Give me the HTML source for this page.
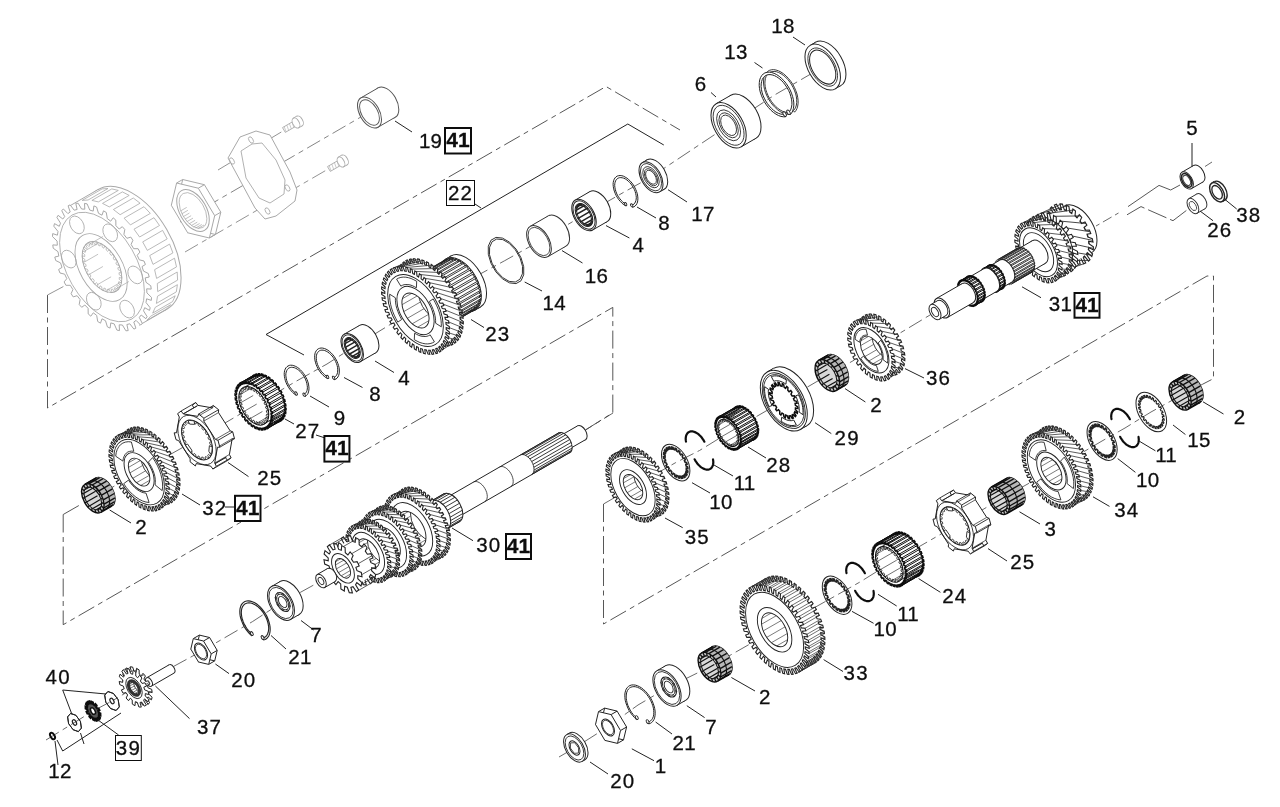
<!DOCTYPE html>
<html><head><meta charset="utf-8"><style>
html,body{margin:0;padding:0;background:#fff;width:1280px;height:807px;overflow:hidden}
svg{display:block}
text{font-family:"Liberation Sans",sans-serif;font-size:20.5px;fill:#111;letter-spacing:1.2px;stroke:#111;stroke-width:0.3px}
text.b{font-weight:bold;font-size:21px;letter-spacing:0;stroke:#111;stroke-width:0.3px}
</style></head><body>
<svg width="1280" height="807" viewBox="0 0 1280 807">
<defs><filter id="soft" x="0" y="0" width="1" height="1"><feGaussianBlur stdDeviation="0.45"/></filter></defs>
<rect width="1280" height="807" fill="#fff"/>
<g filter="url(#soft)">
<path d="M47.5 295 L47.5 408 L606 86.5 L680 130" fill="none" stroke="#444" stroke-width="0.9" stroke-dasharray="18 4.5 5 4.5"/>
<path d="M63.2 514.5 L63.2 624.7 L612.8 307.4 L612.8 412.8 L579 434" fill="none" stroke="#444" stroke-width="0.9" stroke-dasharray="18 4.5 5 4.5"/>
<path d="M603.5 504 L603.5 624 L1207 276 L1213.5 276 L1213.5 378.6 L1203 384" fill="none" stroke="#444" stroke-width="0.9" stroke-dasharray="18 4.5 5 4.5"/>
<path d="M47.5 295 L102 266" fill="none" stroke="#8a8a8a" stroke-width="0.9" stroke-dasharray="18 4.5 5 4.5"/>
<path d="M180 222 L366 114" fill="none" stroke="#666" stroke-width="0.8" stroke-dasharray="15 4.6 5.2 4.6"/>
<path d="M218 170 L283 131" fill="none" stroke="#777" stroke-width="0.8" stroke-dasharray="15 4.6 5.2 4.6"/>
<path d="M185 252 L330 168" fill="none" stroke="#777" stroke-width="0.8" stroke-dasharray="15 4.6 5.2 4.6"/>
<path d="M579 434 L613 413" fill="none" stroke="#444" stroke-width="0.8" stroke-dasharray="15 4.6 5.2 4.6"/>
<path d="M63.2 514.5 L81 504.3" fill="none" stroke="#444" stroke-width="0.9" stroke-dasharray="18 4.5 5 4.5"/>
<path d="M92.8 498.4 L139 472 L196 440 L254 406 L296.6 381 L327 364 L352 348 L414.6 309.5 L504.5 260.8 L539 241.5 L584 215 L623 192.7 L651 177 L728.6 125.3 L775.4 94.5 L822.7 67.1 L838 58" fill="none" stroke="#444" stroke-width="0.8" stroke-dasharray="15 4.6 5.2 4.6"/>
<path d="M46 740 L52.5 736 L74.5 722.5 L93 711 L112 701 L134 688 L201 651.5 L252.5 621.6 L281 603 L321 581" fill="none" stroke="#444" stroke-width="0.8" stroke-dasharray="15 4.6 5.2 4.6"/>
<path d="M603.5 504 L633 487 L675.7 462.6 L699.5 450.5 L728 433 L783.8 400.7 L827.3 375.5 L871.4 350.3 L935 312" fill="none" stroke="#444" stroke-width="0.8" stroke-dasharray="15 4.6 5.2 4.6"/>
<path d="M559 757 L574.5 748 L607.5 727 L638 705 L667 688 L709.5 667 L774.6 630 L837 595 L860 582 L889 564 L955 526 L999 500 L1051 471 L1102 441 L1125 428 L1151 412 L1180 396 L1203 384" fill="none" stroke="#444" stroke-width="0.8" stroke-dasharray="15 4.6 5.2 4.6"/>
<path d="M1096 226 L1122 211" fill="none" stroke="#444" stroke-width="0.8" stroke-dasharray="4 4 10 4"/>
<path d="M1205 166.5 L1212 162" fill="none" stroke="#444" stroke-width="0.8"/>
<ellipse cx="132.3" cy="249.5" rx="39.8" ry="69" transform="rotate(-30 132.3 249.5)" fill="#fff" stroke="#a8a8a8" stroke-width="1.0"/>
<path d="M70.1 205.7 L97.8 189.7 L166.8 309.3 L139.1 325.3Z" fill="#fff" stroke="none" stroke-width="0"/>
<line x1="70.1" y1="205.7" x2="97.8" y2="189.7" stroke="#a8a8a8" stroke-width="1.0"/>
<line x1="139.1" y1="325.3" x2="166.8" y2="309.3" stroke="#a8a8a8" stroke-width="1.0"/>
<path d="M142.7 241.9 L162.6 230.4 L167.2 238.9 L147.3 250.4Z" fill="none" stroke="#a8a8a8" stroke-width="0.8"/>
<path d="M149.7 255.6 L169.6 244.1 L172.9 252.9 L153 264.4Z" fill="none" stroke="#a8a8a8" stroke-width="0.8"/>
<path d="M154.6 269.7 L174.5 258.2 L176.5 266.9 L156.6 278.4Z" fill="none" stroke="#a8a8a8" stroke-width="0.8"/>
<path d="M157.3 283.5 L177.2 272 L177.6 280.1 L157.7 291.6Z" fill="none" stroke="#a8a8a8" stroke-width="0.8"/>
<path d="M157.5 296.2 L177.4 284.7 L176.3 291.9 L156.4 303.4Z" fill="none" stroke="#a8a8a8" stroke-width="0.8"/>
<path d="M155.3 307.3 L175.2 295.8 L172.6 301.6 L152.7 313.1Z" fill="none" stroke="#a8a8a8" stroke-width="0.8"/>
<path d="M150.7 316.2 L170.7 304.7 L166.8 308.9 L146.8 320.4Z" fill="none" stroke="#a8a8a8" stroke-width="0.8"/>
<path d="M82.1 200.4 L102.1 188.9 L108 188.5 L88.1 200Z" fill="none" stroke="#a8a8a8" stroke-width="0.8"/>
<path d="M91.9 200.4 L111.8 188.9 L118.3 190.4 L98.4 201.9Z" fill="none" stroke="#a8a8a8" stroke-width="0.8"/>
<path d="M102.5 203.4 L122.4 191.9 L129.2 195.4 L109.3 206.9Z" fill="none" stroke="#a8a8a8" stroke-width="0.8"/>
<path d="M113.4 209.5 L133.3 198 L140.1 203.2 L120.1 214.7Z" fill="none" stroke="#a8a8a8" stroke-width="0.8"/>
<path d="M124.1 218.2 L144 206.7 L150.3 213.4 L130.4 224.9Z" fill="none" stroke="#a8a8a8" stroke-width="0.8"/>
<path d="M134 229.2 L154 217.7 L159.5 225.5 L139.6 237Z" fill="none" stroke="#a8a8a8" stroke-width="0.8"/>
<path d="M133.7 248.7 L138.1 248.7 L139.9 252.1 L137.2 255.3 L139.3 259.8 L144 261 L145.4 264.5 L142 266.6 L143.5 271.1 L148.3 273.5 L149.2 277 L145.2 277.9 L146 282.3 L150.8 285.8 L151.2 289.1 L146.7 288.8 L146.9 292.9 L151.5 297.4 L151.3 300.4 L146.6 298.8 L146 302.5 L150.2 307.8 L149.5 310.4 L144.7 307.7 L143.5 310.8 L147.1 316.6 L145.9 318.7 L141.2 315 L139.3 317.4 L142.3 323.5 L140.6 325 L136.1 320.4 L133.8 322 L135.9 328.2 L133.9 329.1 L129.8 323.8 L126.9 324.5 L128.2 330.6 L125.9 330.8 L122.4 325 L119.2 324.8 L119.5 330.6 L116.9 330.1 L114.2 323.9 L110.8 322.9 L110.1 328.1 L107.4 326.9 L105.5 320.7 L102 318.8 L100.5 323.2 L97.7 321.5 L96.7 315.4 L93.3 312.8 L90.8 316.2 L88.2 313.9 L88.1 308.3 L84.8 305 L81.7 307.3 L79.2 304.5 L80.1 299.6 L77.1 295.7 L73.2 296.9 L71.1 293.7 L72.9 289.6 L70.3 285.3 L65.9 285.3 L64.1 281.9 L66.8 278.7 L64.7 274.2 L60 273 L58.6 269.5 L62 267.4 L60.5 262.9 L55.7 260.5 L54.8 257 L58.8 256.1 L58 251.7 L53.2 248.2 L52.8 244.9 L57.3 245.2 L57.1 241.1 L52.5 236.6 L52.7 233.6 L57.4 235.2 L58 231.5 L53.8 226.2 L54.5 223.6 L59.3 226.3 L60.5 223.2 L56.9 217.4 L58.1 215.3 L62.8 219 L64.7 216.6 L61.7 210.5 L63.4 209 L67.9 213.6 L70.2 212 L68.1 205.8 L70.1 204.9 L74.2 210.2 L77.1 209.5 L75.8 203.4 L78.1 203.2 L81.6 209 L84.8 209.2 L84.5 203.4 L87.1 203.9 L89.8 210.1 L93.2 211.1 L93.9 205.9 L96.6 207.1 L98.5 213.3 L102 215.2 L103.5 210.8 L106.3 212.5 L107.3 218.6 L110.7 221.2 L113.2 217.8 L115.8 220.1 L115.9 225.7 L119.2 229 L122.3 226.7 L124.8 229.5 L123.9 234.4 L126.9 238.3 L130.8 237.1 L132.9 240.3 L131.1 244.4Z" fill="#fff" stroke="#a8a8a8" stroke-width="1.0"/>
<ellipse cx="102" cy="267" rx="34.6" ry="60" transform="rotate(-30 102 267)" fill="none" stroke="#a8a8a8" stroke-width="0.8"/>
<ellipse cx="101.1" cy="267.5" rx="21.3" ry="37" transform="rotate(-30 101.1 267.5)" fill="#fff" stroke="#a8a8a8" stroke-width="0.9"/>
<ellipse cx="102" cy="267" rx="16.2" ry="28" transform="rotate(-30 102 267)" fill="#fff" stroke="#a8a8a8" stroke-width="0.9"/>
<path d="M114.2 259.9 L116.4 259.6 L117.4 261.5 L115.8 262.8 L116.7 264.8 L119 265.2 L119.8 267.2 L117.8 267.8 L118.3 269.8 L120.8 270.9 L121.3 272.9 L119 272.7 L119.2 274.7 L121.7 276.4 L121.8 278.3 L119.3 277.4 L119.2 279.2 L121.6 281.5 L121.3 283.1 L118.8 281.6 L118.3 283 L120.5 285.8 L119.9 287.1 L117.5 285 L116.7 286.1 L118.5 289.2 L117.6 290.1 L115.3 287.5 L114.2 288.2 L115.6 291.5 L114.4 292 L112.5 289 L111.2 289.3 L112.1 292.5 L110.7 292.6 L109.2 289.4 L107.7 289.2 L108 292.3 L106.5 291.9 L105.5 288.6 L103.9 288 L103.7 290.7 L102.1 289.9 L101.7 286.8 L100.1 285.8 L99.3 288.1 L97.7 286.8 L97.8 284 L96.3 282.6 L95 284.3 L93.5 282.8 L94.2 280.3 L92.8 278.6 L91 279.7 L89.8 277.9 L90.9 276 L89.8 274.1 L87.6 274.4 L86.6 272.5 L88.2 271.2 L87.3 269.2 L85 268.8 L84.2 266.8 L86.2 266.2 L85.7 264.2 L83.2 263.1 L82.7 261.1 L85 261.3 L84.8 259.3 L82.3 257.6 L82.2 255.7 L84.7 256.6 L84.8 254.8 L82.4 252.5 L82.7 250.9 L85.2 252.4 L85.7 251 L83.5 248.2 L84.1 246.9 L86.5 249 L87.3 247.9 L85.5 244.8 L86.4 243.9 L88.7 246.5 L89.8 245.8 L88.4 242.5 L89.6 242 L91.5 245 L92.8 244.7 L91.9 241.5 L93.3 241.4 L94.8 244.6 L96.3 244.8 L96 241.7 L97.5 242.1 L98.5 245.4 L100.1 246 L100.3 243.3 L101.9 244.1 L102.3 247.2 L103.9 248.2 L104.7 245.9 L106.3 247.2 L106.2 250 L107.7 251.4 L109 249.7 L110.5 251.2 L109.8 253.7 L111.2 255.4 L113 254.3 L114.2 256.1 L113.1 258Z" fill="none" stroke="#a8a8a8" stroke-width="0.7"/>
<ellipse cx="135.2" cy="274.9" rx="6.5" ry="9.5" transform="rotate(-30 135.2 274.9)" fill="none" stroke="#a8a8a8" stroke-width="0.8"/>
<ellipse cx="127.1" cy="309.1" rx="6.5" ry="9.5" transform="rotate(-30 127.1 309.1)" fill="none" stroke="#a8a8a8" stroke-width="0.8"/>
<ellipse cx="93.8" cy="301.2" rx="6.5" ry="9.5" transform="rotate(-30 93.8 301.2)" fill="none" stroke="#a8a8a8" stroke-width="0.8"/>
<ellipse cx="68.8" cy="259.1" rx="6.5" ry="9.5" transform="rotate(-30 68.8 259.1)" fill="none" stroke="#a8a8a8" stroke-width="0.8"/>
<ellipse cx="76.9" cy="224.9" rx="6.5" ry="9.5" transform="rotate(-30 76.9 224.9)" fill="none" stroke="#a8a8a8" stroke-width="0.8"/>
<ellipse cx="110.2" cy="232.8" rx="6.5" ry="9.5" transform="rotate(-30 110.2 232.8)" fill="none" stroke="#a8a8a8" stroke-width="0.8"/>
<line x1="115" y1="289.5" x2="128.9" y2="281.5" stroke="#a8a8a8" stroke-width="0.7"/>
<line x1="106.8" y1="290.3" x2="120.6" y2="282.3" stroke="#a8a8a8" stroke-width="0.7"/>
<line x1="97.2" y1="284.8" x2="111.1" y2="276.8" stroke="#a8a8a8" stroke-width="0.7"/>
<line x1="89" y1="274.5" x2="102.9" y2="266.5" stroke="#a8a8a8" stroke-width="0.7"/>
<line x1="84.2" y1="262.2" x2="98.1" y2="254.2" stroke="#a8a8a8" stroke-width="0.7"/>
<line x1="84.2" y1="251.3" x2="98.1" y2="243.3" stroke="#a8a8a8" stroke-width="0.7"/>
<line x1="89" y1="244.5" x2="102.9" y2="236.5" stroke="#a8a8a8" stroke-width="0.7"/>
<path d="M220.8 212.2 L215.4 234.5 L193.7 229.3 L177.4 201.8 L182.7 179.5 L204.4 184.7Z" fill="#fff" stroke="#a8a8a8" stroke-width="1.0"/>
<line x1="214.7" y1="215.7" x2="220.8" y2="212.2" stroke="#a8a8a8" stroke-width="1.0"/>
<line x1="209.4" y1="238" x2="215.4" y2="234.5" stroke="#a8a8a8" stroke-width="1.0"/>
<line x1="187.7" y1="232.8" x2="193.7" y2="229.3" stroke="#a8a8a8" stroke-width="1.0"/>
<line x1="171.3" y1="205.3" x2="177.4" y2="201.8" stroke="#a8a8a8" stroke-width="1.0"/>
<line x1="176.6" y1="183" x2="182.7" y2="179.5" stroke="#a8a8a8" stroke-width="1.0"/>
<line x1="198.3" y1="188.2" x2="204.4" y2="184.7" stroke="#a8a8a8" stroke-width="1.0"/>
<path d="M214.7 215.7 L209.4 238 L187.7 232.8 L171.3 205.3 L176.6 183 L198.3 188.2Z" fill="#fff" stroke="#a8a8a8" stroke-width="1.0"/>
<ellipse cx="193" cy="210.5" rx="13.3" ry="23" transform="rotate(-30 193 210.5)" fill="none" stroke="#a8a8a8" stroke-width="1.0"/>
<ellipse cx="193" cy="210.5" rx="11.3" ry="19.6" transform="rotate(-30 193 210.5)" fill="none" stroke="#a8a8a8" stroke-width="0.7"/>
<line x1="197.9" y1="228.5" x2="204" y2="225" stroke="#a8a8a8" stroke-width="0.7"/>
<line x1="195.7" y1="228" x2="201.8" y2="224.5" stroke="#a8a8a8" stroke-width="0.7"/>
<line x1="193.5" y1="227" x2="199.6" y2="223.5" stroke="#a8a8a8" stroke-width="0.7"/>
<line x1="191.3" y1="225.6" x2="197.3" y2="222.1" stroke="#a8a8a8" stroke-width="0.7"/>
<line x1="189.1" y1="223.8" x2="195.1" y2="220.3" stroke="#a8a8a8" stroke-width="0.7"/>
<line x1="187" y1="221.6" x2="193" y2="218.1" stroke="#a8a8a8" stroke-width="0.7"/>
<line x1="185" y1="219.2" x2="191.1" y2="215.7" stroke="#a8a8a8" stroke-width="0.7"/>
<line x1="183.3" y1="216.6" x2="189.4" y2="213.1" stroke="#a8a8a8" stroke-width="0.7"/>
<line x1="181.8" y1="213.8" x2="187.9" y2="210.3" stroke="#a8a8a8" stroke-width="0.7"/>
<line x1="180.6" y1="210.9" x2="186.7" y2="207.4" stroke="#a8a8a8" stroke-width="0.7"/>
<path d="M228 158 L240 137 L256 131 L270 135 L290 172 L297 190 L295 201 L276 216 L265 219 L255 208Z" fill="#fff" stroke="#a8a8a8" stroke-width="1.0"/>
<path d="M241 151 L252 144 L262 143 L276 160 L285 180 L284 194 L270 203 L259 198 L246 178Z" fill="none" stroke="#a8a8a8" stroke-width="0.9"/>
<ellipse cx="251" cy="140" rx="2" ry="3.5" transform="rotate(-30 251 140)" fill="none" stroke="#a8a8a8" stroke-width="0.8"/>
<ellipse cx="267.5" cy="211" rx="2" ry="3.5" transform="rotate(-30 267.5 211)" fill="none" stroke="#a8a8a8" stroke-width="0.8"/>
<ellipse cx="232" cy="161" rx="2" ry="3.5" transform="rotate(-30 232 161)" fill="none" stroke="#a8a8a8" stroke-width="0.8"/>
<ellipse cx="287.5" cy="188" rx="2" ry="3.5" transform="rotate(-30 287.5 188)" fill="none" stroke="#a8a8a8" stroke-width="0.8"/>
<path d="M282.5 127.6 L294.6 120.6 L297.4 125.4 L285.3 132.4Z" fill="#fff" stroke="#a8a8a8" stroke-width="0.9"/>
<line x1="284.2" y1="126.6" x2="286.1" y2="131.9" stroke="#a8a8a8" stroke-width="0.6"/>
<line x1="286.8" y1="125.1" x2="288.7" y2="130.4" stroke="#a8a8a8" stroke-width="0.6"/>
<line x1="289.4" y1="123.6" x2="291.3" y2="128.9" stroke="#a8a8a8" stroke-width="0.6"/>
<line x1="292" y1="122.1" x2="293.9" y2="127.4" stroke="#a8a8a8" stroke-width="0.6"/>
<ellipse cx="299.5" cy="121" rx="3.2" ry="5.5" transform="rotate(-30 299.5 121)" fill="#fff" stroke="#a8a8a8" stroke-width="0.9"/>
<path d="M293.2 118.2 L296.7 116.2 L302.2 125.8 L298.8 127.8Z" fill="#fff" stroke="none" stroke-width="0"/>
<line x1="293.2" y1="118.2" x2="296.7" y2="116.2" stroke="#a8a8a8" stroke-width="0.9"/>
<line x1="298.8" y1="127.8" x2="302.2" y2="125.8" stroke="#a8a8a8" stroke-width="0.9"/>
<ellipse cx="296" cy="123" rx="3.2" ry="5.5" transform="rotate(-30 296 123)" fill="#fff" stroke="#a8a8a8" stroke-width="0.9"/>
<path d="M327.5 166.6 L339.6 159.6 L342.4 164.4 L330.3 171.4Z" fill="#fff" stroke="#a8a8a8" stroke-width="0.9"/>
<line x1="329.2" y1="165.6" x2="331.1" y2="170.9" stroke="#a8a8a8" stroke-width="0.6"/>
<line x1="331.8" y1="164.1" x2="333.7" y2="169.4" stroke="#a8a8a8" stroke-width="0.6"/>
<line x1="334.4" y1="162.6" x2="336.3" y2="167.9" stroke="#a8a8a8" stroke-width="0.6"/>
<line x1="337" y1="161.1" x2="338.9" y2="166.4" stroke="#a8a8a8" stroke-width="0.6"/>
<ellipse cx="344.5" cy="160" rx="3.2" ry="5.5" transform="rotate(-30 344.5 160)" fill="#fff" stroke="#a8a8a8" stroke-width="0.9"/>
<path d="M338.2 157.2 L341.7 155.2 L347.2 164.8 L343.8 166.8Z" fill="#fff" stroke="none" stroke-width="0"/>
<line x1="338.2" y1="157.2" x2="341.7" y2="155.2" stroke="#a8a8a8" stroke-width="0.9"/>
<line x1="343.8" y1="166.8" x2="347.2" y2="164.8" stroke="#a8a8a8" stroke-width="0.9"/>
<ellipse cx="341" cy="162" rx="3.2" ry="5.5" transform="rotate(-30 341 162)" fill="#fff" stroke="#a8a8a8" stroke-width="0.9"/>
<ellipse cx="386.8" cy="102.5" rx="9.8" ry="17" transform="rotate(-30 386.8 102.5)" fill="#fff" stroke="#555" stroke-width="1.0"/>
<path d="M361 97.8 L378.3 87.8 L395.3 117.2 L378 127.2Z" fill="#fff" stroke="none" stroke-width="0"/>
<line x1="361" y1="97.8" x2="378.3" y2="87.8" stroke="#555" stroke-width="1.0"/>
<line x1="378" y1="127.2" x2="395.3" y2="117.2" stroke="#555" stroke-width="1.0"/>
<ellipse cx="369.5" cy="112.5" rx="9.8" ry="17" transform="rotate(-30 369.5 112.5)" fill="#fff" stroke="#555" stroke-width="1.0"/>
<ellipse cx="369.5" cy="112.5" rx="8.1" ry="14" transform="rotate(-30 369.5 112.5)" fill="none" stroke="#555" stroke-width="0.9"/>
<path d="M521 257.7 L523.7 266.7 L523.7 274.8 L521 280.8 L516 283.6 L509.5 282.9 L502.4 278.8 L495.9 271.9 L491 263.3 L488.3 254.3 L488.3 246.2 L491 240.2 L496 237.4 L502.5 238.1 L509.6 242.2 L516.1 249.1Z" fill="none" stroke="#333" stroke-width="1.0"/>
<path d="M520 257.9 L522.5 266.3 L522.4 273.8 L519.9 279.3 L515.3 282 L509.2 281.4 L502.7 277.6 L496.6 271.1 L492 263.1 L489.5 254.7 L489.6 247.2 L492.1 241.7 L496.7 239 L502.8 239.6 L509.3 243.4 L515.4 249.9Z" fill="none" stroke="#333" stroke-width="1.0"/>
<ellipse cx="557.2" cy="231" rx="10.1" ry="17.5" transform="rotate(-30 557.2 231)" fill="#fff" stroke="#333" stroke-width="1.0"/>
<path d="M530.2 226.3 L548.4 215.8 L565.9 246.2 L547.8 256.7Z" fill="#fff" stroke="none" stroke-width="0"/>
<line x1="530.2" y1="226.3" x2="548.4" y2="215.8" stroke="#333" stroke-width="1.0"/>
<line x1="547.8" y1="256.7" x2="565.9" y2="246.2" stroke="#333" stroke-width="1.0"/>
<ellipse cx="539" cy="241.5" rx="10.1" ry="17.5" transform="rotate(-30 539 241.5)" fill="#fff" stroke="#333" stroke-width="1.0"/>
<ellipse cx="539" cy="241.5" rx="8.9" ry="15.5" transform="rotate(-30 539 241.5)" fill="none" stroke="#333" stroke-width="0.8"/>
<ellipse cx="598.5" cy="206.6" rx="10" ry="17.3" transform="rotate(-30 598.5 206.6)" fill="#fff" stroke="#222" stroke-width="1.0"/>
<path d="M575.4 200 L589.9 191.6 L607.2 221.6 L592.6 230Z" fill="#fff" stroke="none" stroke-width="0"/>
<line x1="575.4" y1="200" x2="589.9" y2="191.6" stroke="#222" stroke-width="1.0"/>
<line x1="592.6" y1="230" x2="607.2" y2="221.6" stroke="#222" stroke-width="1.0"/>
<ellipse cx="584" cy="215" rx="10" ry="17.3" transform="rotate(-30 584 215)" fill="#fff" stroke="#222" stroke-width="1.0"/>
<ellipse cx="584" cy="215" rx="9" ry="15.6" transform="rotate(-30 584 215)" fill="none" stroke="#222" stroke-width="0.9"/>
<ellipse cx="584" cy="215" rx="7.2" ry="12.5" transform="rotate(-30 584 215)" fill="#fff" stroke="#222" stroke-width="1.0"/>
<clipPath id="nc1"><ellipse cx="584" cy="215" rx="7.2" ry="12.5" transform="rotate(-30 584 215)" fill="#000" stroke="none" stroke-width="0"/></clipPath>
<g clip-path="url(#nc1)"><line x1="590.2" y1="211.4" x2="601.9" y2="204.7" stroke="#222" stroke-width="1.5"/><line x1="589.2" y1="212" x2="590.2" y2="211.4" stroke="#222" stroke-width="1.3"/><line x1="592" y1="215.3" x2="603.6" y2="208.6" stroke="#222" stroke-width="1.5"/><line x1="590.6" y1="215.3" x2="592" y2="215.3" stroke="#222" stroke-width="1.3"/><line x1="592.8" y1="219.2" x2="604.4" y2="212.5" stroke="#222" stroke-width="1.5"/><line x1="591.3" y1="218.5" x2="592.8" y2="219.2" stroke="#222" stroke-width="1.3"/><line x1="592.5" y1="222.5" x2="604.1" y2="215.8" stroke="#222" stroke-width="1.5"/><line x1="591.1" y1="221.3" x2="592.5" y2="222.5" stroke="#222" stroke-width="1.3"/><line x1="591.2" y1="225" x2="602.9" y2="218.3" stroke="#222" stroke-width="1.5"/><line x1="590" y1="223.3" x2="591.2" y2="225" stroke="#222" stroke-width="1.3"/><line x1="589.1" y1="226.2" x2="600.7" y2="219.5" stroke="#222" stroke-width="1.5"/><line x1="588.2" y1="224.4" x2="589.1" y2="226.2" stroke="#222" stroke-width="1.3"/><line x1="586.3" y1="226.1" x2="597.9" y2="219.4" stroke="#222" stroke-width="1.5"/><line x1="585.9" y1="224.3" x2="586.3" y2="226.1" stroke="#222" stroke-width="1.3"/><line x1="583.2" y1="224.7" x2="594.9" y2="218" stroke="#222" stroke-width="1.5"/><line x1="583.4" y1="223.1" x2="583.2" y2="224.7" stroke="#222" stroke-width="1.3"/><line x1="580.3" y1="222.1" x2="591.9" y2="215.3" stroke="#222" stroke-width="1.5"/><line x1="580.9" y1="220.9" x2="580.3" y2="222.1" stroke="#222" stroke-width="1.3"/><line x1="577.8" y1="218.6" x2="589.4" y2="211.9" stroke="#222" stroke-width="1.5"/><line x1="578.8" y1="218" x2="577.8" y2="218.6" stroke="#222" stroke-width="1.3"/><line x1="576" y1="214.7" x2="587.7" y2="208" stroke="#222" stroke-width="1.5"/><line x1="577.4" y1="214.7" x2="576" y2="214.7" stroke="#222" stroke-width="1.3"/><line x1="575.2" y1="210.8" x2="586.9" y2="204.1" stroke="#222" stroke-width="1.5"/><line x1="576.7" y1="211.5" x2="575.2" y2="210.8" stroke="#222" stroke-width="1.3"/><line x1="575.5" y1="207.5" x2="587.1" y2="200.7" stroke="#222" stroke-width="1.5"/><line x1="576.9" y1="208.7" x2="575.5" y2="207.5" stroke="#222" stroke-width="1.3"/><line x1="576.8" y1="205" x2="588.4" y2="198.3" stroke="#222" stroke-width="1.5"/><line x1="578" y1="206.7" x2="576.8" y2="205" stroke="#222" stroke-width="1.3"/><line x1="578.9" y1="203.8" x2="590.6" y2="197" stroke="#222" stroke-width="1.5"/><line x1="579.8" y1="205.6" x2="578.9" y2="203.8" stroke="#222" stroke-width="1.3"/><line x1="581.7" y1="203.9" x2="593.4" y2="197.1" stroke="#222" stroke-width="1.5"/><line x1="582.1" y1="205.7" x2="581.7" y2="203.9" stroke="#222" stroke-width="1.3"/><line x1="584.8" y1="205.3" x2="596.4" y2="198.6" stroke="#222" stroke-width="1.5"/><line x1="584.6" y1="206.9" x2="584.8" y2="205.3" stroke="#222" stroke-width="1.3"/><line x1="587.7" y1="207.9" x2="599.4" y2="201.2" stroke="#222" stroke-width="1.5"/><line x1="587.1" y1="209.1" x2="587.7" y2="207.9" stroke="#222" stroke-width="1.3"/></g>
<ellipse cx="584" cy="215" rx="6" ry="10.4" transform="rotate(-30 584 215)" fill="none" stroke="#222" stroke-width="0.9"/>
<path d="M625.6 205.8 L623.8 204.7 L622.1 203.3 L620.5 201.6 L618.9 199.8 L617.5 197.8 L616.2 195.6 L615.2 193.4 L614.3 191.1 L613.7 188.9 L613.3 186.7 L613.1 184.6 L613.2 182.6 L613.6 180.8 L614.2 179.2 L615 177.9 L616 176.9 L617.2 176.1 L618.6 175.7 L620.1 175.5 L621.8 175.7 L623.5 176.2 L625.2 177.1 L627 178.2 L628.7 179.6 L630.4 181.2 L631.9 183 L633.4 185 L634.6 187.1 L635.7 189.4 L636.6 191.6 L637.3 193.9 L637.7 196.1 L637.9 198.2 L637.8 200.2 L637.5 202 L636.9 203.6 L636.1 205 L635.1 206 L633.9 206.8 L632.6 207.3 L631.6 205.3 L632.8 204.8 L633.9 204.2 L634.7 203.2 L635.4 202 L635.9 200.6 L636.2 199.1 L636.3 197.3 L636.1 195.5 L635.7 193.6 L635.2 191.6 L634.4 189.6 L633.4 187.7 L632.3 185.9 L631.1 184.1 L629.7 182.5 L628.3 181.1 L626.8 179.9 L625.3 178.9 L623.7 178.2 L622.3 177.8 L620.8 177.6 L619.5 177.7 L618.3 178.1 L617.2 178.8 L616.3 179.7 L615.6 180.8 L615.1 182.2 L614.8 183.7 L614.7 185.5 L614.9 187.3 L615.2 189.2 L615.8 191.2 L616.5 193.1 L617.4 195.1 L618.5 196.9 L619.8 198.7 L621.1 200.3 L622.5 201.7 L624 203 L625.6 204Z" fill="#fff" stroke="#222" stroke-width="1.0"/>
<ellipse cx="631.7" cy="205.4" rx="1" ry="1.8" transform="rotate(-30 631.7 205.4)" fill="#fff" stroke="#222" stroke-width="0.9"/>
<ellipse cx="625.6" cy="204.1" rx="1" ry="1.8" transform="rotate(-30 625.6 204.1)" fill="#fff" stroke="#222" stroke-width="0.9"/>
<ellipse cx="655.7" cy="174.5" rx="9.8" ry="17" transform="rotate(-30 655.7 174.5)" fill="#fff" stroke="#222" stroke-width="1.0"/>
<path d="M642.5 162.5 L647.2 159.8 L664.2 189.2 L659.5 191.9Z" fill="#fff" stroke="none" stroke-width="0"/>
<line x1="642.5" y1="162.5" x2="647.2" y2="159.8" stroke="#222" stroke-width="1.0"/>
<line x1="659.5" y1="191.9" x2="664.2" y2="189.2" stroke="#222" stroke-width="1.0"/>
<ellipse cx="651" cy="177.2" rx="9.8" ry="17" transform="rotate(-30 651 177.2)" fill="#fff" stroke="#222" stroke-width="1.0"/>
<ellipse cx="651" cy="177.2" rx="8.6" ry="15" transform="rotate(-30 651 177.2)" fill="none" stroke="#222" stroke-width="0.8"/>
<ellipse cx="651" cy="177.2" rx="6.7" ry="11.6" transform="rotate(-30 651 177.2)" fill="none" stroke="#222" stroke-width="0.8"/>
<ellipse cx="651" cy="177.2" rx="5.4" ry="9.4" transform="rotate(-30 651 177.2)" fill="none" stroke="#222" stroke-width="0.8"/>
<ellipse cx="651" cy="177.2" rx="4.4" ry="7.7" transform="rotate(-30 651 177.2)" fill="none" stroke="#222" stroke-width="0.8"/>
<ellipse cx="465.7" cy="281.5" rx="17" ry="29.5" transform="rotate(-30 465.7 281.5)" fill="#fff" stroke="#222" stroke-width="1.0"/>
<path d="M445.8 259 L451 256 L480.5 307 L475.3 310Z" fill="#fff" stroke="none" stroke-width="0"/>
<line x1="445.8" y1="259" x2="451" y2="256" stroke="#222" stroke-width="1.0"/>
<line x1="475.3" y1="310" x2="480.5" y2="307" stroke="#222" stroke-width="1.0"/>
<ellipse cx="460.5" cy="284.5" rx="17" ry="29.5" transform="rotate(-30 460.5 284.5)" fill="#fff" stroke="#222" stroke-width="1.0"/>
<path d="M474 276.7 L475.3 276.7 L476.2 278.2 L475.3 279.2 L476.1 280.9 L477.6 281.2 L478.2 282.8 L477.2 283.4 L477.8 285.2 L479.3 285.8 L479.8 287.4 L478.5 287.7 L478.9 289.4 L480.4 290.4 L480.7 291.9 L479.4 291.9 L479.5 293.6 L481 294.7 L481 296.2 L479.6 295.9 L479.5 297.4 L480.9 298.8 L480.7 300.2 L479.3 299.5 L479 300.8 L480.2 302.5 L479.8 303.6 L478.3 302.6 L477.8 303.8 L478.9 305.6 L478.3 306.5 L476.9 305.3 L476.2 306.2 L477.1 308 L476.3 308.7 L474.9 307.2 L474 307.9 L474.7 309.8 L473.8 310.2 L472.6 308.5 L471.5 308.9 L471.9 310.8 L470.9 310.9 L469.8 309.1 L468.6 309.1 L468.8 310.9 L467.7 310.8 L466.8 308.9 L465.5 308.6 L465.4 310.3 L464.2 309.9 L463.6 308 L462.2 307.4 L461.9 308.9 L460.6 308.2 L460.2 306.3 L458.9 305.5 L458.3 306.8 L457.1 305.8 L456.9 304 L455.6 302.9 L454.8 303.9 L453.6 302.8 L453.7 301.1 L452.5 299.8 L451.5 300.5 L450.4 299.2 L450.7 297.7 L449.6 296.2 L448.4 296.6 L447.4 295.2 L448.1 293.9 L447.1 292.3 L445.7 292.3 L444.9 290.8 L445.7 289.8 L444.9 288.1 L443.5 287.8 L442.8 286.2 L443.9 285.6 L443.3 283.8 L441.8 283.2 L441.3 281.6 L442.5 281.3 L442.1 279.6 L440.6 278.6 L440.4 277.1 L441.7 277.1 L441.5 275.4 L440.1 274.3 L440 272.8 L441.5 273.1 L441.5 271.6 L440.2 270.2 L440.3 268.8 L441.8 269.5 L442.1 268.2 L440.8 266.5 L441.2 265.4 L442.7 266.4 L443.3 265.2 L442.1 263.4 L442.7 262.5 L444.2 263.7 L444.9 262.8 L444 261 L444.8 260.3 L446.1 261.8 L447 261.1 L446.3 259.2 L447.3 258.8 L448.5 260.5 L449.6 260.1 L449.1 258.2 L450.2 258.1 L451.3 259.9 L452.5 259.9 L452.3 258.1 L453.4 258.2 L454.3 260.1 L455.6 260.4 L455.6 258.7 L456.9 259.1 L457.5 261 L458.9 261.6 L459.2 260.1 L460.4 260.8 L460.8 262.7 L462.2 263.5 L462.7 262.2 L464 263.2 L464.1 265 L465.5 266.1 L466.2 265.1 L467.4 266.2 L467.3 267.9 L468.6 269.2 L469.6 268.5 L470.7 269.8 L470.3 271.3 L471.5 272.8 L472.6 272.4 L473.6 273.8 L473 275.1Z" fill="#fff" stroke="#222" stroke-width="1.0"/>
<path d="M414.1 280.1 L447 261.1 L474 307.9 L441.1 326.9Z" fill="#fff" stroke="none" stroke-width="0"/>
<line x1="442.4" y1="295.7" x2="475.3" y2="276.7" stroke="#222" stroke-width="0.9"/>
<line x1="443.3" y1="297.2" x2="476.2" y2="278.2" stroke="#222" stroke-width="0.9"/>
<line x1="444.7" y1="300.2" x2="477.6" y2="281.2" stroke="#222" stroke-width="0.9"/>
<line x1="445.3" y1="301.8" x2="478.2" y2="282.8" stroke="#222" stroke-width="0.9"/>
<line x1="446.4" y1="304.8" x2="479.3" y2="285.8" stroke="#222" stroke-width="0.9"/>
<line x1="446.8" y1="306.4" x2="479.8" y2="287.4" stroke="#222" stroke-width="0.9"/>
<line x1="447.5" y1="309.4" x2="480.4" y2="290.4" stroke="#222" stroke-width="0.9"/>
<line x1="447.8" y1="310.9" x2="480.7" y2="291.9" stroke="#222" stroke-width="0.9"/>
<line x1="448.1" y1="313.7" x2="481" y2="294.7" stroke="#222" stroke-width="0.9"/>
<line x1="448.1" y1="315.2" x2="481" y2="296.2" stroke="#222" stroke-width="0.9"/>
<line x1="448" y1="317.8" x2="480.9" y2="298.8" stroke="#222" stroke-width="0.9"/>
<line x1="447.8" y1="319.2" x2="480.7" y2="300.2" stroke="#222" stroke-width="0.9"/>
<line x1="447.3" y1="321.5" x2="480.2" y2="302.5" stroke="#222" stroke-width="0.9"/>
<line x1="446.9" y1="322.6" x2="479.8" y2="303.6" stroke="#222" stroke-width="0.9"/>
<line x1="446" y1="324.6" x2="478.9" y2="305.6" stroke="#222" stroke-width="0.9"/>
<line x1="445.4" y1="325.5" x2="478.3" y2="306.5" stroke="#222" stroke-width="0.9"/>
<line x1="444.2" y1="327" x2="477.1" y2="308" stroke="#222" stroke-width="0.9"/>
<line x1="443.4" y1="327.7" x2="476.3" y2="308.7" stroke="#222" stroke-width="0.9"/>
<line x1="441.8" y1="328.8" x2="474.7" y2="309.8" stroke="#222" stroke-width="0.9"/>
<line x1="413.4" y1="278.2" x2="446.3" y2="259.2" stroke="#222" stroke-width="0.9"/>
<line x1="414.4" y1="277.8" x2="447.3" y2="258.8" stroke="#222" stroke-width="0.9"/>
<line x1="416.2" y1="277.2" x2="449.1" y2="258.2" stroke="#222" stroke-width="0.9"/>
<line x1="417.3" y1="277.1" x2="450.2" y2="258.1" stroke="#222" stroke-width="0.9"/>
<line x1="419.3" y1="277.1" x2="452.3" y2="258.1" stroke="#222" stroke-width="0.9"/>
<line x1="420.5" y1="277.2" x2="453.4" y2="258.2" stroke="#222" stroke-width="0.9"/>
<line x1="422.7" y1="277.7" x2="455.6" y2="258.7" stroke="#222" stroke-width="0.9"/>
<line x1="424" y1="278.1" x2="456.9" y2="259.1" stroke="#222" stroke-width="0.9"/>
<line x1="426.3" y1="279.1" x2="459.2" y2="260.1" stroke="#222" stroke-width="0.9"/>
<line x1="427.5" y1="279.8" x2="460.4" y2="260.8" stroke="#222" stroke-width="0.9"/>
<line x1="429.8" y1="281.2" x2="462.7" y2="262.2" stroke="#222" stroke-width="0.9"/>
<line x1="431.1" y1="282.2" x2="464" y2="263.2" stroke="#222" stroke-width="0.9"/>
<line x1="433.3" y1="284.1" x2="466.2" y2="265.1" stroke="#222" stroke-width="0.9"/>
<line x1="434.5" y1="285.2" x2="467.4" y2="266.2" stroke="#222" stroke-width="0.9"/>
<line x1="436.7" y1="287.5" x2="469.6" y2="268.5" stroke="#222" stroke-width="0.9"/>
<line x1="437.8" y1="288.8" x2="470.7" y2="269.8" stroke="#222" stroke-width="0.9"/>
<line x1="439.7" y1="291.4" x2="472.6" y2="272.4" stroke="#222" stroke-width="0.9"/>
<line x1="440.7" y1="292.8" x2="473.6" y2="273.8" stroke="#222" stroke-width="0.9"/>
<path d="M441.1 295.7 L442.4 295.7 L443.3 297.2 L442.4 298.2 L443.2 299.9 L444.7 300.2 L445.3 301.8 L444.3 302.4 L444.9 304.2 L446.4 304.8 L446.8 306.4 L445.6 306.7 L446 308.4 L447.5 309.4 L447.8 310.9 L446.4 310.9 L446.6 312.6 L448.1 313.7 L448.1 315.2 L446.7 314.9 L446.6 316.4 L448 317.8 L447.8 319.2 L446.3 318.5 L446 319.8 L447.3 321.5 L446.9 322.6 L445.4 321.6 L444.9 322.8 L446 324.6 L445.4 325.5 L444 324.3 L443.2 325.2 L444.2 327 L443.4 327.7 L442 326.2 L441.1 326.9 L441.8 328.8 L440.9 329.2 L439.7 327.5 L438.6 327.9 L439 329.8 L438 329.9 L436.9 328.1 L435.7 328.1 L435.9 329.9 L434.7 329.8 L433.9 327.9 L432.6 327.6 L432.5 329.3 L431.3 328.9 L430.6 327 L429.3 326.4 L429 327.9 L427.7 327.2 L427.3 325.3 L426 324.5 L425.4 325.8 L424.2 324.8 L424 323 L422.7 321.9 L421.9 322.9 L420.7 321.8 L420.8 320.1 L419.6 318.8 L418.6 319.5 L417.5 318.2 L417.8 316.7 L416.7 315.2 L415.5 315.6 L414.5 314.2 L415.1 312.9 L414.1 311.3 L412.8 311.3 L412 309.8 L412.8 308.8 L412 307.1 L410.6 306.8 L409.9 305.2 L411 304.6 L410.3 302.8 L408.9 302.2 L408.4 300.6 L409.6 300.3 L409.2 298.6 L407.7 297.6 L407.5 296.1 L408.8 296.1 L408.6 294.4 L407.2 293.3 L407.1 291.8 L408.6 292.1 L408.6 290.6 L407.2 289.2 L407.4 287.8 L408.9 288.5 L409.2 287.2 L407.9 285.5 L408.3 284.4 L409.8 285.4 L410.3 284.2 L409.2 282.4 L409.8 281.5 L411.3 282.7 L412 281.8 L411.1 280 L411.8 279.3 L413.2 280.8 L414.1 280.1 L413.4 278.2 L414.4 277.8 L415.6 279.5 L416.7 279.1 L416.2 277.2 L417.3 277.1 L418.3 278.9 L419.6 278.9 L419.3 277.1 L420.5 277.2 L421.4 279.1 L422.7 279.4 L422.7 277.7 L424 278.1 L424.6 280 L426 280.6 L426.3 279.1 L427.5 279.8 L427.9 281.7 L429.3 282.5 L429.8 281.2 L431.1 282.2 L431.2 284 L432.6 285.1 L433.3 284.1 L434.5 285.2 L434.4 286.9 L435.7 288.2 L436.7 287.5 L437.8 288.8 L437.4 290.3 L438.6 291.8 L439.7 291.4 L440.7 292.8 L440.1 294.1Z" fill="#fff" stroke="#222" stroke-width="1.0"/>
<path d="M457.2 303.6 L460.3 304.3 L461 306.7 L458.2 306.9 L458.7 309 L461.9 310.3 L462.4 312.6 L459.4 312.2 L459.7 314.3 L462.9 316.1 L463.1 318.3 L460 317.4 L460.1 319.3 L463.3 321.6 L463.3 323.8 L460.1 322.2 L459.9 324.1 L463 326.8 L462.7 328.8 L459.5 326.7 L459.2 328.4 L462.1 331.6 L461.6 333.3 L458.5 330.8 L457.9 332.3 L460.6 335.8 L459.9 337.3 L456.8 334.3 L456 335.6 L458.6 339.3 L457.6 340.6 L454.7 337.3 L453.7 338.3 L455.9 342.2 L454.7 343.2 L452.1 339.6 L450.9 340.3 L452.8 344.4 L451.4 345 L449.1 341.2 L447.7 341.6 L449.3 345.7 L447.7 346.1 L445.7 342 L444.2 342.2 L445.3 346.3 L443.7 346.3 L442 342.2 L440.4 342 L441.1 346 L439.4 345.7 L438 341.6 L436.4 341.1 L436.7 345 L434.8 344.3 L433.9 340.3 L432.2 339.5 L432.1 343.1 L430.2 342.2 L429.7 338.2 L428.1 337.2 L427.5 340.5 L425.6 339.3 L425.5 335.5 L423.9 334.3 L422.9 337.2 L421.1 335.7 L421.4 332.2 L419.8 330.7 L418.4 333.2 L416.6 331.5 L417.5 328.4 L415.9 326.7 L414.1 328.7 L412.5 326.7 L413.7 324 L412.3 322.2 L410.1 323.7 L408.6 321.5 L410.2 319.3 L409 317.3 L406.5 318.2 L405.2 316 L407.1 314.2 L406 312.1 L403.3 312.5 L402.2 310.2 L404.5 308.9 L403.5 306.8 L400.6 306.6 L399.6 304.2 L402.2 303.5 L401.5 301.4 L398.4 300.7 L397.7 298.3 L400.5 298.1 L400 296 L396.8 294.7 L396.3 292.4 L399.3 292.8 L399 290.7 L395.8 288.9 L395.6 286.7 L398.7 287.6 L398.6 285.7 L395.4 283.4 L395.5 281.2 L398.7 282.8 L398.8 280.9 L395.7 278.2 L396 276.2 L399.2 278.3 L399.5 276.6 L396.6 273.4 L397.1 271.7 L400.3 274.2 L400.8 272.7 L398.1 269.2 L398.8 267.7 L401.9 270.7 L402.7 269.4 L400.2 265.7 L401.1 264.4 L404 267.7 L405 266.7 L402.8 262.8 L404 261.8 L406.6 265.4 L407.8 264.7 L405.9 260.6 L407.3 260 L409.7 263.8 L411 263.4 L409.5 259.3 L411 258.9 L413.1 263 L414.5 262.8 L413.4 258.7 L415 258.7 L416.8 262.8 L418.3 263 L417.6 259 L419.4 259.3 L420.7 263.4 L422.3 263.9 L422 260 L423.9 260.7 L424.8 264.7 L426.5 265.5 L426.6 261.9 L428.5 262.8 L429 266.8 L430.7 267.8 L431.3 264.5 L433.1 265.7 L433.2 269.5 L434.8 270.7 L435.9 267.8 L437.7 269.3 L437.3 272.8 L438.9 274.3 L440.3 271.8 L442.1 273.5 L441.3 276.6 L442.8 278.3 L444.6 276.3 L446.2 278.3 L445 281 L446.4 282.8 L448.6 281.3 L450.1 283.5 L448.5 285.7 L449.8 287.7 L452.2 286.8 L453.5 289 L451.6 290.8 L452.7 292.9 L455.4 292.5 L456.6 294.8 L454.3 296.1 L455.2 298.2 L458.1 298.4 L459.1 300.8 L456.5 301.5Z" fill="#fff" stroke="#222" stroke-width="1.1"/>
<path d="M393.8 272.8 L407.6 264.8 L451.1 340.2 L437.2 348.2Z" fill="#fff" stroke="none" stroke-width="0"/>
<line x1="440.4" y1="298.4" x2="460.7" y2="305.5" stroke="#333" stroke-width="0.8"/>
<line x1="443.3" y1="304.2" x2="462.2" y2="311.5" stroke="#333" stroke-width="0.8"/>
<line x1="445.7" y1="310.2" x2="463" y2="317.2" stroke="#333" stroke-width="0.8"/>
<line x1="447.5" y1="316.1" x2="463.3" y2="322.7" stroke="#333" stroke-width="0.8"/>
<line x1="448.8" y1="322" x2="462.9" y2="327.8" stroke="#333" stroke-width="0.8"/>
<line x1="449.4" y1="327.7" x2="461.9" y2="332.4" stroke="#333" stroke-width="0.8"/>
<line x1="449.3" y1="333" x2="460.3" y2="336.5" stroke="#333" stroke-width="0.8"/>
<line x1="448.7" y1="337.9" x2="458.1" y2="340" stroke="#333" stroke-width="0.8"/>
<line x1="447.4" y1="342.3" x2="455.4" y2="342.7" stroke="#333" stroke-width="0.8"/>
<line x1="445.5" y1="346.1" x2="452.1" y2="344.7" stroke="#333" stroke-width="0.8"/>
<line x1="443.1" y1="349.3" x2="448.5" y2="345.9" stroke="#333" stroke-width="0.8"/>
<line x1="440.1" y1="351.7" x2="444.5" y2="346.3" stroke="#333" stroke-width="0.8"/>
<line x1="436.7" y1="353.3" x2="440.2" y2="345.9" stroke="#333" stroke-width="0.8"/>
<line x1="390.9" y1="269.3" x2="414.2" y2="258.7" stroke="#333" stroke-width="0.8"/>
<line x1="394.3" y1="267.7" x2="418.5" y2="259.1" stroke="#333" stroke-width="0.8"/>
<line x1="398.1" y1="266.8" x2="423" y2="260.3" stroke="#333" stroke-width="0.8"/>
<line x1="402.2" y1="266.8" x2="427.6" y2="262.3" stroke="#333" stroke-width="0.8"/>
<line x1="406.6" y1="267.5" x2="432.2" y2="265.1" stroke="#333" stroke-width="0.8"/>
<line x1="411.1" y1="269.1" x2="436.8" y2="268.5" stroke="#333" stroke-width="0.8"/>
<line x1="415.7" y1="271.4" x2="441.2" y2="272.6" stroke="#333" stroke-width="0.8"/>
<line x1="420.3" y1="274.5" x2="445.4" y2="277.3" stroke="#333" stroke-width="0.8"/>
<line x1="424.9" y1="278.3" x2="449.3" y2="282.4" stroke="#333" stroke-width="0.8"/>
<line x1="429.2" y1="282.6" x2="452.9" y2="287.9" stroke="#333" stroke-width="0.8"/>
<line x1="433.3" y1="287.5" x2="456" y2="293.6" stroke="#333" stroke-width="0.8"/>
<line x1="437.1" y1="292.7" x2="458.6" y2="299.6" stroke="#333" stroke-width="0.8"/>
<path d="M437.2 298 L439.8 297.2 L441.1 299.5 L438.9 301.1 L440 303.2 L442.8 303 L443.9 305.4 L441.4 306.4 L442.3 308.6 L445.3 309 L446.1 311.4 L443.4 311.8 L444.1 314 L447.2 315 L447.8 317.3 L444.9 317.2 L445.4 319.4 L448.6 320.8 L448.9 323.2 L445.9 322.5 L446.1 324.5 L449.3 326.6 L449.4 328.8 L446.2 327.5 L446.2 329.5 L449.4 332 L449.3 334 L446 332.3 L445.8 334 L448.9 337 L448.5 338.8 L445.3 336.6 L444.8 338.2 L447.7 341.5 L447.1 343.1 L444 340.4 L443.3 341.8 L445.9 345.4 L445.1 346.8 L442.1 343.7 L441.2 344.8 L443.6 348.7 L442.5 349.8 L439.8 346.3 L438.7 347.2 L440.8 351.3 L439.5 352.1 L437 348.3 L435.7 348.9 L437.5 353.1 L436 353.6 L433.8 349.6 L432.4 349.9 L433.7 354.1 L432.1 354.3 L430.2 350.2 L428.7 350.2 L429.7 354.3 L428 354.1 L426.4 350 L424.8 349.7 L425.3 353.7 L423.5 353.2 L422.4 349.1 L420.7 348.5 L420.8 352.3 L419 351.5 L418.2 347.4 L416.6 346.6 L416.2 350.1 L414.4 349 L414 345.1 L412.4 344 L411.6 347.2 L409.7 345.8 L409.9 342.2 L408.2 340.8 L407 343.5 L405.2 341.9 L405.8 338.6 L404.2 337 L402.6 339.3 L400.9 337.5 L401.9 334.5 L400.4 332.7 L398.5 334.6 L396.9 332.5 L398.3 330 L396.9 328.1 L394.6 329.3 L393.2 327.2 L395 325.1 L393.8 323 L391.2 323.8 L389.9 321.5 L392.1 319.9 L391 317.8 L388.2 318 L387.1 315.6 L389.6 314.6 L388.7 312.4 L385.7 312 L384.9 309.6 L387.6 309.2 L386.9 307 L383.8 306 L383.2 303.7 L386.1 303.8 L385.6 301.6 L382.4 300.2 L382.1 297.8 L385.1 298.5 L384.9 296.5 L381.7 294.4 L381.6 292.2 L384.8 293.5 L384.8 291.5 L381.6 289 L381.7 287 L385 288.7 L385.2 287 L382.1 284 L382.5 282.2 L385.7 284.4 L386.2 282.8 L383.3 279.5 L383.9 277.9 L387 280.6 L387.7 279.2 L385.1 275.6 L385.9 274.2 L388.9 277.3 L389.8 276.2 L387.4 272.3 L388.5 271.2 L391.2 274.7 L392.3 273.8 L390.2 269.7 L391.5 268.9 L394 272.7 L395.3 272.1 L393.5 267.9 L395 267.4 L397.2 271.4 L398.6 271.1 L397.3 266.9 L398.9 266.7 L400.8 270.8 L402.3 270.8 L401.3 266.7 L403 266.9 L404.6 271 L406.2 271.3 L405.7 267.3 L407.5 267.8 L408.6 271.9 L410.3 272.5 L410.2 268.7 L412 269.5 L412.8 273.6 L414.4 274.4 L414.8 270.9 L416.6 272 L417 275.9 L418.6 277 L419.4 273.8 L421.3 275.2 L421.1 278.8 L422.8 280.2 L424 277.5 L425.8 279.1 L425.2 282.4 L426.8 284 L428.4 281.7 L430.1 283.5 L429.1 286.5 L430.6 288.3 L432.5 286.4 L434.1 288.5 L432.7 291 L434.1 292.9 L436.4 291.7 L437.8 293.8 L436 295.9Z" fill="#fff" stroke="#222" stroke-width="1.1"/>
<ellipse cx="415.5" cy="310.5" rx="22.7" ry="39.4" transform="rotate(-30 415.5 310.5)" fill="none" stroke="#222" stroke-width="0.935"/>
<ellipse cx="415.5" cy="310.5" rx="15.2" ry="26.4" transform="rotate(-30 415.5 310.5)" fill="none" stroke="#222" stroke-width="0.935"/>
<ellipse cx="415.5" cy="310.5" rx="11.1" ry="19.2" transform="rotate(-30 415.5 310.5)" fill="none" stroke="#222" stroke-width="0.935"/>
<clipPath id="gb2"><ellipse cx="415.5" cy="310.5" rx="11.1" ry="19.2" transform="rotate(-30 415.5 310.5)" fill="#000" stroke="none" stroke-width="0"/></clipPath>
<g clip-path="url(#gb2)"><ellipse cx="432.1" cy="300.9" rx="11.1" ry="19.2" transform="rotate(-30 432.1 300.9)" fill="none" stroke="#222" stroke-width="0.8"/><line x1="417.6" y1="327.2" x2="434.2" y2="317.6" stroke="#222" stroke-width="0.6"/><line x1="412.2" y1="323.8" x2="428.9" y2="314.2" stroke="#222" stroke-width="0.6"/><line x1="407.4" y1="318.3" x2="424" y2="308.7" stroke="#222" stroke-width="0.6"/><line x1="403.8" y1="311.6" x2="420.4" y2="302" stroke="#222" stroke-width="0.6"/><line x1="402" y1="304.7" x2="418.7" y2="295.1" stroke="#222" stroke-width="0.6"/><line x1="402.4" y1="298.7" x2="419.1" y2="289.1" stroke="#222" stroke-width="0.6"/></g>
<path d="M433.2 298.9 L435.1 302.4 L436.8 305.9 L438.3 309.5 L439.5 313.1 L440.4 316.7 L441 320.2 L441.3 323.6 L441.3 326.8 L435.6 323.2 L435.6 320.7 L435.4 318.1 L434.9 315.3 L434.2 312.5 L433.2 309.7 L432.1 306.9 L430.8 304.2 L429.3 301.5Z" fill="none" stroke="#222" stroke-width="0.8800000000000001"/>
<path d="M434.4 341.8 L432.4 342.9 L430.1 343.6 L427.8 343.9 L425.2 343.8 L422.6 343.3 L419.9 342.5 L417.1 341.2 L414.3 339.7 L414.6 333.2 L416.7 334.4 L418.9 335.4 L421 336.1 L423.1 336.4 L425.1 336.5 L426.9 336.3 L428.6 335.7 L430.2 334.9Z" fill="none" stroke="#222" stroke-width="0.8800000000000001"/>
<path d="M397.8 322.1 L395.9 318.6 L394.2 315.1 L392.7 311.5 L391.5 307.9 L390.6 304.3 L390 300.8 L389.7 297.4 L389.7 294.2 L395.4 297.8 L395.4 300.3 L395.6 302.9 L396.1 305.7 L396.8 308.5 L397.8 311.3 L398.9 314.1 L400.2 316.8 L401.7 319.5Z" fill="none" stroke="#222" stroke-width="0.8800000000000001"/>
<path d="M396.6 279.2 L398.6 278.1 L400.9 277.4 L403.2 277.1 L405.8 277.2 L408.4 277.7 L411.1 278.5 L413.9 279.8 L416.7 281.3 L416.4 287.8 L414.3 286.6 L412.1 285.6 L410 284.9 L407.9 284.6 L405.9 284.5 L404.1 284.7 L402.4 285.3 L400.8 286.1Z" fill="none" stroke="#222" stroke-width="0.8800000000000001"/>
<ellipse cx="367.7" cy="339.1" rx="9.2" ry="15.9" transform="rotate(-30 367.7 339.1)" fill="#fff" stroke="#222" stroke-width="1.0"/>
<path d="M344.2 334.2 L359.8 325.3 L375.7 352.8 L360.1 361.8Z" fill="#fff" stroke="none" stroke-width="0"/>
<line x1="344.2" y1="334.2" x2="359.8" y2="325.3" stroke="#222" stroke-width="1.0"/>
<line x1="360.1" y1="361.8" x2="375.7" y2="352.8" stroke="#222" stroke-width="1.0"/>
<ellipse cx="352.2" cy="348" rx="9.2" ry="15.9" transform="rotate(-30 352.2 348)" fill="#fff" stroke="#222" stroke-width="1.0"/>
<ellipse cx="352.2" cy="348" rx="8.3" ry="14.3" transform="rotate(-30 352.2 348)" fill="none" stroke="#222" stroke-width="0.9"/>
<ellipse cx="352.2" cy="348" rx="6.6" ry="11.4" transform="rotate(-30 352.2 348)" fill="#fff" stroke="#222" stroke-width="1.0"/>
<clipPath id="nc3"><ellipse cx="352.2" cy="348" rx="6.6" ry="11.4" transform="rotate(-30 352.2 348)" fill="#000" stroke="none" stroke-width="0"/></clipPath>
<g clip-path="url(#nc3)"><line x1="357.9" y1="344.7" x2="370.3" y2="337.5" stroke="#222" stroke-width="1.5"/><line x1="357" y1="345.2" x2="357.9" y2="344.7" stroke="#222" stroke-width="1.3"/><line x1="359.5" y1="348.3" x2="371.9" y2="341.1" stroke="#222" stroke-width="1.5"/><line x1="358.3" y1="348.2" x2="359.5" y2="348.3" stroke="#222" stroke-width="1.3"/><line x1="360.3" y1="351.8" x2="372.7" y2="344.7" stroke="#222" stroke-width="1.5"/><line x1="358.9" y1="351.2" x2="360.3" y2="351.8" stroke="#222" stroke-width="1.3"/><line x1="360" y1="354.9" x2="372.4" y2="347.8" stroke="#222" stroke-width="1.5"/><line x1="358.7" y1="353.8" x2="360" y2="354.9" stroke="#222" stroke-width="1.3"/><line x1="358.8" y1="357.2" x2="371.2" y2="350" stroke="#222" stroke-width="1.5"/><line x1="357.7" y1="355.7" x2="358.8" y2="357.2" stroke="#222" stroke-width="1.3"/><line x1="356.8" y1="358.3" x2="369.2" y2="351.2" stroke="#222" stroke-width="1.5"/><line x1="356.1" y1="356.6" x2="356.8" y2="358.3" stroke="#222" stroke-width="1.3"/><line x1="354.3" y1="358.2" x2="366.7" y2="351.1" stroke="#222" stroke-width="1.5"/><line x1="353.9" y1="356.5" x2="354.3" y2="358.2" stroke="#222" stroke-width="1.3"/><line x1="351.5" y1="356.9" x2="363.9" y2="349.7" stroke="#222" stroke-width="1.5"/><line x1="351.6" y1="355.4" x2="351.5" y2="356.9" stroke="#222" stroke-width="1.3"/><line x1="348.8" y1="354.5" x2="361.2" y2="347.3" stroke="#222" stroke-width="1.5"/><line x1="349.4" y1="353.4" x2="348.8" y2="354.5" stroke="#222" stroke-width="1.3"/><line x1="346.5" y1="351.3" x2="358.9" y2="344.1" stroke="#222" stroke-width="1.5"/><line x1="347.4" y1="350.8" x2="346.5" y2="351.3" stroke="#222" stroke-width="1.3"/><line x1="344.9" y1="347.7" x2="357.3" y2="340.6" stroke="#222" stroke-width="1.5"/><line x1="346.1" y1="347.8" x2="344.9" y2="347.7" stroke="#222" stroke-width="1.3"/><line x1="344.1" y1="344.2" x2="356.5" y2="337" stroke="#222" stroke-width="1.5"/><line x1="345.5" y1="344.8" x2="344.1" y2="344.2" stroke="#222" stroke-width="1.3"/><line x1="344.4" y1="341.1" x2="356.8" y2="333.9" stroke="#222" stroke-width="1.5"/><line x1="345.7" y1="342.2" x2="344.4" y2="341.1" stroke="#222" stroke-width="1.3"/><line x1="345.6" y1="338.8" x2="358" y2="331.6" stroke="#222" stroke-width="1.5"/><line x1="346.7" y1="340.3" x2="345.6" y2="338.8" stroke="#222" stroke-width="1.3"/><line x1="347.6" y1="337.7" x2="360" y2="330.5" stroke="#222" stroke-width="1.5"/><line x1="348.3" y1="339.4" x2="347.6" y2="337.7" stroke="#222" stroke-width="1.3"/><line x1="350.1" y1="337.8" x2="362.5" y2="330.6" stroke="#222" stroke-width="1.5"/><line x1="350.5" y1="339.5" x2="350.1" y2="337.8" stroke="#222" stroke-width="1.3"/><line x1="352.9" y1="339.1" x2="365.3" y2="331.9" stroke="#222" stroke-width="1.5"/><line x1="352.8" y1="340.6" x2="352.9" y2="339.1" stroke="#222" stroke-width="1.3"/><line x1="355.6" y1="341.5" x2="368" y2="334.3" stroke="#222" stroke-width="1.5"/><line x1="355" y1="342.6" x2="355.6" y2="341.5" stroke="#222" stroke-width="1.3"/></g>
<ellipse cx="352.2" cy="348" rx="5.5" ry="9.5" transform="rotate(-30 352.2 348)" fill="none" stroke="#222" stroke-width="0.9"/>
<path d="M327.7 378.7 L325.9 377.6 L324.2 376.3 L322.5 374.7 L320.9 373 L319.5 371 L318.2 368.9 L317 366.7 L316.1 364.4 L315.4 362.2 L314.9 359.9 L314.7 357.8 L314.7 355.8 L314.9 353.9 L315.4 352.3 L316.2 350.8 L317.1 349.7 L318.3 348.8 L319.6 348.3 L321.1 348 L322.7 348.1 L324.4 348.5 L326.1 349.2 L327.9 350.2 L329.6 351.5 L331.3 353.1 L332.9 354.8 L334.4 356.8 L335.7 358.9 L336.9 361.1 L337.8 363.3 L338.6 365.6 L339.1 367.8 L339.3 370 L339.3 372 L339.1 373.9 L338.6 375.6 L337.9 377 L337 378.2 L335.9 379.1 L334.6 379.7 L333.6 377.6 L334.7 377.1 L335.7 376.3 L336.5 375.3 L337.1 374.1 L337.5 372.6 L337.7 371 L337.7 369.2 L337.5 367.3 L337.1 365.4 L336.4 363.4 L335.6 361.5 L334.6 359.5 L333.4 357.7 L332.1 356 L330.7 354.5 L329.3 353.2 L327.7 352 L326.2 351.2 L324.7 350.5 L323.2 350.2 L321.9 350.1 L320.6 350.3 L319.4 350.8 L318.4 351.6 L317.6 352.6 L316.9 353.8 L316.5 355.2 L316.3 356.8 L316.3 358.6 L316.5 360.5 L316.9 362.4 L317.5 364.4 L318.3 366.3 L319.3 368.2 L320.5 370.1 L321.7 371.8 L323.1 373.3 L324.6 374.7 L326.1 375.9 L327.6 376.8Z" fill="#fff" stroke="#222" stroke-width="1.0"/>
<ellipse cx="333.6" cy="377.8" rx="1" ry="1.8" transform="rotate(-30 333.6 377.8)" fill="#fff" stroke="#222" stroke-width="0.9"/>
<ellipse cx="327.6" cy="376.9" rx="1" ry="1.8" transform="rotate(-30 327.6 376.9)" fill="#fff" stroke="#222" stroke-width="0.9"/>
<path d="M296.1 395.2 L294.4 394 L292.7 392.5 L291.2 390.9 L289.7 389.1 L288.4 387.1 L287.2 385 L286.2 382.9 L285.4 380.7 L284.8 378.5 L284.4 376.4 L284.2 374.3 L284.3 372.4 L284.6 370.7 L285.2 369.1 L285.9 367.8 L286.9 366.8 L288 366 L289.3 365.4 L290.7 365.2 L292.3 365.3 L293.9 365.7 L295.6 366.4 L297.3 367.3 L299 368.5 L300.6 370 L302.2 371.7 L303.6 373.5 L304.9 375.5 L306.1 377.6 L307.1 379.7 L307.9 381.9 L308.5 384.1 L308.8 386.2 L309 388.2 L308.9 390.1 L308.5 391.9 L308 393.4 L307.2 394.7 L306.2 395.7 L305.1 396.5 L304 394.5 L305 393.8 L305.8 392.9 L306.5 391.8 L307 390.5 L307.3 389 L307.4 387.3 L307.2 385.6 L306.9 383.7 L306.4 381.8 L305.7 379.9 L304.9 378 L303.9 376.2 L302.7 374.5 L301.4 372.9 L300.1 371.4 L298.7 370.2 L297.2 369.1 L295.7 368.3 L294.3 367.7 L292.8 367.4 L291.5 367.3 L290.3 367.5 L289.1 367.9 L288.1 368.6 L287.3 369.6 L286.7 370.7 L286.2 372 L285.9 373.6 L285.8 375.2 L286 377 L286.3 378.8 L286.8 380.7 L287.5 382.6 L288.4 384.5 L289.4 386.3 L290.6 388 L291.9 389.6 L293.2 391.1 L294.7 392.3 L296.1 393.3Z" fill="#fff" stroke="#222" stroke-width="1.0"/>
<ellipse cx="304.1" cy="394.7" rx="1" ry="1.8" transform="rotate(-30 304.1 394.7)" fill="#fff" stroke="#222" stroke-width="0.9"/>
<ellipse cx="296.1" cy="393.5" rx="1" ry="1.8" transform="rotate(-30 296.1 393.5)" fill="#fff" stroke="#222" stroke-width="0.9"/>
<path d="M279.6 390.9 L280.8 390.9 L281.7 392.4 L280.9 393.3 L281.7 394.9 L283 395.2 L283.6 396.8 L282.7 397.4 L283.2 399.1 L284.6 399.7 L285 401.3 L283.9 401.5 L284.3 403.2 L285.6 404.1 L285.8 405.6 L284.6 405.5 L284.7 407.1 L286 408.3 L286 409.7 L284.7 409.3 L284.6 410.7 L285.8 412.1 L285.6 413.4 L284.2 412.7 L283.8 413.9 L284.9 415.5 L284.5 416.6 L283.1 415.6 L282.5 416.6 L283.5 418.3 L282.8 419.1 L281.5 417.9 L280.7 418.6 L281.5 420.4 L280.6 420.9 L279.4 419.5 L278.4 419.9 L279 421.7 L278 421.9 L276.9 420.3 L275.8 420.5 L276.1 422.2 L275 422.2 L274.1 420.4 L272.9 420.3 L272.9 421.9 L271.7 421.6 L271 419.8 L269.7 419.3 L269.5 420.7 L268.3 420.2 L267.8 418.4 L266.5 417.6 L266 418.8 L264.8 418 L264.6 416.3 L263.3 415.3 L262.6 416.2 L261.5 415.2 L261.5 413.6 L260.3 412.3 L259.4 413 L258.3 411.7 L258.6 410.4 L257.5 408.9 L256.4 409.3 L255.4 407.9 L256 406.7 L255 405.1 L253.8 405.1 L253 403.6 L253.7 402.7 L252.9 401.1 L251.6 400.8 L251 399.2 L252 398.6 L251.4 396.9 L250 396.3 L249.6 394.7 L250.7 394.5 L250.4 392.8 L249 391.9 L248.8 390.4 L250 390.5 L249.9 388.9 L248.6 387.7 L248.6 386.3 L249.9 386.7 L250.1 385.3 L248.8 383.9 L249.1 382.6 L250.4 383.3 L250.8 382.1 L249.7 380.5 L250.1 379.4 L251.5 380.4 L252.1 379.4 L251.1 377.7 L251.8 376.9 L253.1 378.1 L253.9 377.4 L253.2 375.6 L254 375.1 L255.2 376.5 L256.2 376.1 L255.7 374.3 L256.6 374.1 L257.7 375.7 L258.8 375.5 L258.6 373.8 L259.6 373.8 L260.5 375.6 L261.8 375.7 L261.7 374.1 L262.9 374.4 L263.6 376.2 L264.9 376.7 L265.1 375.3 L266.3 375.8 L266.8 377.6 L268.1 378.4 L268.6 377.2 L269.8 378 L270 379.7 L271.3 380.7 L272 379.8 L273.2 380.8 L273.1 382.4 L274.3 383.7 L275.2 383 L276.3 384.3 L276 385.6 L277.2 387.1 L278.2 386.7 L279.2 388.1 L278.7 389.3Z" fill="#fff" stroke="#111" stroke-width="1.6"/>
<path d="M241.5 384.5 L255 376.7 L279.6 419.3 L266.1 427.1Z" fill="#fff" stroke="none" stroke-width="0"/>
<line x1="267.3" y1="398.7" x2="280.8" y2="390.9" stroke="#111" stroke-width="1.0"/>
<line x1="268.1" y1="400.2" x2="281.7" y2="392.4" stroke="#111" stroke-width="1.0"/>
<line x1="269.5" y1="403" x2="283" y2="395.2" stroke="#111" stroke-width="1.0"/>
<line x1="270.1" y1="404.6" x2="283.6" y2="396.8" stroke="#111" stroke-width="1.0"/>
<line x1="271.1" y1="407.5" x2="284.6" y2="399.7" stroke="#111" stroke-width="1.0"/>
<line x1="271.5" y1="409.1" x2="285" y2="401.3" stroke="#111" stroke-width="1.0"/>
<line x1="272.1" y1="411.9" x2="285.6" y2="404.1" stroke="#111" stroke-width="1.0"/>
<line x1="272.3" y1="413.4" x2="285.8" y2="405.6" stroke="#111" stroke-width="1.0"/>
<line x1="272.5" y1="416.1" x2="286" y2="408.3" stroke="#111" stroke-width="1.0"/>
<line x1="272.5" y1="417.5" x2="286" y2="409.7" stroke="#111" stroke-width="1.0"/>
<line x1="272.3" y1="419.9" x2="285.8" y2="412.1" stroke="#111" stroke-width="1.0"/>
<line x1="272.1" y1="421.2" x2="285.6" y2="413.4" stroke="#111" stroke-width="1.0"/>
<line x1="271.4" y1="423.3" x2="284.9" y2="415.5" stroke="#111" stroke-width="1.0"/>
<line x1="271" y1="424.4" x2="284.5" y2="416.6" stroke="#111" stroke-width="1.0"/>
<line x1="270" y1="426.1" x2="283.5" y2="418.3" stroke="#111" stroke-width="1.0"/>
<line x1="269.3" y1="426.9" x2="282.8" y2="419.1" stroke="#111" stroke-width="1.0"/>
<line x1="267.9" y1="428.2" x2="281.5" y2="420.4" stroke="#111" stroke-width="1.0"/>
<line x1="267.1" y1="428.7" x2="280.6" y2="420.9" stroke="#111" stroke-width="1.0"/>
<line x1="239.7" y1="383.4" x2="253.2" y2="375.6" stroke="#111" stroke-width="1.0"/>
<line x1="240.5" y1="382.9" x2="254" y2="375.1" stroke="#111" stroke-width="1.0"/>
<line x1="242.2" y1="382.1" x2="255.7" y2="374.3" stroke="#111" stroke-width="1.0"/>
<line x1="243.1" y1="381.9" x2="256.6" y2="374.1" stroke="#111" stroke-width="1.0"/>
<line x1="245" y1="381.6" x2="258.6" y2="373.8" stroke="#111" stroke-width="1.0"/>
<line x1="246.1" y1="381.6" x2="259.6" y2="373.8" stroke="#111" stroke-width="1.0"/>
<line x1="248.2" y1="381.9" x2="261.7" y2="374.1" stroke="#111" stroke-width="1.0"/>
<line x1="249.4" y1="382.2" x2="262.9" y2="374.4" stroke="#111" stroke-width="1.0"/>
<line x1="251.6" y1="383.1" x2="265.1" y2="375.3" stroke="#111" stroke-width="1.0"/>
<line x1="252.8" y1="383.6" x2="266.3" y2="375.8" stroke="#111" stroke-width="1.0"/>
<line x1="255.1" y1="385" x2="268.6" y2="377.2" stroke="#111" stroke-width="1.0"/>
<line x1="256.3" y1="385.8" x2="269.8" y2="378" stroke="#111" stroke-width="1.0"/>
<line x1="258.5" y1="387.6" x2="272" y2="379.8" stroke="#111" stroke-width="1.0"/>
<line x1="259.6" y1="388.6" x2="273.2" y2="380.8" stroke="#111" stroke-width="1.0"/>
<line x1="261.7" y1="390.8" x2="275.2" y2="383" stroke="#111" stroke-width="1.0"/>
<line x1="262.8" y1="392.1" x2="276.3" y2="384.3" stroke="#111" stroke-width="1.0"/>
<line x1="264.7" y1="394.5" x2="278.2" y2="386.7" stroke="#111" stroke-width="1.0"/>
<line x1="265.7" y1="395.9" x2="279.2" y2="388.1" stroke="#111" stroke-width="1.0"/>
<path d="M266.1 398.7 L267.3 398.7 L268.1 400.2 L267.4 401.1 L268.2 402.7 L269.5 403 L270.1 404.6 L269.2 405.2 L269.7 406.9 L271.1 407.5 L271.5 409.1 L270.4 409.3 L270.8 411 L272.1 411.9 L272.3 413.4 L271.1 413.3 L271.2 414.9 L272.5 416.1 L272.5 417.5 L271.2 417.1 L271.1 418.5 L272.3 419.9 L272.1 421.2 L270.7 420.5 L270.3 421.7 L271.4 423.3 L271 424.4 L269.6 423.4 L269 424.4 L270 426.1 L269.3 426.9 L268 425.7 L267.2 426.4 L267.9 428.2 L267.1 428.7 L265.9 427.3 L264.9 427.7 L265.4 429.5 L264.5 429.7 L263.4 428.1 L262.3 428.3 L262.6 430 L261.5 430 L260.6 428.2 L259.3 428.1 L259.4 429.7 L258.2 429.4 L257.5 427.6 L256.2 427.1 L256 428.5 L254.8 428 L254.3 426.2 L253 425.4 L252.5 426.6 L251.3 425.8 L251.1 424.1 L249.8 423.1 L249.1 424 L248 423 L248 421.4 L246.8 420.1 L245.9 420.8 L244.8 419.5 L245.1 418.2 L244 416.7 L242.9 417.1 L241.9 415.7 L242.5 414.5 L241.5 412.9 L240.3 412.9 L239.5 411.4 L240.2 410.5 L239.4 408.9 L238.1 408.6 L237.5 407 L238.4 406.4 L237.9 404.7 L236.5 404.1 L236.1 402.5 L237.2 402.3 L236.8 400.6 L235.5 399.7 L235.3 398.2 L236.5 398.3 L236.4 396.7 L235.1 395.5 L235.1 394.1 L236.4 394.5 L236.5 393.1 L235.3 391.7 L235.5 390.4 L236.9 391.1 L237.3 389.9 L236.2 388.3 L236.6 387.2 L238 388.2 L238.6 387.2 L237.6 385.5 L238.3 384.7 L239.6 385.9 L240.4 385.2 L239.7 383.4 L240.5 382.9 L241.7 384.3 L242.7 383.9 L242.2 382.1 L243.1 381.9 L244.2 383.5 L245.3 383.3 L245 381.6 L246.1 381.6 L247 383.4 L248.3 383.5 L248.2 381.9 L249.4 382.2 L250.1 384 L251.4 384.5 L251.6 383.1 L252.8 383.6 L253.3 385.4 L254.6 386.2 L255.1 385 L256.3 385.8 L256.5 387.5 L257.8 388.5 L258.5 387.6 L259.6 388.6 L259.6 390.2 L260.8 391.5 L261.7 390.8 L262.8 392.1 L262.5 393.4 L263.6 394.9 L264.7 394.5 L265.7 395.9 L265.1 397.1Z" fill="#fff" stroke="#111" stroke-width="1.6"/>
<ellipse cx="253.8" cy="405.8" rx="12.2" ry="21.2" transform="rotate(-30 253.8 405.8)" fill="none" stroke="#111" stroke-width="1.0"/>
<path d="M262.8 400.6 L264.4 400.4 L265.2 401.9 L264 402.9 L264.7 404.5 L266.5 404.8 L267 406.4 L265.5 406.8 L266 408.4 L267.8 409.4 L268.1 410.9 L266.4 410.7 L266.5 412.3 L268.3 413.7 L268.3 415.1 L266.5 414.3 L266.3 415.7 L268 417.5 L267.7 418.7 L265.9 417.5 L265.4 418.5 L266.9 420.7 L266.3 421.6 L264.6 419.9 L263.8 420.7 L265 423 L264.2 423.6 L262.6 421.5 L261.7 421.9 L262.4 424.3 L261.4 424.5 L260.2 422.2 L259 422.2 L259.4 424.5 L258.2 424.3 L257.3 422 L256.1 421.6 L256 423.7 L254.8 423.1 L254.3 420.8 L253 420 L252.5 421.8 L251.3 420.9 L251.2 418.7 L250 417.7 L249.1 418.9 L247.9 417.8 L248.3 415.9 L247.2 414.6 L245.9 415.4 L244.9 414 L245.7 412.5 L244.8 411 L243.2 411.2 L242.4 409.7 L243.6 408.7 L242.9 407.1 L241.1 406.8 L240.6 405.2 L242.1 404.8 L241.6 403.2 L239.8 402.2 L239.5 400.7 L241.2 400.9 L241.1 399.3 L239.3 397.9 L239.3 396.5 L241.1 397.3 L241.3 395.9 L239.6 394.1 L239.9 392.9 L241.7 394.1 L242.2 393.1 L240.7 390.9 L241.3 390 L243 391.7 L243.8 390.9 L242.6 388.6 L243.4 388 L245 390.1 L245.9 389.7 L245.2 387.3 L246.2 387.1 L247.4 389.4 L248.6 389.4 L248.2 387.1 L249.4 387.3 L250.3 389.6 L251.5 390 L251.6 387.9 L252.8 388.5 L253.3 390.8 L254.6 391.6 L255.1 389.8 L256.3 390.7 L256.4 392.9 L257.6 393.9 L258.5 392.7 L259.7 393.8 L259.3 395.7 L260.4 397 L261.7 396.2 L262.7 397.6 L261.9 399.1Z" fill="none" stroke="#111" stroke-width="0.8"/>
<line x1="266.5" y1="422.3" x2="280" y2="414.5" stroke="#111" stroke-width="0.6"/>
<line x1="261.8" y1="425.1" x2="275.3" y2="417.3" stroke="#111" stroke-width="0.6"/>
<line x1="255.5" y1="424" x2="269" y2="416.2" stroke="#111" stroke-width="0.6"/>
<line x1="248.9" y1="419.3" x2="262.4" y2="411.5" stroke="#111" stroke-width="0.6"/>
<line x1="243.2" y1="411.9" x2="256.7" y2="404.1" stroke="#111" stroke-width="0.6"/>
<line x1="239.7" y1="403.3" x2="253.2" y2="395.5" stroke="#111" stroke-width="0.6"/>
<line x1="238.9" y1="395.3" x2="252.4" y2="387.5" stroke="#111" stroke-width="0.6"/>
<line x1="241.1" y1="389.3" x2="254.6" y2="381.5" stroke="#111" stroke-width="0.6"/>
<line x1="245.8" y1="386.5" x2="259.3" y2="378.7" stroke="#111" stroke-width="0.6"/>
<path d="M230.2 430.9 L232.7 431.8 L234.5 438.7 L232.2 438.7 L229.4 454.5 L231.1 457.8 L227.6 460.5 L225.4 457.6 L210.9 455.1 L210.1 457.5 L204.8 453.3 L204.9 450.4 L193.3 432.1 L190.7 431.2 L188.9 424.3 L191.3 424.3 L194.1 408.5 L192.4 405.2 L195.8 402.5 L198 405.4 L212.5 407.9 L213.3 405.5 L218.6 409.7 L218.5 412.6Z" fill="#fff" stroke="#222" stroke-width="1.0"/>
<path d="M182.2 414.5 L197 406 L226.5 457 L211.8 465.5Z" fill="#fff" stroke="none" stroke-width="0"/>
<line x1="182.2" y1="414.5" x2="197" y2="406" stroke="#222" stroke-width="1.0"/>
<line x1="211.8" y1="465.5" x2="226.5" y2="457" stroke="#222" stroke-width="1.0"/>
<line x1="218" y1="440.3" x2="232.7" y2="431.8" stroke="#222" stroke-width="0.9"/>
<line x1="219.8" y1="447.2" x2="234.5" y2="438.7" stroke="#222" stroke-width="0.9"/>
<line x1="215.4" y1="439.4" x2="230.2" y2="430.9" stroke="#222" stroke-width="0.7"/>
<line x1="217.5" y1="447.2" x2="232.2" y2="438.7" stroke="#222" stroke-width="0.7"/>
<line x1="216.4" y1="466.3" x2="231.1" y2="457.8" stroke="#222" stroke-width="0.9"/>
<line x1="212.9" y1="469" x2="227.6" y2="460.5" stroke="#222" stroke-width="0.9"/>
<line x1="214.7" y1="463" x2="229.4" y2="454.5" stroke="#222" stroke-width="0.7"/>
<line x1="210.7" y1="466.1" x2="225.4" y2="457.6" stroke="#222" stroke-width="0.7"/>
<line x1="181.1" y1="411" x2="195.8" y2="402.5" stroke="#222" stroke-width="0.9"/>
<line x1="183.3" y1="413.9" x2="198" y2="405.4" stroke="#222" stroke-width="0.7"/>
<line x1="198.6" y1="414" x2="213.3" y2="405.5" stroke="#222" stroke-width="0.9"/>
<line x1="203.9" y1="418.2" x2="218.6" y2="409.7" stroke="#222" stroke-width="0.9"/>
<line x1="197.8" y1="416.4" x2="212.5" y2="407.9" stroke="#222" stroke-width="0.7"/>
<line x1="203.8" y1="421.1" x2="218.5" y2="412.6" stroke="#222" stroke-width="0.7"/>
<path d="M215.4 439.4 L218 440.3 L219.8 447.2 L217.5 447.2 L214.7 463 L216.4 466.3 L212.9 469 L210.7 466.1 L196.2 463.6 L195.4 466 L190.1 461.8 L190.2 458.9 L178.6 440.6 L176 439.7 L174.2 432.8 L176.5 432.8 L179.3 417 L177.6 413.7 L181.1 411 L183.3 413.9 L197.8 416.4 L198.6 414 L203.9 418.2 L203.8 421.1Z" fill="#fff" stroke="#222" stroke-width="1.0"/>
<ellipse cx="197" cy="440" rx="15.7" ry="27.1" transform="rotate(-30 197 440)" fill="none" stroke="#222" stroke-width="0.8"/>
<ellipse cx="197" cy="440" rx="12.6" ry="21.8" transform="rotate(-30 197 440)" fill="#fff" stroke="#222" stroke-width="1.0"/>
<path d="M206.4 434.6 L208.1 434.4 L209.1 436.3 L207.9 437.4 L208.7 439.4 L210.6 440 L211.2 441.9 L209.6 442.3 L210 444.3 L212 445.5 L212.2 447.4 L210.3 447 L210.3 448.8 L212.1 450.6 L211.9 452.2 L210 451.2 L209.5 452.6 L211.1 454.8 L210.4 456 L208.5 454.4 L207.7 455.4 L208.9 457.9 L207.9 458.6 L206.2 456.5 L205 457 L205.7 459.5 L204.4 459.6 L203.1 457.2 L201.7 457.1 L201.8 459.5 L200.4 459.1 L199.5 456.6 L198 455.9 L197.6 457.9 L196 457 L195.7 454.6 L194.2 453.4 L193.3 454.9 L191.8 453.5 L192 451.4 L190.6 449.8 L189.3 450.7 L188 449 L188.7 447.3 L187.6 445.4 L185.9 445.6 L184.9 443.7 L186.1 442.6 L185.3 440.6 L183.4 440 L182.8 438.1 L184.4 437.7 L184 435.7 L182 434.5 L181.8 432.6 L183.7 433 L183.7 431.2 L181.9 429.4 L182.1 427.8 L184 428.8 L184.5 427.4 L182.9 425.2 L183.6 424 L185.5 425.6 L186.3 424.6 L185.1 422.1 L186.1 421.4 L187.8 423.5 L189 423 L188.3 420.5 L189.6 420.4 L190.9 422.8 L192.3 422.9 L192.2 420.5 L193.6 420.9 L194.5 423.4 L196 424.1 L196.4 422.1 L198 423 L198.3 425.4 L199.8 426.6 L200.7 425.1 L202.2 426.5 L202 428.6 L203.4 430.2 L204.7 429.3 L206 431 L205.3 432.7Z" fill="none" stroke="#222" stroke-width="0.8"/>
<path d="M209.4 445.7 L212.3 447 L211.6 454.3 L208.8 451.6Z" fill="#fff" stroke="#222" stroke-width="0.9"/>
<path d="M191.9 450.3 L190.7 452.7 L185.3 444.9 L187.5 444Z" fill="#fff" stroke="#222" stroke-width="0.9"/>
<path d="M189.6 424.1 L187.9 420.3 L194.1 420.8 L194.6 424.4Z" fill="#fff" stroke="#222" stroke-width="0.9"/>
<path d="M174.3 466.9 L177.3 467.6 L178 469.8 L175.1 469.9 L175.6 471.8 L178.8 473.1 L179.2 475.2 L176.2 474.7 L176.5 476.6 L179.7 478.4 L179.9 480.5 L176.7 479.4 L176.8 481.2 L180 483.5 L179.9 485.5 L176.7 483.9 L176.5 485.5 L179.6 488.3 L179.3 490.1 L176.1 487.9 L175.7 489.4 L178.7 492.6 L178.1 494.2 L175 491.5 L174.4 492.8 L177.1 496.3 L176.4 497.7 L173.4 494.6 L172.6 495.7 L175.1 499.5 L174.1 500.5 L171.3 497.1 L170.3 497.9 L172.5 501.9 L171.3 502.7 L168.7 499 L167.6 499.5 L169.4 503.6 L168.1 504.1 L165.8 500.2 L164.6 500.5 L165.9 504.6 L164.5 504.8 L162.6 500.7 L161.2 500.7 L162.2 504.8 L160.6 504.6 L159.1 500.5 L157.6 500.2 L158.1 504.1 L156.5 503.6 L155.4 499.5 L153.9 499 L153.9 502.7 L152.2 501.9 L151.6 497.9 L150 497.1 L149.6 500.5 L147.9 499.5 L147.7 495.7 L146.2 494.6 L145.3 497.7 L143.7 496.4 L143.9 492.8 L142.4 491.5 L141.2 494.2 L139.5 492.6 L140.3 489.4 L138.8 487.9 L137.1 490.1 L135.6 488.3 L136.8 485.5 L135.4 483.9 L133.4 485.5 L132 483.6 L133.5 481.2 L132.4 479.4 L130 480.5 L128.7 478.4 L130.7 476.7 L129.6 474.7 L126.9 475.3 L125.9 473.1 L128.2 471.8 L127.3 469.9 L124.4 469.8 L123.5 467.6 L126.1 466.9 L125.4 464.9 L122.4 464.2 L121.7 462 L124.5 461.9 L124.1 460 L120.9 458.7 L120.5 456.6 L123.5 457.1 L123.2 455.2 L120 453.4 L119.8 451.3 L123 452.4 L122.9 450.6 L119.7 448.3 L119.8 446.3 L123 447.9 L123.2 446.3 L120.1 443.5 L120.4 441.7 L123.6 443.9 L123.9 442.4 L121 439.2 L121.5 437.6 L124.7 440.3 L125.3 439 L122.5 435.5 L123.3 434.1 L126.3 437.2 L127.1 436.1 L124.6 432.3 L125.6 431.3 L128.4 434.7 L129.4 433.9 L127.2 429.9 L128.4 429.1 L130.9 432.8 L132.1 432.3 L130.3 428.2 L131.6 427.7 L133.8 431.6 L135.1 431.3 L133.7 427.2 L135.2 427 L137.1 431.1 L138.5 431.1 L137.5 427 L139.1 427.2 L140.6 431.3 L142.1 431.6 L141.6 427.7 L143.2 428.2 L144.3 432.3 L145.8 432.8 L145.8 429.1 L147.5 429.9 L148.1 433.9 L149.6 434.7 L150 431.3 L151.8 432.3 L151.9 436.1 L153.5 437.2 L154.3 434.1 L156 435.4 L155.7 439 L157.2 440.3 L158.5 437.6 L160.2 439.2 L159.4 442.4 L160.8 443.9 L162.5 441.7 L164.1 443.5 L162.9 446.3 L164.2 447.9 L166.3 446.3 L167.7 448.2 L166.1 450.6 L167.3 452.4 L169.7 451.3 L171 453.4 L169 455.1 L170.1 457.1 L172.7 456.5 L173.8 458.7 L171.5 460 L172.4 461.9 L175.3 462 L176.2 464.2 L173.6 464.9Z" fill="#fff" stroke="#222" stroke-width="1.1"/>
<path d="M120 439.1 L130.8 432.9 L168.9 498.9 L158.2 505.1Z" fill="#fff" stroke="none" stroke-width="0"/>
<line x1="161.3" y1="461.4" x2="177.7" y2="468.7" stroke="#333" stroke-width="0.8"/>
<line x1="164" y1="466.8" x2="179" y2="474.2" stroke="#333" stroke-width="0.8"/>
<line x1="166.1" y1="472.4" x2="179.8" y2="479.5" stroke="#333" stroke-width="0.8"/>
<line x1="167.7" y1="477.9" x2="179.9" y2="484.5" stroke="#333" stroke-width="0.8"/>
<line x1="168.8" y1="483.3" x2="179.5" y2="489.2" stroke="#333" stroke-width="0.8"/>
<line x1="169.2" y1="488.5" x2="178.4" y2="493.4" stroke="#333" stroke-width="0.8"/>
<line x1="169" y1="493.3" x2="176.8" y2="497" stroke="#333" stroke-width="0.8"/>
<line x1="168.2" y1="497.8" x2="174.6" y2="500" stroke="#333" stroke-width="0.8"/>
<line x1="166.8" y1="501.7" x2="171.9" y2="502.3" stroke="#333" stroke-width="0.8"/>
<line x1="164.9" y1="505" x2="168.7" y2="503.9" stroke="#333" stroke-width="0.8"/>
<line x1="162.4" y1="507.6" x2="165.2" y2="504.7" stroke="#333" stroke-width="0.8"/>
<line x1="159.5" y1="509.5" x2="161.4" y2="504.7" stroke="#333" stroke-width="0.8"/>
<line x1="115.8" y1="436.6" x2="134.5" y2="427.1" stroke="#333" stroke-width="0.8"/>
<line x1="118.7" y1="434.7" x2="138.3" y2="427.1" stroke="#333" stroke-width="0.8"/>
<line x1="122.1" y1="433.6" x2="142.4" y2="427.9" stroke="#333" stroke-width="0.8"/>
<line x1="125.8" y1="433.2" x2="146.6" y2="429.5" stroke="#333" stroke-width="0.8"/>
<line x1="129.8" y1="433.6" x2="150.9" y2="431.8" stroke="#333" stroke-width="0.8"/>
<line x1="134" y1="434.9" x2="155.2" y2="434.8" stroke="#333" stroke-width="0.8"/>
<line x1="138.2" y1="436.8" x2="159.3" y2="438.4" stroke="#333" stroke-width="0.8"/>
<line x1="142.5" y1="439.5" x2="163.3" y2="442.6" stroke="#333" stroke-width="0.8"/>
<line x1="146.7" y1="442.9" x2="167" y2="447.3" stroke="#333" stroke-width="0.8"/>
<line x1="150.8" y1="446.8" x2="170.4" y2="452.3" stroke="#333" stroke-width="0.8"/>
<line x1="154.6" y1="451.3" x2="173.3" y2="457.6" stroke="#333" stroke-width="0.8"/>
<line x1="158.2" y1="456.2" x2="175.7" y2="463.1" stroke="#333" stroke-width="0.8"/>
<path d="M158.1 461.1 L160.7 460.3 L161.9 462.5 L159.7 464 L160.7 465.9 L163.5 465.7 L164.4 467.9 L162 468.9 L162.7 470.8 L165.7 471.3 L166.5 473.5 L163.8 473.8 L164.3 475.8 L167.5 476.8 L168 479 L165 478.8 L165.4 480.7 L168.6 482.2 L168.9 484.4 L165.8 483.5 L166 485.4 L169.2 487.5 L169.2 489.5 L166 488.1 L166 489.8 L169.1 492.4 L168.9 494.3 L165.7 492.3 L165.4 493.9 L168.4 496.9 L168 498.6 L164.8 496.2 L164.3 497.5 L167.2 500.9 L166.5 502.4 L163.4 499.5 L162.7 500.7 L165.3 504.3 L164.4 505.5 L161.6 502.3 L160.7 503.2 L163 507.1 L161.9 508 L159.2 504.4 L158.2 505.1 L160.1 509.2 L158.8 509.8 L156.5 505.9 L155.2 506.3 L156.8 510.5 L155.4 510.8 L153.3 506.7 L152 506.9 L153.2 511 L151.6 511 L149.9 506.8 L148.5 506.7 L149.2 510.7 L147.6 510.4 L146.3 506.2 L144.8 505.8 L145.1 509.6 L143.4 509 L142.6 504.9 L141 504.2 L140.8 507.8 L139.1 506.9 L138.7 503 L137.2 502 L136.5 505.3 L134.8 504 L134.9 500.4 L133.4 499.2 L132.3 502 L130.6 500.6 L131.2 497.2 L129.7 495.8 L128.2 498.2 L126.6 496.5 L127.6 493.5 L126.2 491.9 L124.3 493.8 L122.8 492 L124.2 489.4 L123 487.7 L120.7 489 L119.4 487 L121.2 485 L120.1 483.1 L117.5 483.9 L116.3 481.7 L118.5 480.2 L117.5 478.3 L114.7 478.5 L113.8 476.3 L116.2 475.3 L115.5 473.4 L112.5 472.9 L111.7 470.7 L114.4 470.4 L113.9 468.4 L110.7 467.4 L110.2 465.2 L113.2 465.4 L112.8 463.5 L109.6 462 L109.3 459.8 L112.4 460.7 L112.2 458.8 L109 456.7 L109 454.7 L112.2 456.1 L112.2 454.4 L109.1 451.8 L109.3 449.9 L112.5 451.9 L112.8 450.3 L109.8 447.3 L110.2 445.6 L113.4 448 L113.9 446.7 L111 443.3 L111.7 441.8 L114.8 444.7 L115.5 443.5 L112.9 439.9 L113.8 438.7 L116.6 441.9 L117.5 441 L115.2 437.1 L116.3 436.2 L119 439.8 L120 439.1 L118.1 435 L119.4 434.4 L121.7 438.3 L123 437.9 L121.4 433.7 L122.8 433.4 L124.9 437.5 L126.2 437.3 L125 433.2 L126.6 433.2 L128.3 437.4 L129.7 437.5 L129 433.5 L130.6 433.8 L131.9 438 L133.4 438.4 L133.1 434.6 L134.8 435.2 L135.6 439.3 L137.2 440 L137.4 436.4 L139.1 437.3 L139.5 441.2 L141 442.2 L141.7 438.9 L143.4 440.2 L143.3 443.8 L144.8 445 L145.9 442.2 L147.6 443.6 L147 447 L148.5 448.4 L150 446 L151.6 447.7 L150.6 450.7 L152 452.3 L153.9 450.4 L155.4 452.2 L154 454.8 L155.2 456.5 L157.5 455.2 L158.8 457.2 L157 459.2Z" fill="#fff" stroke="#222" stroke-width="1.1"/>
<ellipse cx="139.1" cy="472.1" rx="20.6" ry="35.8" transform="rotate(-30 139.1 472.1)" fill="none" stroke="#222" stroke-width="0.935"/>
<ellipse cx="139.1" cy="472.1" rx="12.3" ry="21.3" transform="rotate(-30 139.1 472.1)" fill="none" stroke="#222" stroke-width="0.935"/>
<ellipse cx="139.1" cy="472.1" rx="8.8" ry="15.3" transform="rotate(-30 139.1 472.1)" fill="none" stroke="#222" stroke-width="0.935"/>
<clipPath id="gb4"><ellipse cx="139.1" cy="472.1" rx="8.8" ry="15.3" transform="rotate(-30 139.1 472.1)" fill="#000" stroke="none" stroke-width="0"/></clipPath>
<g clip-path="url(#gb4)"><ellipse cx="152" cy="464.7" rx="8.8" ry="15.3" transform="rotate(-30 152 464.7)" fill="none" stroke="#222" stroke-width="0.8"/><line x1="140.8" y1="485.4" x2="153.7" y2="478" stroke="#222" stroke-width="0.6"/><line x1="136.5" y1="482.7" x2="149.4" y2="475.3" stroke="#222" stroke-width="0.6"/><line x1="132.6" y1="478.4" x2="145.5" y2="470.9" stroke="#222" stroke-width="0.6"/><line x1="129.7" y1="473" x2="142.6" y2="465.5" stroke="#222" stroke-width="0.6"/><line x1="128.3" y1="467.5" x2="141.2" y2="460" stroke="#222" stroke-width="0.6"/><line x1="128.7" y1="462.7" x2="141.5" y2="455.3" stroke="#222" stroke-width="0.6"/></g>
<path d="M152.6 457.6 L155.2 461.6 L157.5 465.8 L159.4 470.1 L160.9 474.5 L161.9 478.8 L162.5 483 L162.6 486.9 L162.2 490.6 L155.1 484.9 L155.3 482.4 L155.3 479.6 L154.9 476.7 L154.2 473.7 L153.1 470.7 L151.8 467.7 L150.2 464.8 L148.4 462.1Z" fill="none" stroke="#222" stroke-width="0.8800000000000001"/>
<path d="M149.1 502.5 L145.9 502 L142.6 501 L139.2 499.3 L135.9 497.1 L132.6 494.4 L129.4 491.2 L126.4 487.6 L123.7 483.7 L128.5 480.1 L130.3 482.8 L132.4 485.3 L134.6 487.5 L136.9 489.4 L139.2 490.9 L141.5 492.1 L143.8 492.8 L146 493.1Z" fill="none" stroke="#222" stroke-width="0.8800000000000001"/>
<path d="M115.7 456.2 L116.2 452.7 L117.2 449.5 L118.7 446.8 L120.5 444.7 L122.8 443.1 L125.4 442.1 L128.3 441.7 L131.4 442 L133.8 451.3 L131.6 451.1 L129.6 451.4 L127.8 452 L126.3 453.1 L125 454.6 L124 456.5 L123.3 458.7 L122.9 461.1Z" fill="none" stroke="#222" stroke-width="0.8800000000000001"/>
<ellipse cx="103.7" cy="492.1" rx="9.2" ry="16" transform="rotate(-30 103.7 492.1)" fill="#fff" stroke="#111" stroke-width="1.5"/>
<path d="M84.8 484.5 L95.7 478.2 L111.7 506 L100.8 512.3Z" fill="#fff" stroke="none" stroke-width="0"/>
<path d="M84.8 484.5 L85.7 484.1 L86.6 483.9 L87.7 483.8 L88.7 483.9 L89.9 484.1 L91 484.5 L92.2 485 L93.4 485.7 L94.6 486.5 L95.7 487.5 L96.9 488.5 L97.9 489.7 L99 491 L99.9 492.4 L100.8 493.8 L101.6 495.3 L102.3 496.8 L102.9 498.3 L103.4 499.8 L103.7 501.3 L104 502.8 L104.1 504.2 L104.1 505.6 L104 506.9 L103.7 508.1 L103.4 509.2 L102.9 510.2 L102.3 511 L101.6 511.7 L100.8 512.3 L111.7 506 L112.5 505.4 L113.2 504.7 L113.8 503.9 L114.3 502.9 L114.6 501.8 L114.9 500.6 L115 499.3 L115 497.9 L114.9 496.5 L114.6 495 L114.3 493.5 L113.8 492 L113.2 490.5 L112.5 489 L111.7 487.5 L110.8 486.1 L109.9 484.7 L108.8 483.4 L107.8 482.2 L106.6 481.2 L105.5 480.2 L104.3 479.4 L103.1 478.7 L101.9 478.2 L100.8 477.8 L99.7 477.6 L98.6 477.5 L97.5 477.6 L96.6 477.8 L95.7 478.2Z" fill="#b8b8b8" stroke="none" stroke-width="0"/>
<line x1="101.6" y1="495.2" x2="112.5" y2="488.9" stroke="#111" stroke-width="1.4"/>
<line x1="103.3" y1="499.8" x2="114.3" y2="493.5" stroke="#111" stroke-width="1.4"/>
<line x1="104.1" y1="504.2" x2="115" y2="497.9" stroke="#111" stroke-width="1.4"/>
<line x1="103.7" y1="508" x2="114.7" y2="501.7" stroke="#111" stroke-width="1.4"/>
<line x1="102.3" y1="511" x2="113.2" y2="504.7" stroke="#111" stroke-width="1.4"/>
<line x1="85.6" y1="484.2" x2="96.6" y2="477.9" stroke="#111" stroke-width="1.4"/>
<line x1="88.7" y1="483.9" x2="99.6" y2="477.6" stroke="#111" stroke-width="1.4"/>
<line x1="92.2" y1="485" x2="103.1" y2="478.7" stroke="#111" stroke-width="1.4"/>
<line x1="95.7" y1="487.4" x2="106.6" y2="481.1" stroke="#111" stroke-width="1.4"/>
<line x1="98.9" y1="490.9" x2="109.8" y2="484.6" stroke="#111" stroke-width="1.4"/>
<path d="M90.3 481.4 L91.1 481 L92.1 480.7 L93.1 480.6 L94.2 480.7 L95.3 480.9 L96.5 481.3 L97.7 481.9 L98.8 482.6 L100 483.4 L101.2 484.3 L102.3 485.4 L103.4 486.6 L104.4 487.9 L105.4 489.2 L106.3 490.6 L107 492.1 L107.7 493.6 L108.3 495.1 L108.8 496.7 L109.2 498.2 L109.4 499.7 L109.6 501.1 L109.6 502.5 L109.4 503.7 L109.2 504.9 L108.8 506 L108.3 507 L107.7 507.8 L107.1 508.5 L106.3 509.1" fill="none" stroke="#111" stroke-width="1.1"/>
<line x1="84.8" y1="484.5" x2="95.7" y2="478.2" stroke="#111" stroke-width="1.5"/>
<line x1="100.8" y1="512.3" x2="111.7" y2="506" stroke="#111" stroke-width="1.5"/>
<ellipse cx="92.8" cy="498.4" rx="9.2" ry="16" transform="rotate(-30 92.8 498.4)" fill="#c8c8c8" stroke="#111" stroke-width="1.4"/>
<ellipse cx="92.8" cy="498.4" rx="7.2" ry="12.5" transform="rotate(-30 92.8 498.4)" fill="#d8d8d8" stroke="#111" stroke-width="1.0"/>
<line x1="99" y1="494.8" x2="100.6" y2="493.9" stroke="#111" stroke-width="1.3"/>
<line x1="100.8" y1="498.7" x2="102.8" y2="498.8" stroke="#111" stroke-width="1.3"/>
<line x1="101.6" y1="502.6" x2="103.8" y2="503.7" stroke="#111" stroke-width="1.3"/>
<line x1="101.3" y1="506" x2="103.5" y2="507.9" stroke="#111" stroke-width="1.3"/>
<line x1="100" y1="508.4" x2="101.9" y2="511" stroke="#111" stroke-width="1.3"/>
<line x1="97.9" y1="509.7" x2="99.2" y2="512.6" stroke="#111" stroke-width="1.3"/>
<line x1="95.1" y1="509.6" x2="95.7" y2="512.4" stroke="#111" stroke-width="1.3"/>
<line x1="92" y1="508.1" x2="91.8" y2="510.6" stroke="#111" stroke-width="1.3"/>
<line x1="89.1" y1="505.5" x2="88.1" y2="507.3" stroke="#111" stroke-width="1.3"/>
<line x1="86.6" y1="502" x2="85" y2="502.9" stroke="#111" stroke-width="1.3"/>
<line x1="84.8" y1="498.1" x2="82.8" y2="498" stroke="#111" stroke-width="1.3"/>
<line x1="84" y1="494.2" x2="81.8" y2="493.1" stroke="#111" stroke-width="1.3"/>
<line x1="84.3" y1="490.8" x2="82.1" y2="488.9" stroke="#111" stroke-width="1.3"/>
<line x1="85.6" y1="488.4" x2="83.7" y2="485.8" stroke="#111" stroke-width="1.3"/>
<line x1="87.7" y1="487.1" x2="86.4" y2="484.2" stroke="#111" stroke-width="1.3"/>
<line x1="90.5" y1="487.2" x2="89.9" y2="484.4" stroke="#111" stroke-width="1.3"/>
<line x1="93.6" y1="488.7" x2="93.8" y2="486.2" stroke="#111" stroke-width="1.3"/>
<line x1="96.5" y1="491.3" x2="97.5" y2="489.5" stroke="#111" stroke-width="1.3"/>
<clipPath id="cc5"><ellipse cx="92.8" cy="498.4" rx="7.2" ry="12.5" transform="rotate(-30 92.8 498.4)" fill="#000" stroke="none" stroke-width="0"/></clipPath>
<g clip-path="url(#cc5)"><line x1="99" y1="494.8" x2="109.9" y2="488.5" stroke="#111" stroke-width="1.2"/><line x1="100.9" y1="499.2" x2="111.9" y2="492.9" stroke="#111" stroke-width="1.2"/><line x1="101.6" y1="503.5" x2="112.5" y2="497.2" stroke="#111" stroke-width="1.2"/><line x1="101" y1="507" x2="111.9" y2="500.7" stroke="#111" stroke-width="1.2"/><line x1="99" y1="509.2" x2="110" y2="502.9" stroke="#111" stroke-width="1.2"/><line x1="96.2" y1="509.8" x2="107.1" y2="503.5" stroke="#111" stroke-width="1.2"/><line x1="92.8" y1="508.6" x2="103.7" y2="502.3" stroke="#111" stroke-width="1.2"/><line x1="89.4" y1="505.9" x2="100.3" y2="499.6" stroke="#111" stroke-width="1.2"/><line x1="86.6" y1="502" x2="97.5" y2="495.7" stroke="#111" stroke-width="1.2"/><line x1="84.7" y1="497.6" x2="95.6" y2="491.3" stroke="#111" stroke-width="1.2"/><line x1="84" y1="493.3" x2="94.9" y2="487" stroke="#111" stroke-width="1.2"/><line x1="84.6" y1="489.8" x2="95.6" y2="483.5" stroke="#111" stroke-width="1.2"/><line x1="86.6" y1="487.6" x2="97.5" y2="481.3" stroke="#111" stroke-width="1.2"/><line x1="89.4" y1="487" x2="100.3" y2="480.7" stroke="#111" stroke-width="1.2"/><line x1="92.8" y1="488.2" x2="103.7" y2="481.9" stroke="#111" stroke-width="1.2"/><line x1="96.2" y1="490.9" x2="107.1" y2="484.6" stroke="#111" stroke-width="1.2"/></g>
<ellipse cx="743.4" cy="116.8" rx="14.4" ry="24.9" transform="rotate(-30 743.4 116.8)" fill="#fff" stroke="#222" stroke-width="1.0"/>
<path d="M716.1 103.7 L731 95.2 L755.9 138.3 L741.1 146.9Z" fill="#fff" stroke="none" stroke-width="0"/>
<line x1="716.1" y1="103.7" x2="731" y2="95.2" stroke="#222" stroke-width="1.0"/>
<line x1="741.1" y1="146.9" x2="755.9" y2="138.3" stroke="#222" stroke-width="1.0"/>
<ellipse cx="728.6" cy="125.3" rx="14.4" ry="24.9" transform="rotate(-30 728.6 125.3)" fill="#fff" stroke="#222" stroke-width="1.0"/>
<ellipse cx="728.6" cy="125.3" rx="12.6" ry="21.9" transform="rotate(-30 728.6 125.3)" fill="none" stroke="#222" stroke-width="0.8"/>
<ellipse cx="728.6" cy="125.3" rx="9.8" ry="16.9" transform="rotate(-30 728.6 125.3)" fill="none" stroke="#222" stroke-width="0.8"/>
<ellipse cx="728.6" cy="125.3" rx="7.9" ry="13.7" transform="rotate(-30 728.6 125.3)" fill="none" stroke="#222" stroke-width="0.8"/>
<ellipse cx="728.6" cy="125.3" rx="6.5" ry="11.2" transform="rotate(-30 728.6 125.3)" fill="none" stroke="#222" stroke-width="0.8"/>
<path d="M790 114.3 L787.7 114.3 L785.3 113.9 L782.8 113 L780.2 111.6 L777.6 109.8 L775.2 107.6 L772.8 105.1 L770.6 102.3 L768.7 99.2 L767 96 L765.6 92.7 L764.5 89.4 L763.9 86.1 L763.5 83 L763.6 80.1 L764 77.4 L764.8 75.1 L766 73.1 L767.5 71.5 L769.3 70.4 L771.3 69.8 L773.5 69.6 L775.9 70 L778.4 70.8 L781 72.1 L783.6 73.8 L786.1 76 L788.4 78.4 L790.7 81.2 L792.7 84.2 L794.4 87.4 L795.8 90.7 L797 94 L797.7 97.3 L798.1 100.4 L798.1 103.4 L797.7 106.1 L797 108.5 L795.9 110.6 L794.5 112.2 L793.4 110.6 L794.7 109.1 L795.7 107.2 L796.4 105 L796.7 102.5 L796.7 99.8 L796.4 96.9 L795.7 93.9 L794.6 90.8 L793.3 87.8 L791.7 84.9 L789.9 82.1 L787.8 79.5 L785.6 77.2 L783.3 75.3 L781 73.7 L778.6 72.5 L776.3 71.7 L774.1 71.4 L772.1 71.6 L770.2 72.2 L768.6 73.2 L767.2 74.6 L766.1 76.4 L765.4 78.6 L765 81 L764.9 83.7 L765.2 86.6 L765.8 89.6 L766.8 92.6 L768.1 95.7 L769.6 98.6 L771.4 101.4 L773.4 104 L775.6 106.4 L777.9 108.4 L780.2 110 L782.6 111.3 L784.9 112.1 L787.2 112.5 L789.2 112.5Z" fill="#fff" stroke="#222" stroke-width="0.9"/>
<path d="M785.6 116.8 L783.4 116.8 L780.9 116.4 L778.4 115.5 L775.9 114.1 L773.3 112.3 L770.8 110.1 L768.5 107.6 L766.3 104.8 L764.3 101.7 L762.7 98.5 L761.3 95.2 L760.2 91.9 L759.5 88.6 L759.2 85.5 L759.3 82.6 L759.7 79.9 L760.5 77.6 L761.7 75.6 L763.2 74 L764.9 72.9 L767 72.3 L769.2 72.1 L771.6 72.5 L774.1 73.3 L776.7 74.6 L779.2 76.3 L781.7 78.5 L784.1 80.9 L786.3 83.7 L788.3 86.7 L790.1 89.9 L791.5 93.2 L792.6 96.5 L793.4 99.8 L793.8 102.9 L793.8 105.9 L793.4 108.6 L792.7 111 L791.6 113.1 L790.1 114.7 L788.6 112.5 L789.9 111 L790.9 109.2 L791.5 107.1 L791.9 104.6 L791.9 102 L791.5 99.2 L790.8 96.3 L789.9 93.3 L788.6 90.4 L787 87.6 L785.2 84.9 L783.3 82.4 L781.2 80.2 L778.9 78.3 L776.7 76.8 L774.4 75.6 L772.1 74.9 L770 74.6 L768 74.7 L766.2 75.3 L764.6 76.3 L763.3 77.7 L762.3 79.4 L761.6 81.5 L761.2 83.9 L761.1 86.5 L761.4 89.3 L762 92.2 L762.9 95.1 L764.2 98.1 L765.7 100.9 L767.4 103.6 L769.4 106.1 L771.5 108.4 L773.7 110.4 L775.9 112 L778.2 113.2 L780.5 114 L782.6 114.4 L784.6 114.3Z" fill="#fff" stroke="#222" stroke-width="1.0"/>
<ellipse cx="788.5" cy="112.3" rx="1.4" ry="2.5" transform="rotate(-30 788.5 112.3)" fill="#fff" stroke="#222" stroke-width="0.9"/>
<ellipse cx="784.6" cy="114.1" rx="1.4" ry="2.5" transform="rotate(-30 784.6 114.1)" fill="#fff" stroke="#222" stroke-width="0.9"/>
<ellipse cx="828.2" cy="63.9" rx="14.5" ry="25.1" transform="rotate(-30 828.2 63.9)" fill="#fff" stroke="#222" stroke-width="1.0"/>
<path d="M810.2 45.4 L815.7 42.2 L840.8 85.6 L835.2 88.8Z" fill="#fff" stroke="none" stroke-width="0"/>
<line x1="810.2" y1="45.4" x2="815.7" y2="42.2" stroke="#222" stroke-width="1.0"/>
<line x1="835.2" y1="88.8" x2="840.8" y2="85.6" stroke="#222" stroke-width="1.0"/>
<ellipse cx="822.7" cy="67.1" rx="14.5" ry="25.1" transform="rotate(-30 822.7 67.1)" fill="#fff" stroke="#222" stroke-width="1.0"/>
<ellipse cx="822.7" cy="67.1" rx="10.7" ry="18.6" transform="rotate(-30 822.7 67.1)" fill="none" stroke="#222" stroke-width="1.0"/>
<ellipse cx="822.7" cy="67.1" rx="12.1" ry="21" transform="rotate(-30 822.7 67.1)" fill="none" stroke="#222" stroke-width="0.8"/>
<ellipse cx="581.5" cy="432.8" rx="4.6" ry="8" transform="rotate(-30 581.5 432.8)" fill="#fff" stroke="#222" stroke-width="1.0"/>
<path d="M560.1 435.9 L577.5 425.9 L585.5 439.7 L568.1 449.7Z" fill="#fff" stroke="none" stroke-width="0"/>
<line x1="560.1" y1="435.9" x2="577.5" y2="425.9" stroke="#222" stroke-width="1.0"/>
<line x1="568.1" y1="449.7" x2="585.5" y2="439.7" stroke="#222" stroke-width="1.0"/>
<ellipse cx="564.1" cy="442.8" rx="4.6" ry="8" transform="rotate(-30 564.1 442.8)" fill="#fff" stroke="#222" stroke-width="1.0"/>
<ellipse cx="564.1" cy="442.8" rx="2.9" ry="5" transform="rotate(-30 564.1 442.8)" fill="none" stroke="#222" stroke-width="0.8"/>
<ellipse cx="564.2" cy="442.8" rx="6.5" ry="11.3" transform="rotate(-30 564.2 442.8)" fill="#fff" stroke="#222" stroke-width="1.0"/>
<path d="M447.7 497 L558.5 433 L569.8 452.6 L458.9 516.6Z" fill="#fff" stroke="none" stroke-width="0"/>
<line x1="447.7" y1="497" x2="558.5" y2="433" stroke="#222" stroke-width="1.0"/>
<line x1="458.9" y1="516.6" x2="569.8" y2="452.6" stroke="#222" stroke-width="1.0"/>
<line x1="531.7" y1="461.5" x2="569.8" y2="439.5" stroke="#222" stroke-width="0.9"/>
<line x1="533.1" y1="464.4" x2="571.2" y2="442.4" stroke="#222" stroke-width="0.9"/>
<line x1="533.8" y1="467.3" x2="572" y2="445.3" stroke="#222" stroke-width="0.9"/>
<line x1="534" y1="470.1" x2="572.1" y2="448.1" stroke="#222" stroke-width="0.9"/>
<line x1="533.5" y1="472.3" x2="571.6" y2="450.3" stroke="#222" stroke-width="0.9"/>
<line x1="532.4" y1="474" x2="570.5" y2="452" stroke="#222" stroke-width="0.9"/>
<line x1="521.3" y1="454.6" x2="559.4" y2="432.6" stroke="#222" stroke-width="0.9"/>
<line x1="523.3" y1="454.5" x2="561.4" y2="432.5" stroke="#222" stroke-width="0.9"/>
<line x1="525.5" y1="455.3" x2="563.6" y2="433.3" stroke="#222" stroke-width="0.9"/>
<line x1="527.7" y1="456.8" x2="565.8" y2="434.8" stroke="#222" stroke-width="0.9"/>
<line x1="529.9" y1="458.9" x2="568" y2="436.9" stroke="#222" stroke-width="0.9"/>
<line x1="520.4" y1="455" x2="531.7" y2="474.6" stroke="#fff" stroke-width="0"/>
<path d="M520.4 455 L521.6 454.6 L523 454.5 L524.5 454.9 L526 455.6 L527.6 456.7 L529.1 458 L530.5 459.7 L531.7 461.5 L532.7 463.5 L533.4 465.5 L533.9 467.5 L534 469.4 L533.9 471.1 L533.4 472.6 L532.7 473.8 L531.7 474.6" fill="none" stroke="#222" stroke-width="0.9"/>
<path d="M473.6 482 L474.8 481.6 L476.2 481.5 L477.7 481.9 L479.3 482.6 L480.8 483.7 L482.3 485 L483.7 486.7 L484.9 488.5 L485.9 490.5 L486.7 492.5 L487.1 494.5 L487.3 496.4 L487.1 498.1 L486.7 499.6 L485.9 500.8 L484.9 501.6" fill="none" stroke="#222" stroke-width="0.8"/>
<path d="M499.6 467 L500.8 466.6 L502.2 466.5 L503.7 466.9 L505.3 467.6 L506.8 468.7 L508.3 470 L509.7 471.7 L510.9 473.5 L511.9 475.5 L512.6 477.5 L513.1 479.5 L513.2 481.4 L513.1 483.1 L512.6 484.6 L511.9 485.8 L510.9 486.6" fill="none" stroke="#222" stroke-width="0.8"/>
<ellipse cx="453.3" cy="506.8" rx="6.5" ry="11.3" transform="rotate(-30 453.3 506.8)" fill="#fff" stroke="#222" stroke-width="1.0"/>
<ellipse cx="451.6" cy="507.8" rx="9.2" ry="16" transform="rotate(-30 451.6 507.8)" fill="#fff" stroke="#222" stroke-width="1.0"/>
<path d="M431.4 500.9 L443.6 493.9 L459.6 521.7 L447.4 528.7Z" fill="#fff" stroke="none" stroke-width="0"/>
<line x1="431.4" y1="500.9" x2="443.6" y2="493.9" stroke="#222" stroke-width="1.0"/>
<line x1="447.4" y1="528.7" x2="459.6" y2="521.7" stroke="#222" stroke-width="1.0"/>
<ellipse cx="439.4" cy="514.8" rx="9.2" ry="16" transform="rotate(-30 439.4 514.8)" fill="#fff" stroke="#222" stroke-width="1.0"/>
<line x1="447.4" y1="510.2" x2="459.6" y2="503.2" stroke="#222" stroke-width="0.9"/>
<line x1="449.1" y1="513.6" x2="461.2" y2="506.6" stroke="#222" stroke-width="0.9"/>
<line x1="450.2" y1="517.2" x2="462.4" y2="510.2" stroke="#222" stroke-width="0.9"/>
<line x1="450.7" y1="520.5" x2="462.9" y2="513.5" stroke="#222" stroke-width="0.9"/>
<line x1="450.6" y1="523.6" x2="462.7" y2="516.6" stroke="#222" stroke-width="0.9"/>
<line x1="449.8" y1="526.1" x2="461.9" y2="519.1" stroke="#222" stroke-width="0.9"/>
<line x1="448.3" y1="528" x2="460.5" y2="521" stroke="#222" stroke-width="0.9"/>
<line x1="432.5" y1="500.5" x2="444.6" y2="493.5" stroke="#222" stroke-width="0.9"/>
<line x1="434.8" y1="500.2" x2="446.9" y2="493.2" stroke="#222" stroke-width="0.9"/>
<line x1="437.4" y1="500.8" x2="449.5" y2="493.8" stroke="#222" stroke-width="0.9"/>
<line x1="440.1" y1="502.2" x2="452.2" y2="495.2" stroke="#222" stroke-width="0.9"/>
<line x1="442.8" y1="504.3" x2="454.9" y2="497.3" stroke="#222" stroke-width="0.9"/>
<line x1="445.3" y1="507" x2="457.4" y2="500" stroke="#222" stroke-width="0.9"/>
<path d="M444.3 522.6 L447.3 523.1 L448.1 525.2 L445.3 525.5 L445.8 527.4 L449 528.5 L449.4 530.6 L446.5 530.2 L446.8 532.1 L450 533.7 L450.2 535.8 L447.1 534.8 L447.2 536.6 L450.4 538.8 L450.4 540.7 L447.2 539.1 L447 540.8 L450.2 543.5 L449.9 545.2 L446.7 543.1 L446.4 544.6 L449.3 547.7 L448.8 549.3 L445.7 546.6 L445.1 547.9 L447.9 551.4 L447.1 552.7 L444.1 549.7 L443.4 550.7 L445.9 554.5 L444.9 555.5 L442.1 552.1 L441.2 552.9 L443.3 556.9 L442.2 557.6 L439.7 553.9 L438.6 554.4 L440.3 558.5 L439 558.9 L436.8 554.9 L435.6 555.2 L436.9 559.3 L435.5 559.4 L433.6 555.3 L432.3 555.3 L433.2 559.4 L431.6 559.2 L430.2 555 L428.8 554.7 L429.2 558.6 L427.6 558.1 L426.6 554 L425.2 553.4 L425.1 557 L423.4 556.2 L422.9 552.3 L421.5 551.4 L420.9 554.7 L419.2 553.6 L419.2 549.9 L417.8 548.8 L416.8 551.7 L415.1 550.3 L415.6 546.9 L414.2 545.6 L412.7 548.1 L411.2 546.4 L412.1 543.4 L410.8 541.9 L408.9 543.9 L407.5 542 L408.9 539.5 L407.6 537.8 L405.4 539.2 L404.1 537.2 L405.9 535.2 L404.8 533.4 L402.3 534.2 L401.2 532.1 L403.3 530.6 L402.4 528.8 L399.6 528.9 L398.7 526.8 L401.2 525.9 L400.4 524 L397.4 523.5 L396.7 521.4 L399.5 521.1 L399 519.2 L395.8 518.1 L395.3 516 L398.3 516.4 L398 514.5 L394.8 512.9 L394.6 510.8 L397.7 511.8 L397.6 510 L394.4 507.8 L394.4 505.9 L397.6 507.5 L397.7 505.8 L394.6 503.1 L394.9 501.4 L398.1 503.5 L398.4 502 L395.5 498.9 L396 497.3 L399.1 500 L399.7 498.7 L396.9 495.2 L397.6 493.9 L400.6 496.9 L401.4 495.9 L398.9 492.1 L399.9 491.1 L402.7 494.5 L403.6 493.7 L401.5 489.7 L402.6 489 L405.1 492.7 L406.2 492.2 L404.5 488.1 L405.8 487.7 L408 491.7 L409.2 491.4 L407.9 487.3 L409.3 487.2 L411.1 491.3 L412.5 491.3 L411.6 487.2 L413.2 487.4 L414.6 491.6 L416 491.9 L415.6 488 L417.2 488.5 L418.2 492.6 L419.6 493.2 L419.7 489.6 L421.4 490.4 L421.8 494.3 L423.3 495.2 L423.9 491.9 L425.5 493 L425.6 496.7 L427 497.8 L428 494.9 L429.7 496.3 L429.2 499.7 L430.6 501 L432 498.5 L433.6 500.2 L432.7 503.2 L434 504.7 L435.9 502.7 L437.3 504.6 L435.9 507.1 L437.1 508.8 L439.4 507.4 L440.7 509.4 L438.9 511.4 L439.9 513.2 L442.5 512.4 L443.6 514.5 L441.4 516 L442.4 517.8 L445.2 517.7 L446.1 519.8 L443.6 520.7Z" fill="#fff" stroke="#222" stroke-width="1.1"/>
<path d="M394.4 498.9 L404.8 492.9 L439.9 553.7 L429.6 559.7Z" fill="#fff" stroke="none" stroke-width="0"/>
<line x1="432.7" y1="519.4" x2="447.7" y2="524.1" stroke="#333" stroke-width="0.8"/>
<line x1="435.2" y1="524.7" x2="449.2" y2="529.5" stroke="#333" stroke-width="0.8"/>
<line x1="437.3" y1="530.1" x2="450.1" y2="534.8" stroke="#333" stroke-width="0.8"/>
<line x1="438.8" y1="535.5" x2="450.4" y2="539.7" stroke="#333" stroke-width="0.8"/>
<line x1="439.7" y1="540.7" x2="450" y2="544.4" stroke="#333" stroke-width="0.8"/>
<line x1="440" y1="545.7" x2="449.1" y2="548.5" stroke="#333" stroke-width="0.8"/>
<line x1="439.6" y1="550.3" x2="447.5" y2="552.1" stroke="#333" stroke-width="0.8"/>
<line x1="438.7" y1="554.5" x2="445.4" y2="555" stroke="#333" stroke-width="0.8"/>
<line x1="437.1" y1="558.1" x2="442.8" y2="557.2" stroke="#333" stroke-width="0.8"/>
<line x1="435" y1="561" x2="439.7" y2="558.7" stroke="#333" stroke-width="0.8"/>
<line x1="432.4" y1="563.2" x2="436.2" y2="559.4" stroke="#333" stroke-width="0.8"/>
<line x1="429.3" y1="564.7" x2="432.4" y2="559.3" stroke="#333" stroke-width="0.8"/>
<line x1="391.6" y1="495.4" x2="408.6" y2="487.2" stroke="#333" stroke-width="0.8"/>
<line x1="394.7" y1="493.9" x2="412.4" y2="487.3" stroke="#333" stroke-width="0.8"/>
<line x1="398.2" y1="493.2" x2="416.4" y2="488.3" stroke="#333" stroke-width="0.8"/>
<line x1="402" y1="493.3" x2="420.5" y2="490" stroke="#333" stroke-width="0.8"/>
<line x1="406" y1="494.2" x2="424.7" y2="492.4" stroke="#333" stroke-width="0.8"/>
<line x1="410.1" y1="496" x2="428.8" y2="495.6" stroke="#333" stroke-width="0.8"/>
<line x1="414.3" y1="498.4" x2="432.8" y2="499.3" stroke="#333" stroke-width="0.8"/>
<line x1="418.4" y1="501.6" x2="436.6" y2="503.6" stroke="#333" stroke-width="0.8"/>
<line x1="422.4" y1="505.3" x2="440" y2="508.4" stroke="#333" stroke-width="0.8"/>
<line x1="426.2" y1="509.6" x2="443.1" y2="513.5" stroke="#333" stroke-width="0.8"/>
<line x1="429.6" y1="514.4" x2="445.6" y2="518.7" stroke="#333" stroke-width="0.8"/>
<path d="M429.5 519.2 L432.1 518.4 L433.2 520.5 L431 521.9 L432 523.8 L434.8 523.6 L435.7 525.8 L433.2 526.7 L433.9 528.6 L436.9 529 L437.7 531.2 L434.9 531.5 L435.4 533.4 L438.6 534.4 L439 536.6 L436.1 536.2 L436.4 538.1 L439.6 539.7 L439.8 541.8 L436.7 540.8 L436.8 542.6 L440 544.7 L440 546.7 L436.8 545.1 L436.7 546.8 L439.8 549.4 L439.5 551.2 L436.3 549.1 L436 550.6 L438.9 553.7 L438.4 555.2 L435.3 552.6 L434.7 553.9 L437.5 557.4 L436.8 558.7 L433.8 555.6 L433 556.7 L435.5 560.5 L434.5 561.5 L431.7 558.1 L430.8 558.9 L432.9 562.8 L431.8 563.6 L429.3 559.8 L428.2 560.4 L429.9 564.5 L428.6 564.9 L426.4 560.9 L425.2 561.2 L426.5 565.3 L425.1 565.4 L423.3 561.3 L421.9 561.3 L422.8 565.4 L421.3 565.2 L419.9 561 L418.4 560.7 L418.8 564.6 L417.2 564.1 L416.3 560 L414.8 559.4 L414.7 563 L413.1 562.2 L412.6 558.3 L411.1 557.4 L410.5 560.7 L408.9 559.6 L408.9 555.9 L407.4 554.8 L406.4 557.7 L404.8 556.3 L405.2 552.9 L403.8 551.6 L402.4 554.1 L400.8 552.5 L401.7 549.5 L400.4 547.9 L398.6 549.9 L397.1 548.1 L398.5 545.5 L397.3 543.8 L395 545.2 L393.7 543.3 L395.5 541.2 L394.5 539.4 L391.9 540.2 L390.8 538.1 L393 536.7 L392 534.8 L389.2 535 L388.3 532.8 L390.8 531.9 L390.1 530 L387.1 529.6 L386.3 527.4 L389.1 527.1 L388.6 525.2 L385.4 524.2 L385 522 L387.9 522.4 L387.6 520.5 L384.4 518.9 L384.2 516.8 L387.3 517.8 L387.2 516 L384 513.9 L384 511.9 L387.2 513.5 L387.3 511.8 L384.2 509.2 L384.5 507.4 L387.7 509.5 L388 508 L385.1 504.9 L385.6 503.4 L388.7 506 L389.3 504.7 L386.5 501.2 L387.2 499.9 L390.2 503 L391 501.9 L388.5 498.1 L389.5 497.1 L392.3 500.5 L393.2 499.7 L391.1 495.8 L392.2 495 L394.7 498.8 L395.8 498.2 L394.1 494.1 L395.4 493.7 L397.6 497.7 L398.8 497.4 L397.5 493.3 L398.9 493.2 L400.7 497.3 L402.1 497.3 L401.2 493.2 L402.7 493.4 L404.1 497.6 L405.6 497.9 L405.2 494 L406.8 494.5 L407.7 498.6 L409.2 499.2 L409.3 495.6 L410.9 496.4 L411.4 500.3 L412.9 501.2 L413.5 497.9 L415.1 499 L415.1 502.7 L416.6 503.8 L417.6 500.9 L419.2 502.3 L418.8 505.7 L420.2 507 L421.6 504.5 L423.2 506.1 L422.3 509.1 L423.6 510.7 L425.4 508.7 L426.9 510.5 L425.5 513.1 L426.7 514.8 L429 513.4 L430.3 515.3 L428.5 517.4Z" fill="#fff" stroke="#222" stroke-width="1.1"/>
<ellipse cx="412" cy="529.3" rx="16.9" ry="29.3" transform="rotate(-30 412 529.3)" fill="none" stroke="#222" stroke-width="0.935"/>
<ellipse cx="412" cy="529.3" rx="11.4" ry="19.8" transform="rotate(-30 412 529.3)" fill="none" stroke="#222" stroke-width="0.935"/>
<clipPath id="gb6"><ellipse cx="412" cy="529.3" rx="11.4" ry="19.8" transform="rotate(-30 412 529.3)" fill="#000" stroke="none" stroke-width="0"/></clipPath>
<g clip-path="url(#gb6)"><ellipse cx="424.5" cy="522.1" rx="11.4" ry="19.8" transform="rotate(-30 424.5 522.1)" fill="none" stroke="#222" stroke-width="0.8"/><line x1="414.2" y1="546.5" x2="426.7" y2="539.3" stroke="#222" stroke-width="0.6"/><line x1="408.6" y1="543" x2="421.1" y2="535.8" stroke="#222" stroke-width="0.6"/><line x1="403.6" y1="537.4" x2="416.1" y2="530.2" stroke="#222" stroke-width="0.6"/><line x1="399.9" y1="530.4" x2="412.4" y2="523.2" stroke="#222" stroke-width="0.6"/><line x1="398.1" y1="523.3" x2="410.6" y2="516.1" stroke="#222" stroke-width="0.6"/><line x1="398.5" y1="517.2" x2="411" y2="510" stroke="#222" stroke-width="0.6"/></g>
<path d="M416.1 538.1 L419.1 538.5 L419.8 540.7 L417 540.9 L417.5 542.8 L420.7 544 L421.1 546.1 L418.1 545.7 L418.4 547.5 L421.6 549.3 L421.8 551.3 L418.6 550.2 L418.7 551.9 L421.8 554.3 L421.7 556.2 L418.5 554.4 L418.3 556 L421.4 558.9 L421 560.6 L417.8 558.2 L417.4 559.6 L420.2 562.9 L419.6 564.3 L416.5 561.4 L415.9 562.6 L418.4 566.3 L417.5 567.4 L414.7 564.1 L413.8 564.9 L416 568.9 L414.9 569.7 L412.3 566 L411.3 566.6 L413.1 570.7 L411.8 571.2 L409.5 567.2 L408.3 567.5 L409.7 571.6 L408.2 571.7 L406.4 567.6 L405 567.6 L405.9 571.6 L404.3 571.4 L403 567.3 L401.5 566.9 L401.9 570.8 L400.2 570.2 L399.4 566.1 L397.9 565.4 L397.7 569 L396 568.1 L395.7 564.2 L394.2 563.3 L393.5 566.5 L391.8 565.2 L392 561.6 L390.5 560.4 L389.3 563.1 L387.7 561.6 L388.4 558.4 L387 557 L385.4 559.1 L383.8 557.4 L385.1 554.6 L383.8 553 L381.7 554.6 L380.3 552.6 L382 550.5 L380.9 548.7 L378.4 549.6 L377.3 547.5 L379.4 545.9 L378.4 544.1 L375.7 544.3 L374.7 542.1 L377.2 541.2 L376.4 539.3 L373.4 538.9 L372.7 536.7 L375.5 536.5 L375 534.6 L371.8 533.4 L371.4 531.3 L374.4 531.7 L374.1 529.9 L370.9 528.1 L370.7 526.1 L373.9 527.2 L373.9 525.5 L370.7 523.1 L370.8 521.2 L374 523 L374.2 521.4 L371.1 518.5 L371.5 516.8 L374.7 519.2 L375.1 517.8 L372.3 514.5 L372.9 513.1 L376 516 L376.7 514.8 L374.1 511.1 L375 510 L377.8 513.3 L378.7 512.5 L376.5 508.5 L377.6 507.7 L380.2 511.4 L381.3 510.8 L379.4 506.7 L380.8 506.2 L383 510.2 L384.2 509.9 L382.8 505.8 L384.3 505.7 L386.1 509.8 L387.5 509.8 L386.6 505.8 L388.2 506 L389.6 510.1 L391 510.5 L390.6 506.6 L392.3 507.2 L393.2 511.3 L394.6 512 L394.8 508.4 L396.5 509.3 L396.9 513.2 L398.3 514.1 L399.1 510.9 L400.7 512.2 L400.5 515.8 L402 517 L403.2 514.3 L404.8 515.8 L404.1 519 L405.5 520.4 L407.2 518.3 L408.7 520 L407.5 522.8 L408.7 524.4 L410.8 522.8 L412.2 524.8 L410.5 526.9 L411.6 528.7 L414.1 527.8 L415.3 529.9 L413.1 531.5 L414.1 533.3 L416.9 533.1 L417.8 535.3 L415.3 536.2Z" fill="#fff" stroke="#222" stroke-width="1.1"/>
<path d="M371.8 516.2 L380.4 511.2 L412.1 566.2 L403.5 571.2Z" fill="#fff" stroke="none" stroke-width="0"/>
<line x1="406.6" y1="534.8" x2="419.5" y2="539.6" stroke="#333" stroke-width="0.8"/>
<line x1="409.1" y1="540.2" x2="420.9" y2="545.1" stroke="#333" stroke-width="0.8"/>
<line x1="411.1" y1="545.6" x2="421.7" y2="550.3" stroke="#333" stroke-width="0.8"/>
<line x1="412.5" y1="551" x2="421.8" y2="555.2" stroke="#333" stroke-width="0.8"/>
<line x1="413.1" y1="556.2" x2="421.2" y2="559.7" stroke="#333" stroke-width="0.8"/>
<line x1="413.1" y1="561.1" x2="419.9" y2="563.6" stroke="#333" stroke-width="0.8"/>
<line x1="412.4" y1="565.5" x2="418" y2="566.9" stroke="#333" stroke-width="0.8"/>
<line x1="411" y1="569.3" x2="415.5" y2="569.3" stroke="#333" stroke-width="0.8"/>
<line x1="408.9" y1="572.4" x2="412.4" y2="570.9" stroke="#333" stroke-width="0.8"/>
<line x1="406.3" y1="574.7" x2="408.9" y2="571.7" stroke="#333" stroke-width="0.8"/>
<line x1="368.9" y1="512.7" x2="383.6" y2="505.7" stroke="#333" stroke-width="0.8"/>
<line x1="372" y1="511.2" x2="387.4" y2="505.9" stroke="#333" stroke-width="0.8"/>
<line x1="375.6" y1="510.7" x2="391.5" y2="506.9" stroke="#333" stroke-width="0.8"/>
<line x1="379.5" y1="511" x2="395.7" y2="508.8" stroke="#333" stroke-width="0.8"/>
<line x1="383.6" y1="512.2" x2="399.9" y2="511.6" stroke="#333" stroke-width="0.8"/>
<line x1="387.8" y1="514.3" x2="404" y2="515" stroke="#333" stroke-width="0.8"/>
<line x1="392" y1="517.1" x2="407.9" y2="519.1" stroke="#333" stroke-width="0.8"/>
<line x1="396.1" y1="520.7" x2="411.5" y2="523.8" stroke="#333" stroke-width="0.8"/>
<line x1="400" y1="525" x2="414.7" y2="528.9" stroke="#333" stroke-width="0.8"/>
<line x1="403.5" y1="529.7" x2="417.4" y2="534.2" stroke="#333" stroke-width="0.8"/>
<path d="M403.4 534.6 L406 533.8 L407.1 535.9 L404.9 537.3 L405.8 539.2 L408.7 539.1 L409.6 541.3 L407 542.1 L407.7 544 L410.8 544.5 L411.4 546.7 L408.6 546.8 L409.1 548.7 L412.2 550 L412.6 552.1 L409.6 551.5 L409.8 553.3 L413 555.2 L413.2 557.2 L410 556 L410 557.7 L413.1 560.2 L413 562 L409.8 560.1 L409.5 561.7 L412.6 564.7 L412.1 566.3 L409 563.8 L408.5 565.2 L411.3 568.6 L410.6 570 L407.6 567 L406.9 568.1 L409.4 571.8 L408.4 572.9 L405.6 569.5 L404.7 570.3 L406.9 574.3 L405.7 575.1 L403.2 571.3 L402.1 571.8 L403.8 575.9 L402.5 576.3 L400.3 572.4 L399.1 572.6 L400.3 576.7 L398.8 576.7 L397.1 572.6 L395.8 572.5 L396.5 576.6 L394.9 576.2 L393.6 572.1 L392.2 571.7 L392.4 575.5 L390.8 574.9 L390 570.8 L388.5 570.1 L388.2 573.6 L386.6 572.6 L386.3 568.8 L384.8 567.8 L384 570.9 L382.4 569.6 L382.6 566.1 L381.2 564.8 L379.9 567.4 L378.3 565.9 L379.1 562.7 L377.8 561.3 L376 563.3 L374.5 561.5 L375.8 558.9 L374.6 557.2 L372.4 558.7 L371.1 556.7 L372.8 554.6 L371.8 552.8 L369.2 553.6 L368.1 551.5 L370.3 550.1 L369.4 548.2 L366.5 548.3 L365.6 546.1 L368.2 545.3 L367.5 543.4 L364.4 542.9 L363.8 540.7 L366.6 540.6 L366.1 538.7 L363 537.4 L362.6 535.3 L365.6 535.9 L365.4 534.1 L362.2 532.2 L362 530.2 L365.2 531.4 L365.2 529.7 L362.1 527.2 L362.2 525.4 L365.4 527.3 L365.7 525.7 L362.6 522.7 L363.1 521.1 L366.2 523.6 L366.7 522.2 L363.9 518.8 L364.6 517.4 L367.6 520.4 L368.3 519.3 L365.8 515.6 L366.8 514.5 L369.6 517.9 L370.5 517.1 L368.3 513.1 L369.5 512.3 L372 516.1 L373.1 515.6 L371.4 511.5 L372.7 511.1 L374.9 515 L376.1 514.8 L374.9 510.7 L376.4 510.7 L378.1 514.8 L379.4 514.9 L378.7 510.8 L380.3 511.2 L381.6 515.3 L383 515.7 L382.8 511.9 L384.4 512.5 L385.2 516.6 L386.7 517.3 L387 513.8 L388.6 514.8 L388.9 518.6 L390.4 519.6 L391.2 516.5 L392.8 517.8 L392.6 521.3 L394 522.6 L395.3 520 L396.9 521.5 L396.1 524.7 L397.4 526.1 L399.2 524.1 L400.7 525.9 L399.4 528.5 L400.6 530.2 L402.8 528.7 L404.1 530.7 L402.4 532.8Z" fill="#fff" stroke="#222" stroke-width="1.1"/>
<ellipse cx="387.6" cy="543.7" rx="15.5" ry="26.8" transform="rotate(-30 387.6 543.7)" fill="none" stroke="#222" stroke-width="0.935"/>
<ellipse cx="387.6" cy="543.7" rx="10.4" ry="18.1" transform="rotate(-30 387.6 543.7)" fill="none" stroke="#222" stroke-width="0.935"/>
<clipPath id="gb7"><ellipse cx="387.6" cy="543.7" rx="10.4" ry="18.1" transform="rotate(-30 387.6 543.7)" fill="#000" stroke="none" stroke-width="0"/></clipPath>
<g clip-path="url(#gb7)"><ellipse cx="398" cy="537.7" rx="10.4" ry="18.1" transform="rotate(-30 398 537.7)" fill="none" stroke="#222" stroke-width="0.8"/><line x1="389.6" y1="559.4" x2="400" y2="553.4" stroke="#222" stroke-width="0.6"/><line x1="384.5" y1="556.3" x2="394.9" y2="550.3" stroke="#222" stroke-width="0.6"/><line x1="379.9" y1="551.1" x2="390.3" y2="545.1" stroke="#222" stroke-width="0.6"/><line x1="376.5" y1="544.7" x2="386.9" y2="538.7" stroke="#222" stroke-width="0.6"/><line x1="374.9" y1="538.2" x2="385.3" y2="532.2" stroke="#222" stroke-width="0.6"/><line x1="375.3" y1="532.6" x2="385.7" y2="526.6" stroke="#222" stroke-width="0.6"/></g>
<path d="M394.2 547.9 L397.2 548.3 L397.9 550.5 L395.1 550.6 L395.5 552.5 L398.7 553.7 L399.1 555.8 L396 555.2 L396.3 557 L399.5 558.9 L399.6 560.9 L396.4 559.5 L396.4 561.2 L399.5 563.7 L399.3 565.5 L396.1 563.5 L395.8 564.9 L398.7 568 L398.2 569.6 L395.1 566.9 L394.6 568.1 L397.3 571.7 L396.5 572.9 L393.5 569.7 L392.7 570.6 L395.1 574.5 L394 575.4 L391.4 571.8 L390.4 572.4 L392.3 576.5 L391 577 L388.8 573.1 L387.6 573.3 L389 577.5 L387.5 577.6 L385.7 573.5 L384.4 573.4 L385.2 577.5 L383.7 577.2 L382.4 573.1 L381 572.7 L381.2 576.5 L379.6 575.9 L378.9 571.8 L377.4 571.1 L377.1 574.6 L375.4 573.6 L375.3 569.8 L373.8 568.8 L372.9 571.8 L371.3 570.4 L371.7 567 L370.4 565.7 L368.9 568.1 L367.4 566.5 L368.4 563.6 L367.1 562.1 L365.2 563.9 L363.8 562 L365.3 559.7 L364.2 558 L361.8 559 L360.6 557 L362.7 555.3 L361.7 553.5 L359 553.9 L358 551.7 L360.5 550.8 L359.8 548.9 L356.8 548.5 L356.1 546.3 L358.9 546.2 L358.4 544.3 L355.2 543.1 L354.8 541 L357.9 541.6 L357.7 539.8 L354.4 537.9 L354.3 535.9 L357.5 537.3 L357.6 535.6 L354.4 533.1 L354.6 531.3 L357.8 533.3 L358.1 531.9 L355.2 528.8 L355.7 527.2 L358.8 529.9 L359.4 528.7 L356.7 525.1 L357.5 523.9 L360.4 527.1 L361.2 526.2 L358.8 522.3 L359.9 521.4 L362.5 525 L363.5 524.4 L361.6 520.3 L362.9 519.8 L365.2 523.7 L366.3 523.5 L365 519.3 L366.4 519.2 L368.2 523.3 L369.5 523.4 L368.7 519.3 L370.3 519.6 L371.5 523.7 L372.9 524.1 L372.7 520.3 L374.3 520.9 L375.1 525 L376.5 525.7 L376.8 522.2 L378.5 523.2 L378.7 527 L380.1 528 L381 525 L382.6 526.4 L382.2 529.8 L383.6 531.1 L385 528.7 L386.6 530.3 L385.5 533.2 L386.8 534.7 L388.8 532.9 L390.2 534.8 L388.6 537.1 L389.7 538.8 L392.1 537.8 L393.3 539.8 L391.3 541.5 L392.2 543.3 L394.9 542.9 L395.9 545.1 L393.4 546Z" fill="#fff" stroke="#222" stroke-width="1.1"/>
<path d="M354.6 529.6 L363.2 524.6 L390.7 572.2 L382.1 577.2Z" fill="#fff" stroke="none" stroke-width="0"/>
<line x1="385.2" y1="545.7" x2="397.5" y2="549.4" stroke="#333" stroke-width="0.8"/>
<line x1="387.6" y1="551" x2="398.9" y2="554.7" stroke="#333" stroke-width="0.8"/>
<line x1="389.5" y1="556.4" x2="399.5" y2="559.9" stroke="#333" stroke-width="0.8"/>
<line x1="390.6" y1="561.7" x2="399.4" y2="564.6" stroke="#333" stroke-width="0.8"/>
<line x1="390.9" y1="566.7" x2="398.5" y2="568.8" stroke="#333" stroke-width="0.8"/>
<line x1="390.5" y1="571.3" x2="396.9" y2="572.3" stroke="#333" stroke-width="0.8"/>
<line x1="389.3" y1="575.2" x2="394.6" y2="575" stroke="#333" stroke-width="0.8"/>
<line x1="387.4" y1="578.4" x2="391.7" y2="576.7" stroke="#333" stroke-width="0.8"/>
<line x1="384.9" y1="580.8" x2="388.3" y2="577.6" stroke="#333" stroke-width="0.8"/>
<line x1="351.7" y1="526" x2="365.7" y2="519.2" stroke="#333" stroke-width="0.8"/>
<line x1="354.8" y1="524.6" x2="369.5" y2="519.4" stroke="#333" stroke-width="0.8"/>
<line x1="358.4" y1="524.2" x2="373.5" y2="520.6" stroke="#333" stroke-width="0.8"/>
<line x1="362.3" y1="524.7" x2="377.7" y2="522.7" stroke="#333" stroke-width="0.8"/>
<line x1="366.4" y1="526.3" x2="381.8" y2="525.7" stroke="#333" stroke-width="0.8"/>
<line x1="370.6" y1="528.7" x2="385.8" y2="529.5" stroke="#333" stroke-width="0.8"/>
<line x1="374.7" y1="532" x2="389.5" y2="533.9" stroke="#333" stroke-width="0.8"/>
<line x1="378.6" y1="536.1" x2="392.7" y2="538.8" stroke="#333" stroke-width="0.8"/>
<line x1="382.1" y1="540.7" x2="395.4" y2="544" stroke="#333" stroke-width="0.8"/>
<path d="M382 545.5 L384.6 544.7 L385.7 546.8 L383.5 548.2 L384.3 550 L387.2 550 L388.1 552.1 L385.5 552.8 L386.1 554.6 L389.2 555.3 L389.7 557.5 L386.8 557.4 L387.2 559.2 L390.4 560.7 L390.7 562.7 L387.6 561.9 L387.7 563.6 L390.9 565.7 L390.9 567.7 L387.7 566.1 L387.6 567.6 L390.6 570.4 L390.3 572.1 L387.1 569.8 L386.7 571.2 L389.6 574.5 L389 575.9 L385.9 573 L385.3 574.1 L387.9 577.8 L387 578.9 L384.1 575.6 L383.3 576.4 L385.4 580.4 L384.3 581.1 L381.8 577.4 L380.7 577.8 L382.4 582 L381.1 582.3 L379 578.3 L377.8 578.5 L378.9 582.6 L377.4 582.6 L375.8 578.4 L374.5 578.3 L375.1 582.2 L373.5 581.8 L372.4 577.7 L371 577.2 L371 580.9 L369.4 580.1 L368.8 576.2 L367.4 575.3 L366.8 578.6 L365.2 577.5 L365.3 573.8 L363.9 572.7 L362.7 575.5 L361.1 574 L361.8 570.8 L360.5 569.4 L358.8 571.6 L357.3 569.9 L358.5 567.2 L357.3 565.6 L355.2 567.1 L353.9 565.1 L355.6 563.1 L354.6 561.3 L352 562.1 L350.9 560 L353.1 558.6 L352.3 556.8 L349.4 556.8 L348.5 554.7 L351.1 554 L350.5 552.2 L347.4 551.5 L346.9 549.3 L349.8 549.4 L349.4 547.6 L346.2 546.1 L345.9 544.1 L349 544.9 L348.9 543.2 L345.7 541.1 L345.7 539.1 L348.9 540.7 L349 539.2 L346 536.4 L346.3 534.7 L349.5 537 L349.9 535.6 L347 532.3 L347.6 530.9 L350.7 533.8 L351.3 532.7 L348.7 529 L349.6 527.9 L352.5 531.2 L353.3 530.4 L351.2 526.4 L352.3 525.7 L354.8 529.4 L355.9 529 L354.2 524.8 L355.5 524.5 L357.6 528.5 L358.8 528.3 L357.7 524.2 L359.2 524.2 L360.8 528.4 L362.1 528.5 L361.5 524.6 L363.1 525 L364.2 529.1 L365.6 529.6 L365.6 525.9 L367.2 526.7 L367.8 530.6 L369.2 531.5 L369.8 528.2 L371.4 529.3 L371.3 533 L372.7 534.1 L373.9 531.3 L375.5 532.8 L374.8 536 L376.1 537.4 L377.8 535.2 L379.3 536.9 L378.1 539.6 L379.3 541.2 L381.4 539.7 L382.7 541.7 L381 543.7Z" fill="#fff" stroke="#222" stroke-width="1.1"/>
<ellipse cx="368.3" cy="553.4" rx="13.3" ry="23" transform="rotate(-30 368.3 553.4)" fill="none" stroke="#222" stroke-width="0.935"/>
<ellipse cx="368.3" cy="553.4" rx="9.2" ry="16" transform="rotate(-30 368.3 553.4)" fill="none" stroke="#222" stroke-width="0.935"/>
<clipPath id="gb8"><ellipse cx="368.3" cy="553.4" rx="9.2" ry="16" transform="rotate(-30 368.3 553.4)" fill="#000" stroke="none" stroke-width="0"/></clipPath>
<g clip-path="url(#gb8)"><ellipse cx="378.7" cy="547.4" rx="9.2" ry="16" transform="rotate(-30 378.7 547.4)" fill="none" stroke="#222" stroke-width="0.8"/><line x1="370.1" y1="567.3" x2="380.5" y2="561.3" stroke="#222" stroke-width="0.6"/><line x1="365.6" y1="564.5" x2="376" y2="558.5" stroke="#222" stroke-width="0.6"/><line x1="361.5" y1="559.9" x2="371.9" y2="553.9" stroke="#222" stroke-width="0.6"/><line x1="358.5" y1="554.3" x2="368.9" y2="548.3" stroke="#222" stroke-width="0.6"/><line x1="357.1" y1="548.6" x2="367.5" y2="542.6" stroke="#222" stroke-width="0.6"/><line x1="357.4" y1="543.6" x2="367.8" y2="537.6" stroke="#222" stroke-width="0.6"/></g>
<path d="M367.4 554.2 L370.9 553.6 L373 557.9 L369.8 559.3 L370.9 562.7 L375.1 564.5 L375.8 568.8 L371.7 567.7 L371.6 570.7 L375.7 574.6 L374.9 578 L370.6 574.6 L369.4 576.7 L372.5 581.9 L370.4 583.7 L366.9 578.7 L364.8 579.4 L366.3 584.9 L363.2 584.7 L361.1 579.2 L358.5 578.3 L358.1 583 L354.7 581 L354.5 575.9 L352 573.6 L349.8 576.7 L346.7 573.1 L348.4 569.5 L346.4 566.4 L342.8 567 L340.7 562.7 L343.9 561.3 L342.8 557.9 L338.6 556.1 L337.9 551.8 L342 552.9 L342.1 549.9 L338 546 L338.8 542.6 L343.1 546 L344.3 543.9 L341.2 538.7 L343.4 536.9 L346.8 541.9 L349 541.2 L347.4 535.7 L350.5 535.9 L352.6 541.4 L355.2 542.3 L355.6 537.6 L359 539.6 L359.2 544.7 L361.8 547 L364 543.9 L367 547.5 L365.3 551.1Z" fill="#fff" stroke="#222" stroke-width="1.1"/>
<path d="M332.5 550.1 L346.4 542.1 L367.4 578.5 L353.5 586.5Z" fill="#fff" stroke="none" stroke-width="0"/>
<line x1="358.2" y1="563.7" x2="372" y2="555.7" stroke="#333" stroke-width="0.8"/>
<line x1="361.7" y1="574.7" x2="375.6" y2="566.7" stroke="#333" stroke-width="0.8"/>
<line x1="361.5" y1="584.4" x2="375.4" y2="576.4" stroke="#333" stroke-width="0.8"/>
<line x1="357.7" y1="590.9" x2="371.5" y2="582.9" stroke="#333" stroke-width="0.8"/>
<line x1="328.3" y1="545.7" x2="342.2" y2="537.7" stroke="#333" stroke-width="0.8"/>
<line x1="335.1" y1="543.7" x2="349" y2="535.7" stroke="#333" stroke-width="0.8"/>
<line x1="343.4" y1="546.5" x2="357.3" y2="538.5" stroke="#333" stroke-width="0.8"/>
<line x1="351.7" y1="553.7" x2="365.5" y2="545.7" stroke="#333" stroke-width="0.8"/>
<path d="M353.5 562.2 L357.1 561.6 L359.2 565.9 L355.9 567.3 L357 570.7 L361.3 572.5 L362 576.8 L357.8 575.7 L357.8 578.7 L361.9 582.6 L361 586 L356.8 582.6 L355.6 584.7 L358.7 589.9 L356.5 591.7 L353 586.7 L350.9 587.4 L352.4 592.9 L349.3 592.7 L347.3 587.2 L344.7 586.3 L344.3 591 L340.9 589 L340.7 583.9 L338.1 581.6 L335.9 584.7 L332.9 581.1 L334.5 577.5 L332.5 574.4 L328.9 575 L326.8 570.7 L330.1 569.3 L329 565.9 L324.7 564.1 L324 559.8 L328.2 560.9 L328.2 557.9 L324.1 554 L325 550.6 L329.2 554 L330.4 551.9 L327.3 546.7 L329.5 544.9 L333 549.9 L335.1 549.2 L333.6 543.7 L336.7 543.9 L338.7 549.4 L341.3 550.3 L341.7 545.6 L345.1 547.6 L345.3 552.7 L347.9 555 L350.1 551.9 L353.1 555.5 L351.5 559.1Z" fill="#fff" stroke="#222" stroke-width="1.1"/>
<ellipse cx="343" cy="568.3" rx="9.3" ry="16.2" transform="rotate(-30 343 568.3)" fill="none" stroke="#222" stroke-width="0.935"/>
<ellipse cx="343" cy="568.3" rx="6.2" ry="10.8" transform="rotate(-30 343 568.3)" fill="none" stroke="#222" stroke-width="0.935"/>
<clipPath id="gb9"><ellipse cx="343" cy="568.3" rx="6.2" ry="10.8" transform="rotate(-30 343 568.3)" fill="#000" stroke="none" stroke-width="0"/></clipPath>
<g clip-path="url(#gb9)"><ellipse cx="359.6" cy="558.7" rx="6.2" ry="10.8" transform="rotate(-30 359.6 558.7)" fill="none" stroke="#222" stroke-width="0.8"/><line x1="344.2" y1="577.7" x2="360.8" y2="568.1" stroke="#222" stroke-width="0.6"/><line x1="341.2" y1="575.8" x2="357.8" y2="566.2" stroke="#222" stroke-width="0.6"/><line x1="338.4" y1="572.7" x2="355" y2="563.1" stroke="#222" stroke-width="0.6"/><line x1="336.4" y1="568.9" x2="353" y2="559.3" stroke="#222" stroke-width="0.6"/><line x1="335.4" y1="565" x2="352.1" y2="555.4" stroke="#222" stroke-width="0.6"/><line x1="335.6" y1="561.7" x2="352.3" y2="552.1" stroke="#222" stroke-width="0.6"/></g>
<ellipse cx="331.4" cy="575" rx="4.3" ry="7.5" transform="rotate(-30 331.4 575)" fill="#fff" stroke="#222" stroke-width="1.0"/>
<path d="M317.2 574.5 L327.6 568.5 L335.1 581.5 L324.8 587.5Z" fill="#fff" stroke="none" stroke-width="0"/>
<line x1="317.2" y1="574.5" x2="327.6" y2="568.5" stroke="#222" stroke-width="1.0"/>
<line x1="324.8" y1="587.5" x2="335.1" y2="581.5" stroke="#222" stroke-width="1.0"/>
<ellipse cx="321" cy="581" rx="4.3" ry="7.5" transform="rotate(-30 321 581)" fill="#fff" stroke="#222" stroke-width="1.0"/>
<ellipse cx="321" cy="581" rx="2.3" ry="4" transform="rotate(-30 321 581)" fill="none" stroke="#222" stroke-width="0.9"/>
<ellipse cx="289.7" cy="598" rx="11" ry="19" transform="rotate(-30 289.7 598)" fill="#fff" stroke="#222" stroke-width="1.0"/>
<path d="M271.5 586.5 L280.2 581.5 L299.2 614.5 L290.5 619.5Z" fill="#fff" stroke="none" stroke-width="0"/>
<line x1="271.5" y1="586.5" x2="280.2" y2="581.5" stroke="#222" stroke-width="1.0"/>
<line x1="290.5" y1="619.5" x2="299.2" y2="614.5" stroke="#222" stroke-width="1.0"/>
<ellipse cx="281" cy="603" rx="11" ry="19" transform="rotate(-30 281 603)" fill="#fff" stroke="#222" stroke-width="1.0"/>
<ellipse cx="281" cy="603" rx="9.9" ry="17.1" transform="rotate(-30 281 603)" fill="none" stroke="#222" stroke-width="0.8"/>
<ellipse cx="282.7" cy="602" rx="6" ry="10.5" transform="rotate(-30 282.7 602)" fill="#fff" stroke="#222" stroke-width="1.0"/>
<ellipse cx="282.7" cy="602" rx="4.9" ry="8.6" transform="rotate(-30 282.7 602)" fill="none" stroke="#222" stroke-width="0.8"/>
<ellipse cx="287.5" cy="599.3" rx="0.7" ry="1.1" transform="rotate(-30 287.5 599.3)" fill="none" stroke="#222" stroke-width="0.7"/>
<ellipse cx="289.4" cy="605.9" rx="0.7" ry="1.1" transform="rotate(-30 289.4 605.9)" fill="none" stroke="#222" stroke-width="0.7"/>
<ellipse cx="287.5" cy="610.2" rx="0.7" ry="1.1" transform="rotate(-30 287.5 610.2)" fill="none" stroke="#222" stroke-width="0.7"/>
<ellipse cx="282.7" cy="609.8" rx="0.7" ry="1.1" transform="rotate(-30 282.7 609.8)" fill="none" stroke="#222" stroke-width="0.7"/>
<ellipse cx="278" cy="604.7" rx="0.7" ry="1.1" transform="rotate(-30 278 604.7)" fill="none" stroke="#222" stroke-width="0.7"/>
<ellipse cx="276" cy="598.1" rx="0.7" ry="1.1" transform="rotate(-30 276 598.1)" fill="none" stroke="#222" stroke-width="0.7"/>
<ellipse cx="278" cy="593.8" rx="0.7" ry="1.1" transform="rotate(-30 278 593.8)" fill="none" stroke="#222" stroke-width="0.7"/>
<ellipse cx="282.7" cy="594.2" rx="0.7" ry="1.1" transform="rotate(-30 282.7 594.2)" fill="none" stroke="#222" stroke-width="0.7"/>
<ellipse cx="282.7" cy="602" rx="3.5" ry="6.1" transform="rotate(-30 282.7 602)" fill="#fff" stroke="#222" stroke-width="0.9"/>
<path d="M251.3 635.4 L249.4 633.5 L247.5 631.4 L245.8 629.1 L244.2 626.7 L242.9 624.1 L241.8 621.4 L240.9 618.8 L240.2 616.2 L239.9 613.6 L239.8 611.2 L240 608.9 L240.5 606.9 L241.2 605.1 L242.2 603.6 L243.5 602.4 L244.9 601.5 L246.6 601 L248.3 600.9 L250.3 601.1 L252.3 601.7 L254.3 602.6 L256.4 603.8 L258.4 605.4 L260.4 607.2 L262.3 609.3 L264 611.6 L265.6 614 L267 616.6 L268.1 619.2 L269 621.9 L269.7 624.5 L270.1 627.1 L270.2 629.5 L270 631.8 L269.6 633.9 L268.9 635.7 L267.9 637.2 L266.7 638.5 L265.3 639.4 L263.7 639.9 L262.8 638 L264.2 637.5 L265.5 636.7 L266.6 635.6 L267.5 634.2 L268.1 632.5 L268.5 630.7 L268.7 628.6 L268.6 626.4 L268.2 624.1 L267.6 621.7 L266.8 619.3 L265.8 617 L264.5 614.7 L263.1 612.5 L261.5 610.4 L259.8 608.5 L258.1 606.9 L256.2 605.5 L254.4 604.4 L252.5 603.5 L250.7 603 L249 602.8 L247.4 603 L245.9 603.4 L244.6 604.2 L243.5 605.3 L242.6 606.6 L241.9 608.2 L241.5 610.1 L241.3 612.1 L241.4 614.3 L241.7 616.6 L242.3 619 L243.1 621.4 L244.1 623.7 L245.3 626.1 L246.7 628.3 L248.3 630.3 L249.9 632.2 L251.7 633.9Z" fill="#fff" stroke="#222" stroke-width="1.1"/>
<ellipse cx="262.6" cy="637.6" rx="1.2" ry="2.1" transform="rotate(-30 262.6 637.6)" fill="#fff" stroke="#222" stroke-width="0.9900000000000001"/>
<ellipse cx="251.8" cy="633.6" rx="1.2" ry="2.1" transform="rotate(-30 251.8 633.6)" fill="#fff" stroke="#222" stroke-width="0.9900000000000001"/>
<path d="M217.2 650.4 L214.7 660.9 L204.6 658.5 L196.9 645.6 L199.4 635.1 L209.6 637.5Z" fill="#fff" stroke="#222" stroke-width="1.0"/>
<line x1="211.2" y1="653.9" x2="217.2" y2="650.4" stroke="#222" stroke-width="1.0"/>
<line x1="208.7" y1="664.4" x2="214.7" y2="660.9" stroke="#222" stroke-width="1.0"/>
<line x1="198.5" y1="662" x2="204.6" y2="658.5" stroke="#222" stroke-width="1.0"/>
<line x1="190.8" y1="649.1" x2="196.9" y2="645.6" stroke="#222" stroke-width="1.0"/>
<line x1="193.3" y1="638.6" x2="199.4" y2="635.1" stroke="#222" stroke-width="1.0"/>
<line x1="203.5" y1="641" x2="209.6" y2="637.5" stroke="#222" stroke-width="1.0"/>
<path d="M211.2 653.9 L208.7 664.4 L198.5 662 L190.8 649.1 L193.3 638.6 L203.5 641Z" fill="#fff" stroke="#222" stroke-width="1.0"/>
<ellipse cx="201" cy="651.5" rx="5.4" ry="9.3" transform="rotate(-30 201 651.5)" fill="none" stroke="#222" stroke-width="1.0"/>
<ellipse cx="201" cy="651.5" rx="4.6" ry="7.9" transform="rotate(-30 201 651.5)" fill="none" stroke="#222" stroke-width="0.7"/>
<ellipse cx="171.5" cy="669" rx="2.8" ry="4.8" transform="rotate(-30 171.5 669)" fill="#fff" stroke="#222" stroke-width="1.0"/>
<path d="M146.6 677.8 L169.1 664.8 L173.9 673.2 L151.4 686.2Z" fill="#fff" stroke="none" stroke-width="0"/>
<line x1="146.6" y1="677.8" x2="169.1" y2="664.8" stroke="#222" stroke-width="1.0"/>
<line x1="151.4" y1="686.2" x2="173.9" y2="673.2" stroke="#222" stroke-width="1.0"/>
<ellipse cx="149" cy="682" rx="2.8" ry="4.8" transform="rotate(-30 149 682)" fill="#fff" stroke="#222" stroke-width="1.0"/>
<path d="M145.5 681.4 L148.4 680.8 L150 684.1 L147.3 685.2 L148.1 687.9 L151.7 689.3 L152.2 692.6 L148.7 691.6 L148.7 694 L152.1 697.2 L151.5 699.8 L148 696.9 L147 698.5 L149.7 702.8 L148 704.2 L145.1 700 L143.5 700.5 L144.8 705.1 L142.4 705 L140.7 700.4 L138.7 699.7 L138.5 703.7 L135.8 702.1 L135.7 697.9 L133.7 696.2 L131.9 698.7 L129.6 696 L131 693 L129.5 690.6 L126.5 691.2 L124.9 687.9 L127.6 686.8 L126.8 684.1 L123.2 682.7 L122.7 679.4 L126.2 680.4 L126.2 678 L122.8 674.8 L123.5 672.2 L127 675.1 L127.9 673.5 L125.3 669.2 L127 667.8 L129.8 672 L131.4 671.5 L130.1 666.9 L132.6 667 L134.2 671.6 L136.2 672.3 L136.5 668.3 L139.1 669.9 L139.2 674.1 L141.2 675.8 L143 673.3 L145.4 676 L143.9 679Z" fill="#fff" stroke="#222" stroke-width="1.0"/>
<path d="M126 674.1 L129.5 672.1 L145.5 699.9 L142 701.9Z" fill="#fff" stroke="none" stroke-width="0"/>
<line x1="145.8" y1="684.4" x2="149.3" y2="682.4" stroke="#333" stroke-width="0.7"/>
<line x1="148.5" y1="693" x2="152" y2="691" stroke="#333" stroke-width="0.7"/>
<line x1="148.4" y1="700.5" x2="151.9" y2="698.5" stroke="#333" stroke-width="0.7"/>
<line x1="145.4" y1="705.6" x2="148.9" y2="703.6" stroke="#333" stroke-width="0.7"/>
<line x1="122.6" y1="670.4" x2="126.1" y2="668.4" stroke="#333" stroke-width="0.7"/>
<line x1="127.9" y1="668.8" x2="131.3" y2="666.8" stroke="#333" stroke-width="0.7"/>
<line x1="134.3" y1="671.1" x2="137.8" y2="669.1" stroke="#333" stroke-width="0.7"/>
<line x1="140.7" y1="676.6" x2="144.2" y2="674.6" stroke="#333" stroke-width="0.7"/>
<path d="M142 683.4 L145 682.8 L146.6 686.1 L143.8 687.2 L144.7 689.9 L148.2 691.3 L148.8 694.6 L145.3 693.6 L145.2 696 L148.7 699.2 L148 701.8 L144.5 698.9 L143.6 700.5 L146.2 704.8 L144.5 706.2 L141.6 702 L140 702.5 L141.3 707.1 L138.9 707 L137.3 702.4 L135.3 701.7 L135 705.7 L132.3 704.1 L132.2 699.9 L130.3 698.2 L128.5 700.7 L126.1 698 L127.6 695 L126 692.6 L123 693.2 L121.4 689.9 L124.2 688.8 L123.3 686.1 L119.8 684.7 L119.2 681.4 L122.7 682.4 L122.8 680 L119.3 676.8 L120 674.2 L123.5 677.1 L124.4 675.5 L121.8 671.2 L123.5 669.8 L126.4 674 L128 673.5 L126.7 668.9 L129.1 669 L130.7 673.6 L132.7 674.3 L133 670.3 L135.7 671.9 L135.8 676.1 L137.7 677.8 L139.5 675.3 L141.9 678 L140.4 681Z" fill="#fff" stroke="#222" stroke-width="1.0"/>
<ellipse cx="134" cy="688" rx="6.7" ry="11.6" transform="rotate(-30 134 688)" fill="none" stroke="#222" stroke-width="0.85"/>
<ellipse cx="134" cy="688" rx="3.6" ry="6.3" transform="rotate(-30 134 688)" fill="none" stroke="#222" stroke-width="0.85"/>
<clipPath id="gb10"><ellipse cx="134" cy="688" rx="3.6" ry="6.3" transform="rotate(-30 134 688)" fill="#000" stroke="none" stroke-width="0"/></clipPath>
<g clip-path="url(#gb10)"><ellipse cx="138.2" cy="685.6" rx="3.6" ry="6.3" transform="rotate(-30 138.2 685.6)" fill="none" stroke="#222" stroke-width="0.8"/><line x1="134.7" y1="693.5" x2="138.9" y2="691.1" stroke="#222" stroke-width="0.6"/><line x1="132.9" y1="692.4" x2="137.1" y2="690" stroke="#222" stroke-width="0.6"/><line x1="131.3" y1="690.6" x2="135.5" y2="688.2" stroke="#222" stroke-width="0.6"/><line x1="130.2" y1="688.4" x2="134.3" y2="686" stroke="#222" stroke-width="0.6"/><line x1="129.6" y1="686.1" x2="133.7" y2="683.7" stroke="#222" stroke-width="0.6"/><line x1="129.7" y1="684.1" x2="133.9" y2="681.7" stroke="#222" stroke-width="0.6"/></g>
<ellipse cx="134" cy="688" rx="4.6" ry="8" transform="rotate(-30 134 688)" fill="none" stroke="#333" stroke-width="3.0"/>
<path d="M118.2 699.8 L119.3 706.9 L116.1 710.5 L110.5 708.5 L105.8 702.2 L104.7 695.1 L107.9 691.5 L113.5 693.5Z" fill="none" stroke="#222" stroke-width="1.0"/>
<path d="M118.2 699.8 L119.3 706.9 L116.1 710.5 L110.5 708.5 L105.8 702.2 L104.7 695.1 L107.9 691.5 L113.5 693.5Z" fill="none" stroke="#222" stroke-width="1.0"/>
<ellipse cx="112" cy="701" rx="1.7" ry="3" transform="rotate(-30 112 701)" fill="none" stroke="#222" stroke-width="1.2"/>
<path d="M97.2 708.5 L98.6 708.5 L99.4 710.3 L98.3 710.9 L98.8 712.6 L100.3 713.5 L100.4 715.2 L99 714.8 L98.8 716.1 L100 717.8 L99.5 718.9 L98.1 717.7 L97.2 718.4 L97.9 720.3 L96.8 720.6 L95.8 718.8 L94.6 718.6 L94.5 720.3 L93.1 719.6 L92.7 717.8 L91.4 716.8 L90.6 717.8 L89.4 716.4 L89.8 715 L88.8 713.5 L87.4 713.5 L86.6 711.7 L87.7 711.1 L87.2 709.4 L85.7 708.5 L85.6 706.8 L87 707.2 L87.2 705.9 L86 704.2 L86.5 703.1 L87.9 704.3 L88.8 703.6 L88.1 701.7 L89.2 701.4 L90.2 703.2 L91.4 703.4 L91.5 701.7 L92.9 702.4 L93.3 704.2 L94.6 705.2 L95.4 704.2 L96.6 705.6 L96.2 707Z" fill="#555" stroke="#111" stroke-width="2.2"/>
<ellipse cx="93" cy="711" rx="2" ry="3.5" transform="rotate(-30 93 711)" fill="#fff" stroke="#111" stroke-width="1.5"/>
<path d="M80.4 721.4 L81.4 728.1 L78.4 731.6 L73.1 729.7 L68.6 723.6 L67.6 716.9 L70.6 713.4 L75.9 715.3Z" fill="none" stroke="#222" stroke-width="1.0"/>
<path d="M80.4 721.4 L81.4 728.1 L78.4 731.6 L73.1 729.7 L68.6 723.6 L67.6 716.9 L70.6 713.4 L75.9 715.3Z" fill="none" stroke="#222" stroke-width="1.0"/>
<ellipse cx="74.5" cy="722.5" rx="1.7" ry="3" transform="rotate(-30 74.5 722.5)" fill="none" stroke="#222" stroke-width="1.2"/>
<ellipse cx="52.5" cy="736" rx="2" ry="3.5" transform="rotate(-30 52.5 736)" fill="none" stroke="#111" stroke-width="2.0"/>
<ellipse cx="1077.9" cy="229.5" rx="15.6" ry="27" transform="rotate(-30 1077.9 229.5)" fill="#fff" stroke="#222" stroke-width="1.0"/>
<path d="M1056.6 210.6 L1064.4 206.1 L1091.4 252.9 L1083.6 257.4Z" fill="#fff" stroke="none" stroke-width="0"/>
<line x1="1056.6" y1="210.6" x2="1064.4" y2="206.1" stroke="#222" stroke-width="1.0"/>
<line x1="1083.6" y1="257.4" x2="1091.4" y2="252.9" stroke="#222" stroke-width="1.0"/>
<ellipse cx="1070.1" cy="234" rx="15.6" ry="27" transform="rotate(-30 1070.1 234)" fill="#fff" stroke="#222" stroke-width="1.0"/>
<path d="M1087.8 237.1 L1092.3 238.7 L1093 242.1 L1088.6 241.1 L1088.8 243.7 L1093.4 246.9 L1093.3 249.9 L1088.7 247.4 L1088.3 249.6 L1092.6 254 L1091.8 256.5 L1087.3 252.5 L1086.3 254.2 L1090 259.6 L1088.5 261.2 L1084.5 256.1 L1083.1 257.1 L1085.7 263 L1083.7 263.8 L1080.6 258 L1078.7 258.2 L1080.2 264.1 L1077.8 263.9 L1075.8 257.9 L1073.7 257.3 L1073.9 262.8 L1071.3 261.6 L1070.5 255.9 L1068.4 254.5 L1067.3 259.1 L1064.7 257 L1065.2 252.1 L1063.2 250.1 L1060.9 253.4 L1058.5 250.6 L1060.3 246.8 L1058.6 244.4 L1055.2 246.1 L1053.3 242.9 L1056.2 240.5 L1054.9 237.8 L1050.7 237.9 L1049.4 234.4 L1053.2 233.7 L1052.4 230.9 L1047.9 229.3 L1047.2 225.9 L1051.6 226.9 L1051.4 224.3 L1046.8 221.1 L1046.9 218.1 L1051.5 220.6 L1051.9 218.4 L1047.6 214 L1048.4 211.5 L1052.9 215.5 L1053.9 213.8 L1050.2 208.4 L1051.7 206.8 L1055.7 211.9 L1057.1 210.9 L1054.4 205 L1056.5 204.2 L1059.6 210 L1061.5 209.8 L1060 203.9 L1062.4 204.1 L1064.4 210.1 L1066.5 210.7 L1066.3 205.2 L1068.9 206.4 L1069.7 212.1 L1071.8 213.5 L1072.9 208.9 L1075.5 211 L1075 215.9 L1077 217.9 L1079.3 214.6 L1081.7 217.4 L1079.9 221.2 L1081.6 223.6 L1085 221.9 L1086.9 225.1 L1084 227.5 L1085.3 230.2 L1089.4 230.1 L1090.8 233.6 L1087 234.3Z" fill="#fff" stroke="#222" stroke-width="1.1"/>
<path d="M1041.3 220.1 L1056.8 211.1 L1083.3 256.9 L1067.8 265.9Z" fill="#fff" stroke="none" stroke-width="0"/>
<line x1="1072.3" y1="236" x2="1092.7" y2="240.4" stroke="#333" stroke-width="0.9"/>
<line x1="1075.9" y1="244.5" x2="1093.4" y2="248.4" stroke="#333" stroke-width="0.9"/>
<line x1="1077.6" y1="252.9" x2="1092.2" y2="255.3" stroke="#333" stroke-width="0.9"/>
<line x1="1077.5" y1="260.5" x2="1089.3" y2="260.4" stroke="#333" stroke-width="0.9"/>
<line x1="1075.6" y1="266.7" x2="1084.7" y2="263.4" stroke="#333" stroke-width="0.9"/>
<line x1="1071.9" y1="271" x2="1079" y2="264" stroke="#333" stroke-width="0.9"/>
<line x1="1037.1" y1="215" x2="1061.2" y2="204" stroke="#333" stroke-width="0.9"/>
<line x1="1042.2" y1="213" x2="1067.6" y2="205.8" stroke="#333" stroke-width="0.9"/>
<line x1="1048.2" y1="213.4" x2="1074.2" y2="209.9" stroke="#333" stroke-width="0.9"/>
<line x1="1054.8" y1="216.3" x2="1080.5" y2="215.9" stroke="#333" stroke-width="0.9"/>
<line x1="1061.4" y1="221.2" x2="1086" y2="223.5" stroke="#333" stroke-width="0.9"/>
<line x1="1067.4" y1="228" x2="1090.2" y2="231.8" stroke="#333" stroke-width="0.9"/>
<path d="M1067.7 235.4 L1071.5 234.3 L1073.2 237.6 L1069.8 239.4 L1070.9 242.1 L1075.3 242.8 L1076.4 246.2 L1072.2 246.3 L1072.8 249 L1077.4 251.3 L1077.8 254.5 L1073.2 252.9 L1073.2 255.3 L1077.7 259.1 L1077.3 261.9 L1072.7 258.7 L1072.1 260.7 L1076.1 265.6 L1075 267.7 L1070.7 263.3 L1069.5 264.6 L1072.8 270.3 L1071 271.6 L1067.4 266.2 L1065.7 266.8 L1068 272.8 L1065.7 273.1 L1063 267.2 L1061.1 267.1 L1062 272.8 L1059.5 272.2 L1058 266.3 L1055.9 265.4 L1055.5 270.5 L1052.9 268.9 L1052.6 263.4 L1050.5 261.8 L1048.9 265.9 L1046.4 263.5 L1047.5 259 L1045.5 256.8 L1042.8 259.5 L1040.5 256.5 L1042.9 253.2 L1041.3 250.6 L1037.6 251.7 L1035.8 248.4 L1039.2 246.6 L1038.1 243.9 L1033.7 243.2 L1032.7 239.8 L1036.8 239.7 L1036.2 237 L1031.6 234.7 L1031.2 231.5 L1035.8 233.1 L1035.8 230.7 L1031.3 226.9 L1031.7 224.1 L1036.3 227.3 L1037 225.3 L1032.9 220.4 L1034 218.3 L1038.3 222.7 L1039.5 221.4 L1036.2 215.7 L1038 214.4 L1041.6 219.8 L1043.3 219.2 L1041.1 213.2 L1043.3 212.9 L1046 218.8 L1048 218.9 L1047 213.2 L1049.5 213.8 L1051 219.7 L1053.2 220.6 L1053.5 215.5 L1056.2 217.1 L1056.4 222.6 L1058.5 224.2 L1060.1 220.1 L1062.7 222.5 L1061.5 227 L1063.5 229.2 L1066.3 226.5 L1068.5 229.5 L1066.2 232.8Z" fill="#fff" stroke="#222" stroke-width="1.1"/>
<ellipse cx="1054.5" cy="243" rx="14.9" ry="25.7" transform="rotate(-30 1054.5 243)" fill="none" stroke="#222" stroke-width="0.935"/>
<clipPath id="gb11"><ellipse cx="1054.5" cy="243" rx="14.9" ry="25.7" transform="rotate(-30 1054.5 243)" fill="#000" stroke="none" stroke-width="0"/></clipPath>
<g clip-path="url(#gb11)"><ellipse cx="1073.2" cy="232.2" rx="14.9" ry="25.7" transform="rotate(-30 1073.2 232.2)" fill="none" stroke="#222" stroke-width="0.8"/><line x1="1057.3" y1="265.4" x2="1076.1" y2="254.6" stroke="#222" stroke-width="0.6"/><line x1="1050.1" y1="260.9" x2="1068.8" y2="250.1" stroke="#222" stroke-width="0.6"/><line x1="1043.6" y1="253.5" x2="1062.3" y2="242.7" stroke="#222" stroke-width="0.6"/><line x1="1038.8" y1="244.5" x2="1057.5" y2="233.7" stroke="#222" stroke-width="0.6"/><line x1="1036.5" y1="235.2" x2="1055.2" y2="224.4" stroke="#222" stroke-width="0.6"/><line x1="1037" y1="227.2" x2="1055.7" y2="216.4" stroke="#222" stroke-width="0.6"/></g>
<path d="M1067 245.7 L1070 246.2 L1070.9 248.8 L1068.1 249 L1068.6 251.2 L1071.8 252.6 L1072.2 255.1 L1069.1 254.4 L1069.3 256.5 L1072.5 258.7 L1072.5 261 L1069.3 259.5 L1069.2 261.3 L1072.2 264.2 L1071.8 266.2 L1068.6 264 L1068.1 265.5 L1070.9 269 L1070.1 270.6 L1067.1 267.7 L1066.2 268.9 L1068.7 272.7 L1067.5 273.9 L1064.7 270.4 L1063.6 271.2 L1065.5 275.3 L1064 276 L1061.7 272.1 L1060.3 272.5 L1061.6 276.7 L1059.9 276.8 L1058.1 272.7 L1056.5 272.6 L1057.2 276.7 L1055.3 276.3 L1054.1 272.1 L1052.4 271.6 L1052.4 275.3 L1050.5 274.4 L1049.8 270.4 L1048.1 269.5 L1047.5 272.7 L1045.5 271.4 L1045.5 267.7 L1043.9 266.3 L1042.6 269 L1040.7 267.2 L1041.4 264 L1039.8 262.3 L1038 264.2 L1036.3 262.1 L1037.6 259.5 L1036.2 257.5 L1033.9 258.7 L1032.4 256.3 L1034.3 254.4 L1033.1 252.3 L1030.4 252.6 L1029.2 250.1 L1031.6 249 L1030.8 246.8 L1027.7 246.3 L1026.9 243.7 L1029.7 243.5 L1029.2 241.3 L1026 239.9 L1025.5 237.4 L1028.6 238.1 L1028.4 236 L1025.2 233.8 L1025.2 231.5 L1028.4 233 L1028.6 231.2 L1025.5 228.3 L1025.9 226.3 L1029.1 228.5 L1029.6 227 L1026.8 223.5 L1027.6 221.9 L1030.7 224.8 L1031.5 223.6 L1029.1 219.8 L1030.3 218.6 L1033 222.1 L1034.2 221.3 L1032.2 217.2 L1033.7 216.5 L1036.1 220.4 L1037.5 220 L1036.1 215.8 L1037.8 215.7 L1039.7 219.8 L1041.3 219.9 L1040.5 215.8 L1042.4 216.2 L1043.7 220.4 L1045.4 220.9 L1045.3 217.2 L1047.3 218.1 L1047.9 222.1 L1049.7 223 L1050.3 219.8 L1052.2 221.1 L1052.2 224.8 L1053.9 226.2 L1055.2 223.5 L1057 225.3 L1056.3 228.5 L1057.9 230.2 L1059.8 228.3 L1061.5 230.4 L1060.2 233 L1061.5 235 L1063.9 233.8 L1065.4 236.2 L1063.5 238.1 L1064.6 240.2 L1067.4 239.9 L1068.6 242.4 L1066.1 243.5Z" fill="#fff" stroke="#222" stroke-width="1.1"/>
<path d="M1024 227.1 L1034.4 221.1 L1063.4 271.4 L1053 277.4Z" fill="#fff" stroke="none" stroke-width="0"/>
<line x1="1056.2" y1="244.4" x2="1070.5" y2="247.5" stroke="#333" stroke-width="0.8"/>
<line x1="1059.1" y1="250.7" x2="1072" y2="253.8" stroke="#333" stroke-width="0.8"/>
<line x1="1061.1" y1="257.1" x2="1072.6" y2="259.8" stroke="#333" stroke-width="0.8"/>
<line x1="1062.1" y1="263.3" x2="1072.1" y2="265.2" stroke="#333" stroke-width="0.8"/>
<line x1="1062" y1="269" x2="1070.6" y2="269.8" stroke="#333" stroke-width="0.8"/>
<line x1="1060.9" y1="273.9" x2="1068.1" y2="273.3" stroke="#333" stroke-width="0.8"/>
<line x1="1058.9" y1="277.9" x2="1064.8" y2="275.7" stroke="#333" stroke-width="0.8"/>
<line x1="1055.9" y1="280.8" x2="1060.8" y2="276.8" stroke="#333" stroke-width="0.8"/>
<line x1="1021.1" y1="223.7" x2="1037" y2="215.7" stroke="#333" stroke-width="0.8"/>
<line x1="1024.8" y1="222" x2="1041.5" y2="216" stroke="#333" stroke-width="0.8"/>
<line x1="1029.1" y1="221.7" x2="1046.3" y2="217.6" stroke="#333" stroke-width="0.8"/>
<line x1="1033.8" y1="222.7" x2="1051.3" y2="220.4" stroke="#333" stroke-width="0.8"/>
<line x1="1038.7" y1="225" x2="1056.1" y2="224.4" stroke="#333" stroke-width="0.8"/>
<line x1="1043.6" y1="228.5" x2="1060.6" y2="229.3" stroke="#333" stroke-width="0.8"/>
<line x1="1048.3" y1="233.1" x2="1064.7" y2="235" stroke="#333" stroke-width="0.8"/>
<line x1="1052.6" y1="238.5" x2="1068" y2="241.1" stroke="#333" stroke-width="0.8"/>
<path d="M1053 243.9 L1055.6 243.2 L1056.9 245.7 L1054.7 247.1 L1055.7 249.3 L1058.6 249.5 L1059.6 252 L1056.9 252.6 L1057.6 254.8 L1060.8 255.9 L1061.4 258.4 L1058.4 258.1 L1058.7 260.2 L1061.9 262.1 L1062.1 264.5 L1059 263.3 L1059 265.3 L1062.1 267.9 L1061.9 270 L1058.7 268.1 L1058.3 269.8 L1061.2 273 L1060.6 274.8 L1057.5 272.2 L1056.8 273.6 L1059.4 277.2 L1058.4 278.6 L1055.4 275.4 L1054.4 276.4 L1056.6 280.4 L1055.2 281.3 L1052.7 277.5 L1051.4 278.1 L1053 282.2 L1051.4 282.6 L1049.3 278.6 L1047.8 278.7 L1048.8 282.8 L1047 282.7 L1045.4 278.5 L1043.8 278.2 L1044.1 282.1 L1042.2 281.4 L1041.3 277.3 L1039.6 276.5 L1039.2 280 L1037.3 278.8 L1037 275 L1035.3 273.8 L1034.3 276.7 L1032.4 275.1 L1032.8 271.7 L1031.1 270.1 L1029.5 272.4 L1027.7 270.4 L1028.8 267.5 L1027.3 265.7 L1025.2 267.2 L1023.6 264.9 L1025.3 262.7 L1024 260.6 L1021.4 261.3 L1020.1 258.8 L1022.3 257.4 L1021.3 255.2 L1018.4 255 L1017.4 252.5 L1020 251.9 L1019.4 249.7 L1016.2 248.6 L1015.6 246.1 L1018.6 246.4 L1018.2 244.3 L1015 242.4 L1014.8 240 L1018 241.2 L1018 239.2 L1014.9 236.6 L1015.1 234.5 L1018.3 236.4 L1018.7 234.7 L1015.7 231.5 L1016.4 229.7 L1019.5 232.3 L1020.2 230.9 L1017.6 227.3 L1018.6 225.9 L1021.5 229.1 L1022.6 228.1 L1020.4 224.1 L1021.7 223.2 L1024.3 227 L1025.6 226.4 L1024 222.3 L1025.6 221.9 L1027.7 225.9 L1029.2 225.8 L1028.2 221.7 L1030 221.8 L1031.5 226 L1033.2 226.3 L1032.8 222.4 L1034.8 223.1 L1035.7 227.2 L1037.4 228 L1037.7 224.5 L1039.7 225.7 L1040 229.5 L1041.7 230.7 L1042.7 227.8 L1044.6 229.4 L1044.2 232.8 L1045.8 234.4 L1047.4 232.1 L1049.2 234.1 L1048.2 237 L1049.6 238.8 L1051.8 237.3 L1053.4 239.6 L1051.7 241.8Z" fill="#fff" stroke="#222" stroke-width="1.1"/>
<ellipse cx="1038.5" cy="252.2" rx="15.5" ry="26.8" transform="rotate(-30 1038.5 252.2)" fill="none" stroke="#222" stroke-width="0.935"/>
<ellipse cx="1038.5" cy="252.2" rx="12.4" ry="21.4" transform="rotate(-30 1038.5 252.2)" fill="none" stroke="#222" stroke-width="0.935"/>
<ellipse cx="1038.9" cy="252" rx="7.5" ry="13" transform="rotate(-30 1038.9 252)" fill="#fff" stroke="#222" stroke-width="1.0"/>
<path d="M1018.6 248.7 L1032.4 240.7 L1045.4 263.3 L1031.6 271.3Z" fill="#fff" stroke="none" stroke-width="0"/>
<line x1="1018.6" y1="248.7" x2="1032.4" y2="240.7" stroke="#222" stroke-width="1.0"/>
<line x1="1031.6" y1="271.3" x2="1045.4" y2="263.3" stroke="#222" stroke-width="1.0"/>
<ellipse cx="1025.1" cy="260" rx="7.5" ry="13" transform="rotate(-30 1025.1 260)" fill="#fff" stroke="#222" stroke-width="1.0"/>
<path d="M1031.6 256.2 L1032.3 256.3 L1032.8 257.4 L1032.4 257.9 L1032.9 259.1 L1033.7 259.3 L1034.1 260.4 L1033.5 260.7 L1033.9 261.9 L1034.6 262.4 L1034.8 263.5 L1034.2 263.6 L1034.3 264.7 L1035 265.4 L1034.9 266.3 L1034.2 266.2 L1034.1 267.1 L1034.7 268 L1034.5 268.8 L1033.8 268.4 L1033.5 269.2 L1034 270.1 L1033.6 270.8 L1032.8 270.2 L1032.3 270.7 L1032.7 271.7 L1032.1 272.1 L1031.4 271.4 L1030.7 271.6 L1030.9 272.6 L1030.2 272.7 L1029.7 271.9 L1028.8 271.9 L1028.9 272.7 L1028.1 272.6 L1027.6 271.7 L1026.7 271.4 L1026.6 272.2 L1025.7 271.8 L1025.4 270.8 L1024.5 270.3 L1024.2 270.9 L1023.4 270.3 L1023.2 269.3 L1022.3 268.6 L1021.9 269 L1021.1 268.1 L1021.1 267.3 L1020.3 266.3 L1019.7 266.5 L1019 265.6 L1019.2 264.9 L1018.6 263.8 L1017.9 263.7 L1017.3 262.6 L1017.7 262.1 L1017.2 260.9 L1016.5 260.7 L1016.1 259.6 L1016.6 259.3 L1016.3 258.1 L1015.5 257.6 L1015.3 256.5 L1016 256.4 L1015.9 255.3 L1015.2 254.6 L1015.2 253.7 L1015.9 253.8 L1016 252.9 L1015.4 252 L1015.6 251.2 L1016.3 251.6 L1016.7 250.8 L1016.2 249.9 L1016.6 249.2 L1017.3 249.8 L1017.8 249.3 L1017.5 248.3 L1018 247.9 L1018.7 248.6 L1019.4 248.4 L1019.2 247.4 L1019.9 247.3 L1020.5 248.1 L1021.3 248.1 L1021.3 247.3 L1022 247.4 L1022.5 248.3 L1023.4 248.6 L1023.6 247.8 L1024.4 248.2 L1024.7 249.2 L1025.6 249.7 L1025.9 249.1 L1026.8 249.7 L1026.9 250.7 L1027.8 251.4 L1028.3 251 L1029.1 251.9 L1029 252.7 L1029.8 253.7 L1030.4 253.5 L1031.1 254.4 L1030.9 255.1Z" fill="#fff" stroke="#222" stroke-width="0.9"/>
<path d="M997.8 260.7 L1018.6 248.7 L1031.6 271.3 L1010.8 283.3Z" fill="#fff" stroke="none" stroke-width="0"/>
<line x1="1011.5" y1="268.3" x2="1032.3" y2="256.3" stroke="#222" stroke-width="0.9"/>
<line x1="1012" y1="269.4" x2="1032.8" y2="257.4" stroke="#222" stroke-width="0.9"/>
<line x1="1012.9" y1="271.3" x2="1033.7" y2="259.3" stroke="#222" stroke-width="0.9"/>
<line x1="1013.3" y1="272.4" x2="1034.1" y2="260.4" stroke="#222" stroke-width="0.9"/>
<line x1="1013.8" y1="274.4" x2="1034.6" y2="262.4" stroke="#222" stroke-width="0.9"/>
<line x1="1014" y1="275.5" x2="1034.8" y2="263.5" stroke="#222" stroke-width="0.9"/>
<line x1="1014.2" y1="277.4" x2="1035" y2="265.4" stroke="#222" stroke-width="0.9"/>
<line x1="1014.2" y1="278.3" x2="1034.9" y2="266.3" stroke="#222" stroke-width="0.9"/>
<line x1="1014" y1="280" x2="1034.7" y2="268" stroke="#222" stroke-width="0.9"/>
<line x1="1013.8" y1="280.8" x2="1034.5" y2="268.8" stroke="#222" stroke-width="0.9"/>
<line x1="1013.2" y1="282.1" x2="1034" y2="270.1" stroke="#222" stroke-width="0.9"/>
<line x1="1012.8" y1="282.8" x2="1033.6" y2="270.8" stroke="#222" stroke-width="0.9"/>
<line x1="1011.9" y1="283.7" x2="1032.7" y2="271.7" stroke="#222" stroke-width="0.9"/>
<line x1="1011.3" y1="284.1" x2="1032.1" y2="272.1" stroke="#222" stroke-width="0.9"/>
<line x1="997.2" y1="259.9" x2="1018" y2="247.9" stroke="#222" stroke-width="0.9"/>
<line x1="998.4" y1="259.4" x2="1019.2" y2="247.4" stroke="#222" stroke-width="0.9"/>
<line x1="999.1" y1="259.3" x2="1019.9" y2="247.3" stroke="#222" stroke-width="0.9"/>
<line x1="1000.5" y1="259.3" x2="1021.3" y2="247.3" stroke="#222" stroke-width="0.9"/>
<line x1="1001.3" y1="259.4" x2="1022" y2="247.4" stroke="#222" stroke-width="0.9"/>
<line x1="1002.8" y1="259.8" x2="1023.6" y2="247.8" stroke="#222" stroke-width="0.9"/>
<line x1="1003.6" y1="260.2" x2="1024.4" y2="248.2" stroke="#222" stroke-width="0.9"/>
<line x1="1005.2" y1="261.1" x2="1025.9" y2="249.1" stroke="#222" stroke-width="0.9"/>
<line x1="1006" y1="261.7" x2="1026.8" y2="249.7" stroke="#222" stroke-width="0.9"/>
<line x1="1007.5" y1="263" x2="1028.3" y2="251" stroke="#222" stroke-width="0.9"/>
<line x1="1008.3" y1="263.9" x2="1029.1" y2="251.9" stroke="#222" stroke-width="0.9"/>
<line x1="1009.6" y1="265.5" x2="1030.4" y2="253.5" stroke="#222" stroke-width="0.9"/>
<line x1="1010.3" y1="266.4" x2="1031.1" y2="254.4" stroke="#222" stroke-width="0.9"/>
<path d="M1010.8 268.2 L1011.5 268.3 L1012 269.4 L1011.6 269.9 L1012.2 271.1 L1012.9 271.3 L1013.3 272.4 L1012.8 272.7 L1013.1 273.9 L1013.8 274.4 L1014 275.5 L1013.4 275.6 L1013.5 276.7 L1014.2 277.4 L1014.2 278.3 L1013.5 278.2 L1013.3 279.1 L1014 280 L1013.8 280.8 L1013 280.4 L1012.7 281.2 L1013.2 282.1 L1012.8 282.8 L1012.1 282.2 L1011.5 282.7 L1011.9 283.7 L1011.3 284.1 L1010.6 283.4 L1010 283.6 L1010.2 284.6 L1009.5 284.7 L1008.9 283.9 L1008.1 283.9 L1008.1 284.7 L1007.3 284.6 L1006.8 283.7 L1005.9 283.4 L1005.8 284.2 L1005 283.8 L1004.6 282.8 L1003.7 282.3 L1003.4 282.9 L1002.6 282.3 L1002.4 281.3 L1001.5 280.6 L1001.1 281 L1000.3 280.1 L1000.3 279.3 L999.5 278.3 L998.9 278.5 L998.2 277.6 L998.4 276.9 L997.8 275.8 L997.1 275.7 L996.5 274.6 L996.9 274.1 L996.4 272.9 L995.7 272.7 L995.3 271.6 L995.8 271.3 L995.5 270.1 L994.8 269.6 L994.6 268.5 L995.2 268.4 L995.1 267.3 L994.4 266.6 L994.4 265.7 L995.1 265.8 L995.2 264.9 L994.6 264 L994.8 263.2 L995.6 263.6 L995.9 262.8 L995.4 261.9 L995.8 261.2 L996.5 261.8 L997 261.3 L996.7 260.3 L997.2 259.9 L997.9 260.6 L998.6 260.4 L998.4 259.4 L999.1 259.3 L999.7 260.1 L1000.5 260.1 L1000.5 259.3 L1001.3 259.4 L1001.7 260.3 L1002.6 260.6 L1002.8 259.8 L1003.6 260.2 L1003.9 261.2 L1004.8 261.7 L1005.2 261.1 L1006 261.7 L1006.1 262.7 L1007 263.4 L1007.5 263 L1008.3 263.9 L1008.2 264.7 L1009 265.7 L1009.6 265.5 L1010.3 266.4 L1010.1 267.1Z" fill="#fff" stroke="#222" stroke-width="0.9"/>
<ellipse cx="1006" cy="271" rx="7.2" ry="12.5" transform="rotate(-30 1006 271)" fill="#fff" stroke="#222" stroke-width="1.0"/>
<path d="M989.4 266.2 L999.8 260.2 L1012.3 281.8 L1001.9 287.8Z" fill="#fff" stroke="none" stroke-width="0"/>
<line x1="989.4" y1="266.2" x2="999.8" y2="260.2" stroke="#222" stroke-width="1.0"/>
<line x1="1001.9" y1="287.8" x2="1012.3" y2="281.8" stroke="#222" stroke-width="1.0"/>
<ellipse cx="995.6" cy="277" rx="7.2" ry="12.5" transform="rotate(-30 995.6 277)" fill="#fff" stroke="#222" stroke-width="1.0"/>
<path d="M1001.9 273.4 L1002.6 273.5 L1003.1 274.6 L1002.8 275.1 L1003.3 276.3 L1004 276.7 L1004.4 277.8 L1003.9 278.1 L1004.2 279.3 L1004.9 279.9 L1005.1 280.9 L1004.4 281 L1004.5 282.1 L1005.2 282.9 L1005.1 283.8 L1004.4 283.6 L1004.2 284.6 L1004.8 285.5 L1004.5 286.2 L1003.7 285.8 L1003.3 286.6 L1003.7 287.5 L1003.2 288 L1002.5 287.4 L1001.9 287.9 L1002.2 288.8 L1001.5 289.1 L1000.9 288.3 L1000.1 288.4 L1000.1 289.3 L999.3 289.3 L998.8 288.4 L997.9 288.2 L997.8 289 L996.9 288.7 L996.6 287.7 L995.6 287.2 L995.3 287.8 L994.5 287.3 L994.3 286.3 L993.3 285.6 L992.9 286 L992 285.1 L992 284.3 L991.2 283.3 L990.6 283.5 L989.9 282.5 L990.1 281.8 L989.3 280.6 L988.7 280.5 L988.1 279.4 L988.5 278.9 L987.9 277.7 L987.2 277.3 L986.8 276.2 L987.3 275.9 L987 274.7 L986.3 274.1 L986.2 273.1 L986.8 273 L986.7 271.9 L986.1 271.1 L986.1 270.2 L986.9 270.4 L987 269.4 L986.5 268.5 L986.8 267.8 L987.5 268.2 L987.9 267.4 L987.5 266.5 L988 266 L988.7 266.6 L989.3 266.1 L989.1 265.2 L989.7 264.9 L990.4 265.7 L991.2 265.6 L991.1 264.7 L991.9 264.7 L992.4 265.6 L993.3 265.8 L993.4 265 L994.3 265.3 L994.7 266.3 L995.6 266.8 L995.9 266.2 L996.8 266.7 L997 267.7 L997.9 268.4 L998.4 268 L999.2 268.9 L999.2 269.7 L1000.1 270.7 L1000.6 270.5 L1001.4 271.5 L1001.2 272.2Z" fill="#fff" stroke="#111" stroke-width="1.6"/>
<path d="M984.1 269.1 L989.3 266.1 L1001.9 287.9 L996.7 290.9Z" fill="#fff" stroke="none" stroke-width="0"/>
<line x1="997.4" y1="276.5" x2="1002.6" y2="273.5" stroke="#111" stroke-width="1.0"/>
<line x1="997.9" y1="277.6" x2="1003.1" y2="274.6" stroke="#111" stroke-width="1.0"/>
<line x1="998.8" y1="279.7" x2="1004" y2="276.7" stroke="#111" stroke-width="1.0"/>
<line x1="999.2" y1="280.8" x2="1004.4" y2="277.8" stroke="#111" stroke-width="1.0"/>
<line x1="999.7" y1="282.9" x2="1004.9" y2="279.9" stroke="#111" stroke-width="1.0"/>
<line x1="999.9" y1="283.9" x2="1005.1" y2="280.9" stroke="#111" stroke-width="1.0"/>
<line x1="1000" y1="285.9" x2="1005.2" y2="282.9" stroke="#111" stroke-width="1.0"/>
<line x1="999.9" y1="286.8" x2="1005.1" y2="283.8" stroke="#111" stroke-width="1.0"/>
<line x1="999.6" y1="288.5" x2="1004.8" y2="285.5" stroke="#111" stroke-width="1.0"/>
<line x1="999.3" y1="289.2" x2="1004.5" y2="286.2" stroke="#111" stroke-width="1.0"/>
<line x1="998.5" y1="290.5" x2="1003.7" y2="287.5" stroke="#111" stroke-width="1.0"/>
<line x1="998" y1="291" x2="1003.2" y2="288" stroke="#111" stroke-width="1.0"/>
<line x1="997" y1="291.8" x2="1002.2" y2="288.8" stroke="#111" stroke-width="1.0"/>
<line x1="983.9" y1="268.2" x2="989.1" y2="265.2" stroke="#111" stroke-width="1.0"/>
<line x1="984.6" y1="267.9" x2="989.7" y2="264.9" stroke="#111" stroke-width="1.0"/>
<line x1="985.9" y1="267.7" x2="991.1" y2="264.7" stroke="#111" stroke-width="1.0"/>
<line x1="986.7" y1="267.7" x2="991.9" y2="264.7" stroke="#111" stroke-width="1.0"/>
<line x1="988.2" y1="268" x2="993.4" y2="265" stroke="#111" stroke-width="1.0"/>
<line x1="989.1" y1="268.3" x2="994.3" y2="265.3" stroke="#111" stroke-width="1.0"/>
<line x1="990.7" y1="269.2" x2="995.9" y2="266.2" stroke="#111" stroke-width="1.0"/>
<line x1="991.6" y1="269.7" x2="996.8" y2="266.7" stroke="#111" stroke-width="1.0"/>
<line x1="993.2" y1="271" x2="998.4" y2="268" stroke="#111" stroke-width="1.0"/>
<line x1="994" y1="271.9" x2="999.2" y2="268.9" stroke="#111" stroke-width="1.0"/>
<line x1="995.5" y1="273.5" x2="1000.6" y2="270.5" stroke="#111" stroke-width="1.0"/>
<line x1="996.2" y1="274.5" x2="1001.4" y2="271.5" stroke="#111" stroke-width="1.0"/>
<path d="M996.7 276.4 L997.4 276.5 L997.9 277.6 L997.6 278.1 L998.1 279.3 L998.8 279.7 L999.2 280.8 L998.7 281.1 L999 282.3 L999.7 282.9 L999.9 283.9 L999.2 284 L999.3 285.1 L1000 285.9 L999.9 286.8 L999.2 286.6 L999 287.6 L999.6 288.5 L999.3 289.2 L998.5 288.8 L998.1 289.6 L998.5 290.5 L998 291 L997.3 290.4 L996.7 290.9 L997 291.8 L996.3 292.1 L995.7 291.3 L994.9 291.4 L994.9 292.3 L994.1 292.3 L993.6 291.4 L992.7 291.2 L992.6 292 L991.7 291.7 L991.4 290.7 L990.4 290.2 L990.1 290.8 L989.3 290.3 L989.1 289.3 L988.1 288.6 L987.7 289 L986.8 288.1 L986.8 287.3 L986 286.3 L985.4 286.5 L984.7 285.5 L984.9 284.8 L984.2 283.6 L983.5 283.5 L982.9 282.4 L983.3 281.9 L982.7 280.7 L982 280.3 L981.6 279.2 L982.1 278.9 L981.9 277.7 L981.1 277.1 L981 276.1 L981.6 276 L981.5 274.9 L980.9 274.1 L981 273.2 L981.7 273.4 L981.9 272.4 L981.3 271.5 L981.6 270.8 L982.3 271.2 L982.7 270.4 L982.3 269.5 L982.8 269 L983.5 269.6 L984.1 269.1 L983.9 268.2 L984.6 267.9 L985.2 268.7 L986 268.6 L985.9 267.7 L986.7 267.7 L987.2 268.6 L988.1 268.8 L988.2 268 L989.1 268.3 L989.5 269.3 L990.4 269.8 L990.7 269.2 L991.6 269.7 L991.8 270.7 L992.7 271.4 L993.2 271 L994 271.9 L994 272.7 L994.9 273.7 L995.5 273.5 L996.2 274.5 L996 275.2Z" fill="#fff" stroke="#111" stroke-width="1.6"/>
<ellipse cx="990.4" cy="280" rx="7.5" ry="13" transform="rotate(-30 990.4 280)" fill="#fff" stroke="#222" stroke-width="1.0"/>
<path d="M968.3 277.7 L983.9 268.7 L996.9 291.3 L981.3 300.3Z" fill="#fff" stroke="none" stroke-width="0"/>
<line x1="968.3" y1="277.7" x2="983.9" y2="268.7" stroke="#222" stroke-width="1.0"/>
<line x1="981.3" y1="300.3" x2="996.9" y2="291.3" stroke="#222" stroke-width="1.0"/>
<ellipse cx="974.8" cy="289" rx="7.5" ry="13" transform="rotate(-30 974.8 289)" fill="#fff" stroke="#222" stroke-width="1.0"/>
<path d="M981.6 285.1 L982.3 285.2 L982.9 286.3 L982.5 286.8 L983 288 L983.8 288.3 L984.2 289.4 L983.6 289.8 L983.9 291 L984.7 291.5 L984.9 292.6 L984.2 292.7 L984.4 293.8 L985.1 294.5 L985.1 295.5 L984.3 295.4 L984.2 296.4 L984.9 297.3 L984.6 298.1 L983.9 297.7 L983.5 298.5 L984.1 299.5 L983.6 300.1 L982.9 299.5 L982.3 300.1 L982.7 301.1 L982.1 301.5 L981.4 300.8 L980.7 301.1 L980.9 302 L980.2 302.2 L979.6 301.3 L978.8 301.3 L978.8 302.2 L978 302.1 L977.5 301.1 L976.6 300.8 L976.4 301.6 L975.5 301.2 L975.2 300.2 L974.3 299.7 L973.9 300.3 L973.1 299.6 L972.9 298.7 L972 297.9 L971.5 298.3 L970.7 297.4 L970.7 296.6 L969.9 295.6 L969.3 295.7 L968.6 294.8 L968.8 294 L968.1 292.9 L967.4 292.8 L966.8 291.7 L967.2 291.2 L966.7 290 L965.9 289.7 L965.5 288.6 L966.1 288.2 L965.7 287 L965 286.5 L964.8 285.4 L965.4 285.3 L965.3 284.2 L964.6 283.5 L964.6 282.5 L965.3 282.6 L965.5 281.6 L964.8 280.7 L965 279.9 L965.8 280.3 L966.1 279.5 L965.6 278.5 L966 277.9 L966.8 278.5 L967.3 277.9 L967 276.9 L967.5 276.5 L968.2 277.2 L969 276.9 L968.7 276 L969.5 275.8 L970.1 276.7 L970.9 276.7 L970.9 275.8 L971.7 275.9 L972.2 276.9 L973.1 277.2 L973.3 276.4 L974.1 276.8 L974.5 277.8 L975.4 278.3 L975.7 277.7 L976.6 278.4 L976.8 279.3 L977.7 280.1 L978.2 279.7 L979 280.6 L978.9 281.4 L979.8 282.4 L980.4 282.3 L981.1 283.2 L980.9 284Z" fill="#fff" stroke="#111" stroke-width="1.6"/>
<path d="M961.2 281.3 L968.1 277.3 L981.6 300.7 L974.7 304.7Z" fill="#fff" stroke="none" stroke-width="0"/>
<line x1="975.4" y1="289.2" x2="982.3" y2="285.2" stroke="#111" stroke-width="1.0"/>
<line x1="975.9" y1="290.3" x2="982.9" y2="286.3" stroke="#111" stroke-width="1.0"/>
<line x1="976.8" y1="292.3" x2="983.8" y2="288.3" stroke="#111" stroke-width="1.0"/>
<line x1="977.2" y1="293.4" x2="984.2" y2="289.4" stroke="#111" stroke-width="1.0"/>
<line x1="977.8" y1="295.5" x2="984.7" y2="291.5" stroke="#111" stroke-width="1.0"/>
<line x1="978" y1="296.6" x2="984.9" y2="292.6" stroke="#111" stroke-width="1.0"/>
<line x1="978.2" y1="298.5" x2="985.1" y2="294.5" stroke="#111" stroke-width="1.0"/>
<line x1="978.1" y1="299.5" x2="985.1" y2="295.5" stroke="#111" stroke-width="1.0"/>
<line x1="977.9" y1="301.3" x2="984.9" y2="297.3" stroke="#111" stroke-width="1.0"/>
<line x1="977.7" y1="302.1" x2="984.6" y2="298.1" stroke="#111" stroke-width="1.0"/>
<line x1="977.1" y1="303.5" x2="984.1" y2="299.5" stroke="#111" stroke-width="1.0"/>
<line x1="976.7" y1="304.1" x2="983.6" y2="300.1" stroke="#111" stroke-width="1.0"/>
<line x1="975.8" y1="305.1" x2="982.7" y2="301.1" stroke="#111" stroke-width="1.0"/>
<line x1="975.2" y1="305.5" x2="982.1" y2="301.5" stroke="#111" stroke-width="1.0"/>
<line x1="960.6" y1="280.5" x2="967.5" y2="276.5" stroke="#111" stroke-width="1.0"/>
<line x1="961.8" y1="280" x2="968.7" y2="276" stroke="#111" stroke-width="1.0"/>
<line x1="962.5" y1="279.8" x2="969.5" y2="275.8" stroke="#111" stroke-width="1.0"/>
<line x1="964" y1="279.8" x2="970.9" y2="275.8" stroke="#111" stroke-width="1.0"/>
<line x1="964.8" y1="279.9" x2="971.7" y2="275.9" stroke="#111" stroke-width="1.0"/>
<line x1="966.4" y1="280.4" x2="973.3" y2="276.4" stroke="#111" stroke-width="1.0"/>
<line x1="967.2" y1="280.8" x2="974.1" y2="276.8" stroke="#111" stroke-width="1.0"/>
<line x1="968.8" y1="281.7" x2="975.7" y2="277.7" stroke="#111" stroke-width="1.0"/>
<line x1="969.7" y1="282.4" x2="976.6" y2="278.4" stroke="#111" stroke-width="1.0"/>
<line x1="971.2" y1="283.7" x2="978.2" y2="279.7" stroke="#111" stroke-width="1.0"/>
<line x1="972" y1="284.6" x2="979" y2="280.6" stroke="#111" stroke-width="1.0"/>
<line x1="973.5" y1="286.3" x2="980.4" y2="282.3" stroke="#111" stroke-width="1.0"/>
<line x1="974.2" y1="287.2" x2="981.1" y2="283.2" stroke="#111" stroke-width="1.0"/>
<path d="M974.6 289.1 L975.4 289.2 L975.9 290.3 L975.5 290.8 L976.1 292 L976.8 292.3 L977.2 293.4 L976.7 293.8 L977 295 L977.8 295.5 L978 296.6 L977.3 296.7 L977.4 297.8 L978.2 298.5 L978.1 299.5 L977.4 299.4 L977.3 300.4 L977.9 301.3 L977.7 302.1 L976.9 301.7 L976.6 302.5 L977.1 303.5 L976.7 304.1 L976 303.5 L975.4 304.1 L975.8 305.1 L975.2 305.5 L974.5 304.8 L973.8 305.1 L974 306 L973.3 306.2 L972.7 305.3 L971.8 305.3 L971.8 306.2 L971 306.1 L970.5 305.1 L969.6 304.8 L969.5 305.6 L968.6 305.2 L968.3 304.2 L967.3 303.7 L967 304.3 L966.1 303.6 L966 302.7 L965.1 301.9 L964.6 302.3 L963.8 301.4 L963.8 300.6 L963 299.6 L962.4 299.7 L961.6 298.8 L961.9 298 L961.2 296.9 L960.5 296.8 L959.9 295.7 L960.3 295.2 L959.8 294 L959 293.7 L958.6 292.6 L959.1 292.2 L958.8 291 L958 290.5 L957.8 289.4 L958.5 289.3 L958.4 288.2 L957.7 287.5 L957.7 286.5 L958.4 286.6 L958.5 285.6 L957.9 284.7 L958.1 283.9 L958.9 284.3 L959.2 283.5 L958.7 282.5 L959.1 281.9 L959.9 282.5 L960.4 281.9 L960 280.9 L960.6 280.5 L961.3 281.2 L962 280.9 L961.8 280 L962.5 279.8 L963.2 280.7 L964 280.7 L964 279.8 L964.8 279.9 L965.3 280.9 L966.2 281.2 L966.4 280.4 L967.2 280.8 L967.5 281.8 L968.5 282.3 L968.8 281.7 L969.7 282.4 L969.8 283.3 L970.7 284.1 L971.2 283.7 L972 284.6 L972 285.4 L972.8 286.4 L973.5 286.3 L974.2 287.2 L973.9 288Z" fill="#fff" stroke="#111" stroke-width="1.6"/>
<ellipse cx="967.9" cy="293" rx="6.3" ry="11" transform="rotate(-30 967.9 293)" fill="#fff" stroke="#222" stroke-width="1.0"/>
<path d="M936.4 298.5 L962.4 283.5 L973.4 302.5 L947.4 317.5Z" fill="#fff" stroke="none" stroke-width="0"/>
<line x1="936.4" y1="298.5" x2="962.4" y2="283.5" stroke="#222" stroke-width="1.0"/>
<line x1="947.4" y1="317.5" x2="973.4" y2="302.5" stroke="#222" stroke-width="1.0"/>
<ellipse cx="941.9" cy="308" rx="6.3" ry="11" transform="rotate(-30 941.9 308)" fill="#fff" stroke="#222" stroke-width="1.0"/>
<ellipse cx="941.9" cy="308" rx="4.9" ry="8.5" transform="rotate(-30 941.9 308)" fill="#fff" stroke="#222" stroke-width="1.0"/>
<path d="M930.8 304.6 L937.7 300.6 L946.2 315.4 L939.2 319.4Z" fill="#fff" stroke="none" stroke-width="0"/>
<line x1="930.8" y1="304.6" x2="937.7" y2="300.6" stroke="#222" stroke-width="1.0"/>
<line x1="939.2" y1="319.4" x2="946.2" y2="315.4" stroke="#222" stroke-width="1.0"/>
<ellipse cx="935" cy="312" rx="4.9" ry="8.5" transform="rotate(-30 935 312)" fill="#fff" stroke="#222" stroke-width="1.0"/>
<ellipse cx="935" cy="312" rx="2.9" ry="5" transform="rotate(-30 935 312)" fill="none" stroke="#222" stroke-width="0.9"/>
<ellipse cx="1198.3" cy="173.7" rx="5.5" ry="9.5" transform="rotate(-30 1198.3 173.7)" fill="#fff" stroke="#222" stroke-width="1.0"/>
<path d="M1182 172.2 L1193.6 165.5 L1203.1 181.9 L1191.5 188.6Z" fill="#fff" stroke="none" stroke-width="0"/>
<line x1="1182" y1="172.2" x2="1193.6" y2="165.5" stroke="#222" stroke-width="1.0"/>
<line x1="1191.5" y1="188.6" x2="1203.1" y2="181.9" stroke="#222" stroke-width="1.0"/>
<ellipse cx="1186.7" cy="180.4" rx="5.5" ry="9.5" transform="rotate(-30 1186.7 180.4)" fill="#fff" stroke="#222" stroke-width="1.0"/>
<ellipse cx="1186.7" cy="180.4" rx="4.3" ry="7.5" transform="rotate(-30 1186.7 180.4)" fill="none" stroke="#222" stroke-width="1.6"/>
<ellipse cx="1186.7" cy="180.4" rx="3.2" ry="5.5" transform="rotate(-30 1186.7 180.4)" fill="none" stroke="#444" stroke-width="1.2"/>
<ellipse cx="1219.7" cy="190.8" rx="6.1" ry="10.6" transform="rotate(-30 1219.7 190.8)" fill="#fff" stroke="#222" stroke-width="1.4"/>
<path d="M1211.8 183.1 L1214.4 181.6 L1225 200 L1222.4 201.5Z" fill="#fff" stroke="none" stroke-width="0"/>
<line x1="1211.8" y1="183.1" x2="1214.4" y2="181.6" stroke="#222" stroke-width="1.4"/>
<line x1="1222.4" y1="201.5" x2="1225" y2="200" stroke="#222" stroke-width="1.4"/>
<ellipse cx="1217.1" cy="192.3" rx="6.1" ry="10.6" transform="rotate(-30 1217.1 192.3)" fill="#fff" stroke="#222" stroke-width="1.4"/>
<ellipse cx="1217.1" cy="192.3" rx="4.3" ry="7.4" transform="rotate(-30 1217.1 192.3)" fill="none" stroke="#222" stroke-width="1.3"/>
<ellipse cx="1201" cy="201.3" rx="4.8" ry="8.4" transform="rotate(-30 1201 201.3)" fill="#fff" stroke="#333" stroke-width="1.0"/>
<path d="M1188.7 198.7 L1196.8 194 L1205.2 208.6 L1197.1 213.3Z" fill="#fff" stroke="none" stroke-width="0"/>
<line x1="1188.7" y1="198.7" x2="1196.8" y2="194" stroke="#333" stroke-width="1.0"/>
<line x1="1197.1" y1="213.3" x2="1205.2" y2="208.6" stroke="#333" stroke-width="1.0"/>
<ellipse cx="1192.9" cy="206" rx="4.8" ry="8.4" transform="rotate(-30 1192.9 206)" fill="#fff" stroke="#333" stroke-width="1.0"/>
<ellipse cx="1192.9" cy="206" rx="2.9" ry="5" transform="rotate(-30 1192.9 206)" fill="none" stroke="#333" stroke-width="0.8"/>
<path d="M899.8 345.4 L902.9 346.2 L903.6 348.7 L900.8 348.7 L901.2 350.9 L904.4 352.5 L904.8 355 L901.7 354.1 L901.8 356.1 L904.9 358.5 L904.8 360.7 L901.6 359.1 L901.4 360.9 L904.4 363.9 L903.9 365.8 L900.7 363.4 L900.1 364.9 L902.8 368.4 L902 370 L899 366.9 L898 368 L900.3 371.9 L899.1 373 L896.4 369.4 L895.2 370.1 L897 374.3 L895.5 374.8 L893.2 370.9 L891.8 371.1 L893 375.3 L891.2 375.3 L889.5 371.2 L887.9 371 L888.4 375 L886.5 374.5 L885.4 370.3 L883.7 369.7 L883.6 373.3 L881.6 372.3 L881.1 368.4 L879.4 367.3 L878.6 370.4 L876.6 368.9 L876.8 365.3 L875.2 363.9 L873.8 366.4 L871.9 364.5 L872.7 361.4 L871.2 359.6 L869.2 361.4 L867.6 359.2 L869 356.8 L867.7 354.8 L865.2 355.7 L863.8 353.3 L865.8 351.6 L864.7 349.4 L861.9 349.5 L860.8 347 L863.3 346.1 L862.5 343.9 L859.4 343.1 L858.7 340.6 L861.6 340.6 L861.1 338.4 L857.9 336.8 L857.6 334.3 L860.7 335.2 L860.6 333.2 L857.4 330.8 L857.5 328.6 L860.7 330.2 L861 328.4 L858 325.4 L858.5 323.5 L861.6 325.9 L862.3 324.4 L859.5 320.9 L860.4 319.3 L863.4 322.4 L864.3 321.3 L862 317.4 L863.3 316.3 L866 319.9 L867.2 319.2 L865.4 315 L866.9 314.5 L869.2 318.4 L870.6 318.2 L869.4 314 L871.2 314 L872.9 318.1 L874.5 318.3 L873.9 314.3 L875.9 314.8 L877 319 L878.7 319.6 L878.8 316 L880.8 317 L881.3 320.9 L883 322 L883.8 318.9 L885.7 320.4 L885.5 324 L887.2 325.4 L888.6 322.9 L890.5 324.8 L889.6 327.9 L891.2 329.7 L893.1 327.9 L894.8 330.1 L893.3 332.5 L894.7 334.5 L897.2 333.6 L898.6 336 L896.5 337.7 L897.6 339.9 L900.5 339.8 L901.6 342.3 L899 343.2Z" fill="#fff" stroke="#222" stroke-width="1.1"/>
<path d="M856.9 325.1 L866.6 319.4 L895.7 369.9 L885.9 375.5Z" fill="#fff" stroke="none" stroke-width="0"/>
<line x1="889.2" y1="342.5" x2="903.3" y2="347.4" stroke="#333" stroke-width="0.8"/>
<line x1="892.1" y1="348.8" x2="904.6" y2="353.7" stroke="#333" stroke-width="0.8"/>
<line x1="894.1" y1="355.2" x2="904.9" y2="359.6" stroke="#333" stroke-width="0.8"/>
<line x1="895" y1="361.4" x2="904.2" y2="364.9" stroke="#333" stroke-width="0.8"/>
<line x1="895" y1="367.1" x2="902.4" y2="369.2" stroke="#333" stroke-width="0.8"/>
<line x1="893.9" y1="372.1" x2="899.7" y2="372.5" stroke="#333" stroke-width="0.8"/>
<line x1="891.8" y1="376.1" x2="896.3" y2="374.6" stroke="#333" stroke-width="0.8"/>
<line x1="888.9" y1="379" x2="892.1" y2="375.3" stroke="#333" stroke-width="0.8"/>
<line x1="853.9" y1="321.6" x2="870.3" y2="314" stroke="#333" stroke-width="0.8"/>
<line x1="857.6" y1="320" x2="874.9" y2="314.6" stroke="#333" stroke-width="0.8"/>
<line x1="862" y1="319.7" x2="879.8" y2="316.5" stroke="#333" stroke-width="0.8"/>
<line x1="866.7" y1="320.7" x2="884.8" y2="319.6" stroke="#333" stroke-width="0.8"/>
<line x1="871.6" y1="323" x2="889.6" y2="323.8" stroke="#333" stroke-width="0.8"/>
<line x1="876.6" y1="326.5" x2="894" y2="329" stroke="#333" stroke-width="0.8"/>
<line x1="881.3" y1="331.1" x2="897.9" y2="334.8" stroke="#333" stroke-width="0.8"/>
<line x1="885.6" y1="336.5" x2="901" y2="341" stroke="#333" stroke-width="0.8"/>
<path d="M885.9 341.9 L888.5 341.2 L889.9 343.7 L887.7 345.1 L888.6 347.3 L891.6 347.5 L892.6 350.1 L889.9 350.7 L890.6 352.9 L893.7 353.9 L894.3 356.5 L891.4 356.2 L891.7 358.3 L894.9 360.2 L895.1 362.6 L892 361.4 L891.9 363.4 L895.1 366 L894.9 368.1 L891.6 366.2 L891.3 367.9 L894.2 371.1 L893.6 372.9 L890.4 370.3 L889.7 371.7 L892.3 375.4 L891.3 376.7 L888.4 373.5 L887.4 374.5 L889.5 378.5 L888.2 379.4 L885.6 375.7 L884.4 376.2 L886 380.4 L884.3 380.8 L882.2 376.8 L880.7 376.9 L881.7 381 L879.9 380.8 L878.4 376.7 L876.7 376.3 L877.1 380.2 L875.1 379.5 L874.2 375.4 L872.5 374.6 L872.2 378.1 L870.2 377 L869.9 373.1 L868.2 371.9 L867.2 374.9 L865.3 373.2 L865.7 369.8 L864 368.2 L862.4 370.5 L860.6 368.5 L861.7 365.6 L860.2 363.8 L858.1 365.3 L856.5 363 L858.1 360.8 L856.9 358.7 L854.3 359.4 L852.9 356.9 L855.1 355.5 L854.2 353.3 L851.2 353.1 L850.2 350.5 L852.9 349.9 L852.2 347.7 L849.1 346.7 L848.5 344.1 L851.4 344.4 L851.1 342.3 L847.9 340.4 L847.7 338 L850.8 339.2 L850.9 337.2 L847.7 334.6 L847.9 332.5 L851.2 334.4 L851.5 332.7 L848.6 329.5 L849.2 327.7 L852.4 330.3 L853.1 328.9 L850.5 325.2 L851.5 323.9 L854.4 327.1 L855.4 326.1 L853.3 322.1 L854.6 321.2 L857.2 324.9 L858.4 324.4 L856.8 320.2 L858.5 319.8 L860.6 323.8 L862.1 323.7 L861.1 319.6 L862.9 319.8 L864.4 323.9 L866.1 324.3 L865.7 320.4 L867.7 321.1 L868.6 325.2 L870.3 326 L870.6 322.5 L872.6 323.6 L872.9 327.5 L874.6 328.7 L875.6 325.7 L877.5 327.4 L877.1 330.8 L878.8 332.4 L880.4 330.1 L882.2 332.1 L881.1 335 L882.6 336.8 L884.7 335.3 L886.3 337.6 L884.7 339.8Z" fill="#fff" stroke="#222" stroke-width="1.1"/>
<ellipse cx="871.4" cy="350.3" rx="14.3" ry="24.9" transform="rotate(-30 871.4 350.3)" fill="none" stroke="#222" stroke-width="0.935"/>
<ellipse cx="871.4" cy="350.3" rx="8.9" ry="15.5" transform="rotate(-30 871.4 350.3)" fill="none" stroke="#222" stroke-width="0.935"/>
<clipPath id="gb12"><ellipse cx="871.4" cy="350.3" rx="8.9" ry="15.5" transform="rotate(-30 871.4 350.3)" fill="#000" stroke="none" stroke-width="0"/></clipPath>
<g clip-path="url(#gb12)"><ellipse cx="883.1" cy="343.5" rx="8.9" ry="15.5" transform="rotate(-30 883.1 343.5)" fill="none" stroke="#222" stroke-width="0.8"/><line x1="873.1" y1="363.7" x2="884.8" y2="357" stroke="#222" stroke-width="0.6"/><line x1="868.8" y1="361" x2="880.5" y2="354.2" stroke="#222" stroke-width="0.6"/><line x1="864.8" y1="356.6" x2="876.6" y2="349.8" stroke="#222" stroke-width="0.6"/><line x1="862" y1="351.2" x2="873.7" y2="344.4" stroke="#222" stroke-width="0.6"/><line x1="860.6" y1="345.6" x2="872.3" y2="338.9" stroke="#222" stroke-width="0.6"/><line x1="860.9" y1="340.8" x2="872.6" y2="334" stroke="#222" stroke-width="0.6"/></g>
<path d="M880.8 340.2 L882.6 343 L884.2 345.9 L885.5 348.9 L886.5 352 L887.3 355 L887.7 357.9 L887.7 360.6 L887.5 363.1 L883 359.6 L883.2 357.7 L883.1 355.8 L882.9 353.7 L882.3 351.5 L881.6 349.3 L880.6 347.1 L879.5 345 L878.2 343Z" fill="none" stroke="#222" stroke-width="0.8800000000000001"/>
<path d="M878.3 371.4 L876.1 371.1 L873.8 370.4 L871.5 369.2 L869.2 367.7 L866.9 365.8 L864.6 363.6 L862.6 361.1 L860.7 358.4 L863.7 356.1 L865 358.1 L866.5 359.9 L868.1 361.5 L869.8 362.9 L871.5 364 L873.2 364.8 L874.8 365.3 L876.4 365.5Z" fill="none" stroke="#222" stroke-width="0.8800000000000001"/>
<path d="M855.1 339.3 L855.5 336.8 L856.2 334.6 L857.2 332.8 L858.5 331.2 L860.1 330.1 L861.9 329.5 L863.9 329.2 L866.1 329.4 L867.5 335.2 L866 335.1 L864.5 335.3 L863.2 335.7 L862.1 336.5 L861.1 337.6 L860.4 339 L859.9 340.6 L859.6 342.3Z" fill="none" stroke="#222" stroke-width="0.8800000000000001"/>
<ellipse cx="836.2" cy="370.4" rx="10" ry="17.4" transform="rotate(-30 836.2 370.4)" fill="#fff" stroke="#111" stroke-width="1.5"/>
<path d="M818.6 360.4 L827.5 355.3 L844.9 385.4 L836 390.6Z" fill="#fff" stroke="none" stroke-width="0"/>
<path d="M818.6 360.4 L819.6 360 L820.6 359.7 L821.7 359.6 L822.9 359.7 L824.1 359.9 L825.4 360.4 L826.7 360.9 L827.9 361.7 L829.2 362.6 L830.5 363.6 L831.7 364.8 L832.9 366.1 L834 367.5 L835 368.9 L836 370.5 L836.9 372.1 L837.6 373.7 L838.3 375.4 L838.8 377 L839.2 378.7 L839.4 380.3 L839.6 381.9 L839.6 383.3 L839.4 384.7 L839.2 386 L838.8 387.2 L838.3 388.3 L837.6 389.2 L836.9 390 L836 390.6 L844.9 385.4 L845.8 384.8 L846.5 384 L847.2 383.1 L847.7 382.1 L848.1 380.9 L848.4 379.6 L848.5 378.2 L848.5 376.7 L848.4 375.1 L848.1 373.5 L847.7 371.9 L847.2 370.2 L846.5 368.6 L845.8 366.9 L844.9 365.3 L844 363.8 L842.9 362.3 L841.8 360.9 L840.6 359.6 L839.4 358.5 L838.1 357.4 L836.9 356.5 L835.6 355.8 L834.3 355.2 L833 354.8 L831.8 354.5 L830.6 354.5 L829.5 354.6 L828.5 354.8 L827.5 355.3Z" fill="#b8b8b8" stroke="none" stroke-width="0"/>
<line x1="836.8" y1="372" x2="845.7" y2="366.9" stroke="#111" stroke-width="1.4"/>
<line x1="838.8" y1="377" x2="847.7" y2="371.8" stroke="#111" stroke-width="1.4"/>
<line x1="839.6" y1="381.8" x2="848.5" y2="376.6" stroke="#111" stroke-width="1.4"/>
<line x1="839.2" y1="386" x2="848.1" y2="380.8" stroke="#111" stroke-width="1.4"/>
<line x1="837.6" y1="389.2" x2="846.6" y2="384" stroke="#111" stroke-width="1.4"/>
<line x1="819.5" y1="360" x2="828.4" y2="354.9" stroke="#111" stroke-width="1.4"/>
<line x1="822.8" y1="359.7" x2="831.8" y2="354.5" stroke="#111" stroke-width="1.4"/>
<line x1="826.6" y1="360.9" x2="835.5" y2="355.8" stroke="#111" stroke-width="1.4"/>
<line x1="830.4" y1="363.6" x2="839.3" y2="358.4" stroke="#111" stroke-width="1.4"/>
<line x1="833.9" y1="367.4" x2="842.9" y2="362.2" stroke="#111" stroke-width="1.4"/>
<path d="M823.1 357.9 L824 357.4 L825.1 357.1 L826.2 357 L827.4 357.1 L828.6 357.4 L829.8 357.8 L831.1 358.4 L832.4 359.1 L833.7 360 L834.9 361 L836.2 362.2 L837.3 363.5 L838.5 364.9 L839.5 366.4 L840.5 367.9 L841.3 369.5 L842.1 371.1 L842.7 372.8 L843.2 374.5 L843.6 376.1 L843.9 377.7 L844 379.3 L844 380.8 L843.9 382.2 L843.6 383.5 L843.2 384.6 L842.7 385.7 L842.1 386.6 L841.3 387.4 L840.5 388" fill="none" stroke="#111" stroke-width="1.1"/>
<line x1="818.6" y1="360.4" x2="827.5" y2="355.3" stroke="#111" stroke-width="1.5"/>
<line x1="836" y1="390.6" x2="844.9" y2="385.4" stroke="#111" stroke-width="1.5"/>
<ellipse cx="827.3" cy="375.5" rx="10" ry="17.4" transform="rotate(-30 827.3 375.5)" fill="#c8c8c8" stroke="#111" stroke-width="1.4"/>
<ellipse cx="827.3" cy="375.5" rx="7.8" ry="13.6" transform="rotate(-30 827.3 375.5)" fill="#d8d8d8" stroke="#111" stroke-width="1.0"/>
<line x1="834.1" y1="371.6" x2="835.8" y2="370.6" stroke="#111" stroke-width="1.3"/>
<line x1="836" y1="375.8" x2="838.2" y2="375.9" stroke="#111" stroke-width="1.3"/>
<line x1="836.9" y1="380.1" x2="839.3" y2="381.2" stroke="#111" stroke-width="1.3"/>
<line x1="836.6" y1="383.7" x2="838.9" y2="385.8" stroke="#111" stroke-width="1.3"/>
<line x1="835.2" y1="386.4" x2="837.2" y2="389.2" stroke="#111" stroke-width="1.3"/>
<line x1="832.8" y1="387.8" x2="834.2" y2="390.9" stroke="#111" stroke-width="1.3"/>
<line x1="829.8" y1="387.6" x2="830.4" y2="390.7" stroke="#111" stroke-width="1.3"/>
<line x1="826.5" y1="386.1" x2="826.3" y2="388.8" stroke="#111" stroke-width="1.3"/>
<line x1="823.2" y1="383.2" x2="822.2" y2="385.2" stroke="#111" stroke-width="1.3"/>
<line x1="820.5" y1="379.4" x2="818.8" y2="380.4" stroke="#111" stroke-width="1.3"/>
<line x1="818.6" y1="375.2" x2="816.4" y2="375.1" stroke="#111" stroke-width="1.3"/>
<line x1="817.7" y1="370.9" x2="815.3" y2="369.8" stroke="#111" stroke-width="1.3"/>
<line x1="818" y1="367.3" x2="815.7" y2="365.2" stroke="#111" stroke-width="1.3"/>
<line x1="819.4" y1="364.6" x2="817.4" y2="361.8" stroke="#111" stroke-width="1.3"/>
<line x1="821.8" y1="363.2" x2="820.4" y2="360.1" stroke="#111" stroke-width="1.3"/>
<line x1="824.8" y1="363.4" x2="824.2" y2="360.3" stroke="#111" stroke-width="1.3"/>
<line x1="828.1" y1="364.9" x2="828.3" y2="362.2" stroke="#111" stroke-width="1.3"/>
<line x1="831.4" y1="367.8" x2="832.4" y2="365.8" stroke="#111" stroke-width="1.3"/>
<clipPath id="cc13"><ellipse cx="827.3" cy="375.5" rx="7.8" ry="13.6" transform="rotate(-30 827.3 375.5)" fill="#000" stroke="none" stroke-width="0"/></clipPath>
<g clip-path="url(#cc13)"><line x1="834.1" y1="371.6" x2="843" y2="366.4" stroke="#111" stroke-width="1.2"/><line x1="836.2" y1="376.4" x2="845.1" y2="371.2" stroke="#111" stroke-width="1.2"/><line x1="836.9" y1="381" x2="845.8" y2="375.9" stroke="#111" stroke-width="1.2"/><line x1="836.2" y1="384.9" x2="845.1" y2="379.7" stroke="#111" stroke-width="1.2"/><line x1="834.1" y1="387.3" x2="843" y2="382.1" stroke="#111" stroke-width="1.2"/><line x1="831" y1="387.9" x2="839.9" y2="382.7" stroke="#111" stroke-width="1.2"/><line x1="827.3" y1="386.6" x2="836.2" y2="381.4" stroke="#111" stroke-width="1.2"/><line x1="823.6" y1="383.6" x2="832.6" y2="378.5" stroke="#111" stroke-width="1.2"/><line x1="820.5" y1="379.4" x2="829.4" y2="374.3" stroke="#111" stroke-width="1.2"/><line x1="818.4" y1="374.6" x2="827.4" y2="369.5" stroke="#111" stroke-width="1.2"/><line x1="817.7" y1="370" x2="826.6" y2="364.8" stroke="#111" stroke-width="1.2"/><line x1="818.4" y1="366.1" x2="827.4" y2="361" stroke="#111" stroke-width="1.2"/><line x1="820.5" y1="363.7" x2="829.4" y2="358.6" stroke="#111" stroke-width="1.2"/><line x1="823.6" y1="363.1" x2="832.5" y2="358" stroke="#111" stroke-width="1.2"/><line x1="827.3" y1="364.4" x2="836.2" y2="359.3" stroke="#111" stroke-width="1.2"/><line x1="831" y1="367.4" x2="839.9" y2="362.2" stroke="#111" stroke-width="1.2"/></g>
<ellipse cx="790.1" cy="397.1" rx="19.2" ry="33.2" transform="rotate(-30 790.1 397.1)" fill="#fff" stroke="#222" stroke-width="1.0"/>
<path d="M767.2 371.9 L773.5 368.3 L806.7 425.8 L800.4 429.5Z" fill="#fff" stroke="none" stroke-width="0"/>
<line x1="767.2" y1="371.9" x2="773.5" y2="368.3" stroke="#222" stroke-width="1.0"/>
<line x1="800.4" y1="429.5" x2="806.7" y2="425.8" stroke="#222" stroke-width="1.0"/>
<ellipse cx="783.8" cy="400.7" rx="19.2" ry="33.2" transform="rotate(-30 783.8 400.7)" fill="#fff" stroke="#222" stroke-width="1.0"/>
<ellipse cx="783.8" cy="400.7" rx="17.6" ry="30.5" transform="rotate(-30 783.8 400.7)" fill="none" stroke="#222" stroke-width="0.9"/>
<ellipse cx="783.8" cy="400.7" rx="16.5" ry="28.6" transform="rotate(-30 783.8 400.7)" fill="none" stroke="#222" stroke-width="0.8"/>
<path d="M792.1 395.9 L794.2 395.8 L795.1 397.4 L793.5 398.7 L794.3 400.6 L796.6 401.4 L797.1 403.1 L795.1 403.4 L795.4 405.3 L797.8 407 L797.9 408.6 L795.5 407.9 L795.4 409.5 L797.6 412 L797.3 413.3 L794.8 411.7 L794.3 412.9 L796 415.8 L795.3 416.7 L793.1 414.4 L792.1 415.1 L793.3 418.2 L792.3 418.6 L790.4 415.7 L789.1 415.9 L789.6 418.9 L788.4 418.7 L787.1 415.6 L785.6 415.1 L785.3 417.8 L784 417.1 L783.4 414 L782 413 L780.9 415 L779.7 413.9 L779.8 411.2 L778.5 409.7 L776.8 410.8 L775.7 409.3 L776.6 407.3 L775.5 405.5 L773.4 405.6 L772.5 404 L774.1 402.7 L773.3 400.8 L771 400 L770.5 398.3 L772.5 398 L772.2 396.1 L769.8 394.4 L769.7 392.8 L772.1 393.5 L772.2 391.9 L770 389.4 L770.3 388.1 L772.8 389.7 L773.3 388.5 L771.6 385.6 L772.3 384.7 L774.5 387 L775.5 386.3 L774.3 383.2 L775.3 382.8 L777.2 385.7 L778.5 385.5 L778 382.5 L779.2 382.7 L780.5 385.8 L782 386.3 L782.3 383.6 L783.6 384.3 L784.2 387.4 L785.6 388.4 L786.7 386.4 L787.9 387.5 L787.8 390.2 L789.1 391.7 L790.8 390.6 L791.9 392.1 L791 394.1Z" fill="none" stroke="#111" stroke-width="1.5"/>
<path d="M798.4 394.8 L799.7 397.3 L800.7 399.9 L801.6 402.5 L802.3 405.1 L802.7 407.6 L803 410.1 L803 412.5 L802.9 414.7 L799.1 412 L799.3 410.2 L799.2 408.3 L799 406.3 L798.7 404.3 L798.1 402.2 L797.4 400.1 L796.6 398 L795.6 395.9Z" fill="none" stroke="#222" stroke-width="1.0"/>
<path d="M796.3 424.8 L794.7 425.3 L793 425.5 L791.1 425.5 L789.2 425.2 L787.3 424.6 L785.3 423.7 L783.2 422.6 L781.2 421.2 L781.7 417.2 L783.3 418.3 L785 419.2 L786.6 419.9 L788.2 420.4 L789.7 420.6 L791.2 420.7 L792.6 420.5 L793.8 420.1Z" fill="none" stroke="#222" stroke-width="1.0"/>
<path d="M769.2 406.6 L767.9 404.1 L766.9 401.5 L766 398.9 L765.3 396.3 L764.9 393.8 L764.6 391.3 L764.6 388.9 L764.7 386.7 L768.5 389.4 L768.3 391.2 L768.4 393.1 L768.6 395.1 L768.9 397.1 L769.5 399.2 L770.2 401.3 L771 403.4 L772 405.5Z" fill="none" stroke="#222" stroke-width="1.0"/>
<path d="M771.3 376.6 L772.9 376.1 L774.6 375.9 L776.5 375.9 L778.4 376.2 L780.3 376.8 L782.3 377.7 L784.4 378.8 L786.4 380.2 L785.9 384.2 L784.3 383.1 L782.6 382.2 L781 381.5 L779.4 381 L777.9 380.8 L776.4 380.7 L775 380.9 L773.8 381.3Z" fill="none" stroke="#222" stroke-width="1.0"/>
<path d="M754 418 L754.8 418.1 L755.5 419.3 L755 419.9 L755.6 421.3 L756.5 421.6 L757 422.8 L756.3 423.2 L756.7 424.6 L757.7 425.1 L758 426.4 L757.2 426.5 L757.4 427.8 L758.4 428.6 L758.5 429.8 L757.5 429.7 L757.5 430.9 L758.4 431.8 L758.3 432.9 L757.4 432.5 L757.1 433.6 L757.9 434.7 L757.6 435.6 L756.7 435 L756.2 435.8 L756.9 437 L756.4 437.7 L755.4 436.9 L754.8 437.5 L755.3 438.8 L754.7 439.2 L753.8 438.2 L753 438.6 L753.3 439.8 L752.5 440 L751.8 438.9 L750.8 438.9 L751 440.1 L750.1 440 L749.5 438.8 L748.4 438.6 L748.4 439.7 L747.4 439.4 L747 438.1 L745.9 437.6 L745.6 438.5 L744.7 437.9 L744.4 436.7 L743.3 436 L742.9 436.7 L741.9 435.9 L741.9 434.7 L740.9 433.8 L740.2 434.2 L739.3 433.3 L739.5 432.2 L738.6 431.1 L737.8 431.3 L737 430.2 L737.3 429.3 L736.6 428.1 L735.7 428 L735 426.8 L735.6 426.2 L735 424.8 L734 424.5 L733.5 423.3 L734.2 422.9 L733.8 421.5 L732.8 421 L732.5 419.7 L733.3 419.6 L733.1 418.3 L732.2 417.5 L732.1 416.3 L733 416.4 L733 415.2 L732.1 414.3 L732.2 413.2 L733.2 413.6 L733.4 412.5 L732.6 411.4 L732.9 410.5 L733.9 411.1 L734.3 410.3 L733.6 409.1 L734.1 408.4 L735.1 409.2 L735.7 408.6 L735.2 407.3 L735.9 406.9 L736.7 407.9 L737.5 407.5 L737.2 406.3 L738 406.1 L738.8 407.2 L739.7 407.2 L739.6 406 L740.4 406.1 L741.1 407.3 L742.1 407.5 L742.2 406.4 L743.1 406.7 L743.6 408 L744.6 408.5 L744.9 407.6 L745.9 408.2 L746.1 409.4 L747.2 410.1 L747.7 409.4 L748.6 410.2 L748.7 411.4 L749.7 412.3 L750.3 411.9 L751.2 412.8 L751 413.9 L752 415 L752.7 414.8 L753.5 415.9 L753.2 416.8Z" fill="#fff" stroke="#111" stroke-width="1.6"/>
<path d="M719.5 417.8 L736.6 408 L754 438.1 L736.9 448Z" fill="#fff" stroke="none" stroke-width="0"/>
<line x1="737.8" y1="427.9" x2="754.8" y2="418.1" stroke="#111" stroke-width="1.0"/>
<line x1="738.4" y1="429.1" x2="755.5" y2="419.3" stroke="#111" stroke-width="1.0"/>
<line x1="739.5" y1="431.4" x2="756.5" y2="421.6" stroke="#111" stroke-width="1.0"/>
<line x1="739.9" y1="432.7" x2="757" y2="422.8" stroke="#111" stroke-width="1.0"/>
<line x1="740.7" y1="435" x2="757.7" y2="425.1" stroke="#111" stroke-width="1.0"/>
<line x1="740.9" y1="436.2" x2="758" y2="426.4" stroke="#111" stroke-width="1.0"/>
<line x1="741.3" y1="438.5" x2="758.4" y2="428.6" stroke="#111" stroke-width="1.0"/>
<line x1="741.4" y1="439.6" x2="758.5" y2="429.8" stroke="#111" stroke-width="1.0"/>
<line x1="741.4" y1="441.7" x2="758.4" y2="431.8" stroke="#111" stroke-width="1.0"/>
<line x1="741.3" y1="442.7" x2="758.3" y2="432.9" stroke="#111" stroke-width="1.0"/>
<line x1="740.9" y1="444.5" x2="757.9" y2="434.7" stroke="#111" stroke-width="1.0"/>
<line x1="740.6" y1="445.4" x2="757.6" y2="435.6" stroke="#111" stroke-width="1.0"/>
<line x1="739.8" y1="446.9" x2="756.9" y2="437" stroke="#111" stroke-width="1.0"/>
<line x1="739.3" y1="447.6" x2="756.4" y2="437.7" stroke="#111" stroke-width="1.0"/>
<line x1="738.3" y1="448.6" x2="755.3" y2="438.8" stroke="#111" stroke-width="1.0"/>
<line x1="737.6" y1="449.1" x2="754.7" y2="439.2" stroke="#111" stroke-width="1.0"/>
<line x1="718.8" y1="416.7" x2="735.9" y2="406.9" stroke="#111" stroke-width="1.0"/>
<line x1="720.1" y1="416.1" x2="737.2" y2="406.3" stroke="#111" stroke-width="1.0"/>
<line x1="720.9" y1="415.9" x2="738" y2="406.1" stroke="#111" stroke-width="1.0"/>
<line x1="722.5" y1="415.8" x2="739.6" y2="406" stroke="#111" stroke-width="1.0"/>
<line x1="723.4" y1="415.9" x2="740.4" y2="406.1" stroke="#111" stroke-width="1.0"/>
<line x1="725.1" y1="416.3" x2="742.2" y2="406.4" stroke="#111" stroke-width="1.0"/>
<line x1="726" y1="416.6" x2="743.1" y2="406.7" stroke="#111" stroke-width="1.0"/>
<line x1="727.8" y1="417.4" x2="744.9" y2="407.6" stroke="#111" stroke-width="1.0"/>
<line x1="728.8" y1="418" x2="745.9" y2="408.2" stroke="#111" stroke-width="1.0"/>
<line x1="730.6" y1="419.3" x2="747.7" y2="409.4" stroke="#111" stroke-width="1.0"/>
<line x1="731.5" y1="420.1" x2="748.6" y2="410.2" stroke="#111" stroke-width="1.0"/>
<line x1="733.2" y1="421.7" x2="750.3" y2="411.9" stroke="#111" stroke-width="1.0"/>
<line x1="734.1" y1="422.7" x2="751.2" y2="412.8" stroke="#111" stroke-width="1.0"/>
<line x1="735.7" y1="424.6" x2="752.7" y2="414.8" stroke="#111" stroke-width="1.0"/>
<line x1="736.5" y1="425.7" x2="753.5" y2="415.9" stroke="#111" stroke-width="1.0"/>
<path d="M736.9 427.9 L737.8 427.9 L738.4 429.1 L737.9 429.8 L738.5 431.1 L739.5 431.4 L739.9 432.7 L739.3 433.1 L739.7 434.4 L740.7 435 L740.9 436.2 L740.1 436.4 L740.3 437.7 L741.3 438.5 L741.4 439.6 L740.5 439.5 L740.5 440.7 L741.4 441.7 L741.3 442.7 L740.3 442.4 L740.1 443.4 L740.9 444.5 L740.6 445.4 L739.6 444.8 L739.2 445.7 L739.8 446.9 L739.3 447.6 L738.4 446.7 L737.8 447.4 L738.3 448.6 L737.6 449.1 L736.7 448.1 L735.9 448.4 L736.3 449.7 L735.5 449.9 L734.7 448.7 L733.8 448.8 L733.9 450 L733 449.9 L732.4 448.7 L731.4 448.5 L731.3 449.5 L730.4 449.2 L729.9 447.9 L728.8 447.4 L728.6 448.4 L727.6 447.8 L727.3 446.6 L726.3 445.8 L725.8 446.5 L724.9 445.7 L724.8 444.6 L723.8 443.6 L723.2 444.1 L722.3 443.1 L722.4 442.1 L721.5 440.9 L720.7 441.2 L719.9 440.1 L720.3 439.2 L719.5 437.9 L718.6 437.9 L718 436.7 L718.5 436 L717.9 434.7 L716.9 434.4 L716.5 433.1 L717.1 432.7 L716.7 431.4 L715.7 430.8 L715.5 429.6 L716.3 429.4 L716.1 428.1 L715.1 427.3 L715 426.2 L715.9 426.3 L715.9 425.1 L715 424.1 L715.1 423.1 L716.1 423.4 L716.3 422.4 L715.5 421.3 L715.8 420.4 L716.8 421 L717.2 420.1 L716.6 418.9 L717.1 418.2 L718 419.1 L718.6 418.4 L718.1 417.2 L718.8 416.7 L719.7 417.7 L720.5 417.4 L720.1 416.1 L720.9 415.9 L721.7 417.1 L722.6 417 L722.5 415.8 L723.4 415.9 L724 417.1 L725 417.3 L725.1 416.3 L726 416.6 L726.5 417.9 L727.6 418.4 L727.8 417.4 L728.8 418 L729.1 419.2 L730.1 420 L730.6 419.3 L731.5 420.1 L731.6 421.2 L732.6 422.2 L733.2 421.7 L734.1 422.7 L734 423.7 L734.9 424.9 L735.7 424.6 L736.5 425.7 L736.1 426.6Z" fill="#fff" stroke="#111" stroke-width="1.6"/>
<ellipse cx="728.2" cy="432.9" rx="8.6" ry="15" transform="rotate(-30 728.2 432.9)" fill="none" stroke="#111" stroke-width="1.0"/>
<path d="M734.6 429.2 L735.7 429.1 L736.4 430.4 L735.5 431.1 L736.1 432.5 L737.4 432.9 L737.8 434.2 L736.7 434.4 L737 435.8 L738.3 436.6 L738.4 437.9 L737.2 437.6 L737.2 438.8 L738.4 440 L738.2 441.1 L736.9 440.4 L736.6 441.4 L737.7 442.9 L737.2 443.7 L736 442.6 L735.4 443.3 L736.2 444.9 L735.5 445.4 L734.4 444 L733.6 444.3 L734.1 446 L733.2 446.1 L732.3 444.5 L731.3 444.4 L731.5 446 L730.5 445.8 L729.9 444.1 L728.8 443.6 L728.6 445 L727.6 444.4 L727.3 442.7 L726.3 441.9 L725.7 442.9 L724.7 442 L724.8 440.6 L723.9 439.5 L723 440.1 L722.1 438.9 L722.6 437.8 L721.8 436.6 L720.7 436.7 L720 435.4 L720.9 434.7 L720.3 433.3 L719 432.9 L718.6 431.6 L719.7 431.4 L719.4 430 L718.1 429.2 L718 427.9 L719.2 428.2 L719.2 427 L718 425.8 L718.2 424.7 L719.5 425.4 L719.8 424.4 L718.7 422.9 L719.2 422.1 L720.4 423.2 L721 422.5 L720.2 420.9 L720.9 420.4 L722 421.8 L722.8 421.5 L722.3 419.8 L723.2 419.7 L724.1 421.3 L725.1 421.4 L724.9 419.8 L725.9 420 L726.5 421.7 L727.6 422.2 L727.8 420.8 L728.8 421.4 L729.1 423.1 L730.1 423.9 L730.7 422.9 L731.7 423.8 L731.6 425.2 L732.5 426.3 L733.4 425.7 L734.3 426.9 L733.8 428Z" fill="none" stroke="#111" stroke-width="0.8"/>
<line x1="737.2" y1="444.6" x2="754.2" y2="434.7" stroke="#111" stroke-width="0.6"/>
<line x1="733.8" y1="446.5" x2="750.9" y2="436.6" stroke="#111" stroke-width="0.6"/>
<line x1="729.4" y1="445.7" x2="746.4" y2="435.9" stroke="#111" stroke-width="0.6"/>
<line x1="724.7" y1="442.4" x2="741.8" y2="432.6" stroke="#111" stroke-width="0.6"/>
<line x1="720.7" y1="437.2" x2="737.8" y2="427.4" stroke="#111" stroke-width="0.6"/>
<line x1="718.2" y1="431.2" x2="735.3" y2="421.3" stroke="#111" stroke-width="0.6"/>
<line x1="717.7" y1="425.5" x2="734.8" y2="415.6" stroke="#111" stroke-width="0.6"/>
<line x1="719.2" y1="421.2" x2="736.3" y2="411.4" stroke="#111" stroke-width="0.6"/>
<line x1="722.6" y1="419.3" x2="739.6" y2="409.5" stroke="#111" stroke-width="0.6"/>
<path d="M686 441.7 L685.8 440.2 L685.7 438.8 L685.8 437.5 L686 436.3 L686.3 435.2 L686.8 434.2 L687.3 433.4 L688 432.7 L688.8 432.1 L689.6 431.7 L690.6 431.4 L691.6 431.4 L692.7 431.4 L693.8 431.7 L694.9 432.1 L696.1 432.7 L697.3 433.4 L698.4 434.2 L699.5 435.2 L700.6 436.3 L701.7 437.5 L702.6 438.8 L703.5 440.2 L704.4 441.7" fill="none" stroke="#111" stroke-width="2.2" stroke-linecap="round"/>
<path d="M713 459.3 L713.2 460.8 L713.3 462.2 L713.2 463.5 L713 464.7 L712.7 465.8 L712.2 466.8 L711.7 467.6 L711 468.3 L710.2 468.9 L709.4 469.3 L708.4 469.6 L707.4 469.6 L706.3 469.6 L705.2 469.3 L704.1 468.9 L702.9 468.3 L701.7 467.6 L700.6 466.8 L699.5 465.8 L698.4 464.7 L697.3 463.5 L696.4 462.2 L695.5 460.8 L694.6 459.3" fill="none" stroke="#111" stroke-width="2.2" stroke-linecap="round"/>
<ellipse cx="675.7" cy="462.6" rx="11.6" ry="20.1" transform="rotate(-30 675.7 462.6)" fill="none" stroke="#222" stroke-width="1.0"/>
<path d="M683.2 458.3 L684.6 458.1 L685.4 459.7 L684.4 460.5 L685 462.1 L686.6 462.6 L687.1 464.1 L685.8 464.4 L686.1 466 L687.7 467 L687.9 468.5 L686.3 468.2 L686.3 469.6 L687.9 471.1 L687.7 472.4 L686 471.5 L685.7 472.6 L687 474.5 L686.5 475.5 L684.9 474.1 L684.2 474.9 L685.2 476.9 L684.4 477.5 L683 475.7 L682.1 476.1 L682.7 478.2 L681.7 478.4 L680.6 476.3 L679.4 476.2 L679.6 478.2 L678.4 477.9 L677.7 475.8 L676.5 475.3 L676.2 477 L674.9 476.2 L674.7 474.2 L673.4 473.3 L672.7 474.5 L671.5 473.5 L671.7 471.7 L670.6 470.4 L669.5 471.2 L668.5 469.8 L669.1 468.4 L668.2 466.9 L666.8 467.1 L666 465.5 L667 464.7 L666.4 463.1 L664.8 462.6 L664.3 461.1 L665.6 460.8 L665.3 459.2 L663.7 458.2 L663.5 456.7 L665.1 457 L665.1 455.6 L663.5 454.1 L663.7 452.8 L665.4 453.7 L665.7 452.6 L664.4 450.7 L664.9 449.7 L666.5 451.1 L667.2 450.3 L666.2 448.3 L667 447.7 L668.4 449.5 L669.3 449.1 L668.7 447 L669.7 446.8 L670.8 448.9 L672 449 L671.8 447 L673 447.3 L673.7 449.4 L674.9 449.9 L675.2 448.2 L676.5 449 L676.7 451 L678 451.9 L678.7 450.7 L679.9 451.7 L679.7 453.5 L680.8 454.8 L681.9 454 L682.9 455.4 L682.3 456.8Z" fill="none" stroke="#222" stroke-width="1.6"/>
<path d="M663 481.3 L666.1 481.7 L666.8 483.9 L664 484.2 L664.5 486.1 L667.7 487.2 L668.2 489.4 L665.2 489 L665.5 490.8 L668.7 492.6 L668.9 494.6 L665.7 493.6 L665.8 495.4 L669 497.6 L668.9 499.6 L665.7 497.9 L665.6 499.5 L668.7 502.3 L668.3 504.1 L665.1 501.8 L664.7 503.3 L667.7 506.5 L667.1 508 L664 505.3 L663.4 506.5 L666 510.1 L665.2 511.4 L662.3 508.2 L661.5 509.1 L663.8 513 L662.8 514 L660.1 510.4 L659.1 511.1 L661 515.1 L659.8 515.8 L657.4 511.9 L656.2 512.3 L657.8 516.4 L656.4 516.7 L654.4 512.7 L653.1 512.8 L654.2 516.9 L652.6 516.9 L651 512.7 L649.6 512.5 L650.3 516.5 L648.6 516.1 L647.5 512 L646 511.5 L646.1 515.3 L644.4 514.5 L643.8 510.5 L642.3 509.7 L641.9 513.2 L640.2 512.1 L640 508.4 L638.5 507.3 L637.7 510.4 L636 509 L636.3 505.5 L634.9 504.2 L633.5 506.8 L631.9 505.2 L632.7 502.1 L631.4 500.6 L629.6 502.7 L628.1 500.9 L629.4 498.2 L628.2 496.5 L626 498 L624.6 496 L626.4 493.9 L625.3 492.1 L622.8 492.9 L621.6 490.8 L623.7 489.3 L622.8 487.4 L620 487.6 L619 485.4 L621.5 484.6 L620.8 482.6 L617.8 482.2 L617.1 480 L619.8 479.7 L619.3 477.8 L616.2 476.7 L615.7 474.5 L618.7 474.9 L618.4 473.1 L615.2 471.3 L615 469.3 L618.1 470.3 L618 468.5 L614.8 466.3 L614.9 464.3 L618.1 466 L618.3 464.4 L615.2 461.6 L615.5 459.8 L618.7 462.1 L619.1 460.6 L616.2 457.4 L616.8 455.9 L619.9 458.6 L620.5 457.4 L617.8 453.8 L618.6 452.5 L621.6 455.7 L622.4 454.8 L620 450.9 L621.1 449.9 L623.8 453.5 L624.8 452.8 L622.8 448.8 L624 448.1 L626.4 452 L627.6 451.6 L626 447.5 L627.4 447.2 L629.5 451.2 L630.8 451.1 L629.7 447 L631.2 447 L632.8 451.2 L634.2 451.4 L633.6 447.4 L635.2 447.8 L636.4 451.9 L637.8 452.4 L637.7 448.6 L639.4 449.4 L640.1 453.4 L641.6 454.2 L642 450.7 L643.7 451.8 L643.8 455.5 L645.3 456.6 L646.2 453.5 L647.9 454.9 L647.5 458.4 L649 459.7 L650.3 457.1 L651.9 458.7 L651.1 461.8 L652.5 463.3 L654.2 461.2 L655.7 463 L654.4 465.7 L655.7 467.4 L657.9 465.9 L659.2 467.9 L657.5 470 L658.6 471.8 L661.1 471 L662.3 473.1 L660.1 474.6 L661 476.5 L663.8 476.3 L664.8 478.5 L662.3 479.3Z" fill="#fff" stroke="#222" stroke-width="1.1"/>
<path d="M616.1 457.8 L625 452.7 L658.8 511.2 L649.9 516.4Z" fill="#fff" stroke="none" stroke-width="0"/>
<line x1="653" y1="477.6" x2="666.4" y2="482.8" stroke="#333" stroke-width="0.8"/>
<line x1="655.6" y1="483" x2="667.9" y2="488.3" stroke="#333" stroke-width="0.8"/>
<line x1="657.7" y1="488.5" x2="668.8" y2="493.6" stroke="#333" stroke-width="0.8"/>
<line x1="659.1" y1="493.9" x2="669" y2="498.6" stroke="#333" stroke-width="0.8"/>
<line x1="659.9" y1="499.2" x2="668.5" y2="503.2" stroke="#333" stroke-width="0.8"/>
<line x1="660" y1="504.2" x2="667.4" y2="507.3" stroke="#333" stroke-width="0.8"/>
<line x1="659.5" y1="508.8" x2="665.6" y2="510.7" stroke="#333" stroke-width="0.8"/>
<line x1="658.3" y1="512.8" x2="663.3" y2="513.5" stroke="#333" stroke-width="0.8"/>
<line x1="656.5" y1="516.2" x2="660.4" y2="515.5" stroke="#333" stroke-width="0.8"/>
<line x1="654.1" y1="518.9" x2="657.1" y2="516.6" stroke="#333" stroke-width="0.8"/>
<line x1="651.2" y1="520.8" x2="653.4" y2="516.9" stroke="#333" stroke-width="0.8"/>
<line x1="611.9" y1="455.3" x2="626.7" y2="447.3" stroke="#333" stroke-width="0.8"/>
<line x1="614.8" y1="453.4" x2="630.4" y2="447" stroke="#333" stroke-width="0.8"/>
<line x1="618.1" y1="452.4" x2="634.4" y2="447.6" stroke="#333" stroke-width="0.8"/>
<line x1="621.9" y1="452.2" x2="638.6" y2="449" stroke="#333" stroke-width="0.8"/>
<line x1="625.8" y1="452.8" x2="642.8" y2="451.2" stroke="#333" stroke-width="0.8"/>
<line x1="630" y1="454.3" x2="647" y2="454.2" stroke="#333" stroke-width="0.8"/>
<line x1="634.3" y1="456.6" x2="651.1" y2="457.9" stroke="#333" stroke-width="0.8"/>
<line x1="638.5" y1="459.7" x2="655" y2="462.1" stroke="#333" stroke-width="0.8"/>
<line x1="642.6" y1="463.4" x2="658.5" y2="466.9" stroke="#333" stroke-width="0.8"/>
<line x1="646.4" y1="467.7" x2="661.7" y2="472" stroke="#333" stroke-width="0.8"/>
<line x1="649.9" y1="472.5" x2="664.3" y2="477.4" stroke="#333" stroke-width="0.8"/>
<path d="M649.9 477.3 L652.4 476.6 L653.6 478.7 L651.4 480.1 L652.3 482 L655.1 481.9 L656.1 484.1 L653.6 484.9 L654.3 486.9 L657.3 487.4 L658 489.6 L655.2 489.8 L655.7 491.7 L658.9 492.9 L659.3 495 L656.3 494.6 L656.6 496.4 L659.8 498.2 L660 500.2 L656.8 499.1 L656.9 500.9 L660.1 503.2 L660 505.1 L656.8 503.4 L656.6 505 L659.7 507.9 L659.3 509.6 L656.1 507.3 L655.7 508.8 L658.6 512 L658 513.5 L654.9 510.7 L654.3 511.9 L656.9 515.6 L656.1 516.8 L653.2 513.5 L652.3 514.5 L654.7 518.4 L653.6 519.3 L650.9 515.7 L649.9 516.4 L651.8 520.4 L650.6 521 L648.2 517.2 L647 517.5 L648.6 521.7 L647.2 521.9 L645.2 517.9 L643.9 518 L644.9 522.1 L643.4 522 L641.8 517.8 L640.4 517.6 L641 521.6 L639.3 521.2 L638.2 517 L636.7 516.5 L636.8 520.3 L635.1 519.5 L634.5 515.5 L633 514.7 L632.6 518.1 L630.9 517 L630.8 513.3 L629.3 512.2 L628.4 515.2 L626.7 513.9 L627.1 510.4 L625.6 509.1 L624.2 511.6 L622.6 510 L623.5 506.9 L622.2 505.4 L620.3 507.4 L618.9 505.6 L620.2 503 L619 501.3 L616.8 502.7 L615.4 500.7 L617.2 498.7 L616.1 496.9 L613.6 497.6 L612.4 495.5 L614.6 494.1 L613.7 492.2 L610.9 492.3 L609.9 490.1 L612.4 489.3 L611.7 487.3 L608.7 486.8 L608 484.6 L610.8 484.4 L610.3 482.5 L607.1 481.3 L606.7 479.2 L609.7 479.6 L609.4 477.8 L606.2 476 L606 474 L609.2 475.1 L609.1 473.3 L605.9 471 L606 469.1 L609.2 470.8 L609.4 469.2 L606.3 466.3 L606.7 464.6 L609.9 466.9 L610.3 465.4 L607.4 462.2 L608 460.7 L611.1 463.5 L611.7 462.3 L609.1 458.6 L609.9 457.4 L612.8 460.7 L613.7 459.7 L611.3 455.8 L612.4 454.9 L615.1 458.5 L616.1 457.8 L614.2 453.8 L615.4 453.2 L617.8 457 L619 456.7 L617.4 452.5 L618.8 452.3 L620.8 456.3 L622.1 456.2 L621.1 452.1 L622.6 452.2 L624.2 456.4 L625.6 456.6 L625 452.6 L626.7 453 L627.8 457.2 L629.3 457.7 L629.2 453.9 L630.9 454.7 L631.5 458.7 L633 459.5 L633.4 456.1 L635.1 457.2 L635.2 460.9 L636.7 462 L637.6 459 L639.3 460.3 L638.9 463.8 L640.4 465.1 L641.8 462.6 L643.4 464.2 L642.5 467.3 L643.8 468.8 L645.7 466.8 L647.1 468.6 L645.8 471.2 L647 472.9 L649.2 471.5 L650.6 473.5 L648.8 475.5Z" fill="#fff" stroke="#222" stroke-width="1.1"/>
<ellipse cx="633" cy="487.1" rx="18.1" ry="31.4" transform="rotate(-30 633 487.1)" fill="none" stroke="#222" stroke-width="0.935"/>
<ellipse cx="633" cy="487.1" rx="11" ry="19.1" transform="rotate(-30 633 487.1)" fill="none" stroke="#222" stroke-width="0.935"/>
<ellipse cx="633" cy="487.1" rx="8" ry="13.8" transform="rotate(-30 633 487.1)" fill="none" stroke="#222" stroke-width="0.935"/>
<clipPath id="gb14"><ellipse cx="633" cy="487.1" rx="8" ry="13.8" transform="rotate(-30 633 487.1)" fill="#000" stroke="none" stroke-width="0"/></clipPath>
<g clip-path="url(#gb14)"><ellipse cx="643.7" cy="480.9" rx="8" ry="13.8" transform="rotate(-30 643.7 480.9)" fill="none" stroke="#222" stroke-width="0.8"/><line x1="634.5" y1="499.1" x2="645.2" y2="492.9" stroke="#222" stroke-width="0.6"/><line x1="630.7" y1="496.7" x2="641.4" y2="490.5" stroke="#222" stroke-width="0.6"/><line x1="627.2" y1="492.7" x2="637.9" y2="486.5" stroke="#222" stroke-width="0.6"/><line x1="624.6" y1="487.9" x2="635.3" y2="481.7" stroke="#222" stroke-width="0.6"/><line x1="623.3" y1="482.9" x2="634" y2="476.8" stroke="#222" stroke-width="0.6"/><line x1="623.6" y1="478.6" x2="634.3" y2="472.5" stroke="#222" stroke-width="0.6"/></g>
<ellipse cx="1191.9" cy="388.9" rx="9.1" ry="15.7" transform="rotate(-30 1191.9 388.9)" fill="#fff" stroke="#111" stroke-width="1.5"/>
<path d="M1172.2 382.1 L1184 375.3 L1199.7 402.5 L1187.9 409.3Z" fill="#fff" stroke="none" stroke-width="0"/>
<path d="M1172.2 382.1 L1173.1 381.7 L1174.1 381.5 L1175.1 381.4 L1176.1 381.4 L1177.2 381.7 L1178.4 382 L1179.5 382.6 L1180.7 383.2 L1181.8 384 L1183 385 L1184.1 386 L1185.1 387.2 L1186.1 388.4 L1187.1 389.8 L1187.9 391.2 L1188.7 392.6 L1189.4 394.1 L1190 395.6 L1190.5 397.1 L1190.8 398.6 L1191.1 400 L1191.2 401.4 L1191.2 402.8 L1191.1 404 L1190.8 405.2 L1190.5 406.3 L1190 407.2 L1189.4 408.1 L1188.7 408.7 L1187.9 409.3 L1199.7 402.5 L1200.5 401.9 L1201.2 401.3 L1201.8 400.4 L1202.2 399.5 L1202.6 398.4 L1202.8 397.2 L1203 396 L1203 394.6 L1202.8 393.2 L1202.6 391.8 L1202.2 390.3 L1201.8 388.8 L1201.2 387.3 L1200.5 385.8 L1199.7 384.4 L1198.9 383 L1197.9 381.6 L1196.9 380.4 L1195.9 379.2 L1194.7 378.2 L1193.6 377.2 L1192.5 376.4 L1191.3 375.8 L1190.1 375.2 L1189 374.9 L1187.9 374.6 L1186.8 374.6 L1185.8 374.7 L1184.9 374.9 L1184 375.3Z" fill="#b8b8b8" stroke="none" stroke-width="0"/>
<line x1="1188.7" y1="392.6" x2="1200.5" y2="385.8" stroke="#111" stroke-width="1.4"/>
<line x1="1190.4" y1="397" x2="1202.2" y2="390.2" stroke="#111" stroke-width="1.4"/>
<line x1="1191.2" y1="401.4" x2="1203" y2="394.6" stroke="#111" stroke-width="1.4"/>
<line x1="1190.8" y1="405.2" x2="1202.6" y2="398.4" stroke="#111" stroke-width="1.4"/>
<line x1="1189.4" y1="408" x2="1201.2" y2="401.2" stroke="#111" stroke-width="1.4"/>
<line x1="1173.1" y1="381.7" x2="1184.9" y2="374.9" stroke="#111" stroke-width="1.4"/>
<line x1="1176.1" y1="381.4" x2="1187.8" y2="374.6" stroke="#111" stroke-width="1.4"/>
<line x1="1179.5" y1="382.5" x2="1191.2" y2="375.7" stroke="#111" stroke-width="1.4"/>
<line x1="1182.9" y1="384.9" x2="1194.7" y2="378.1" stroke="#111" stroke-width="1.4"/>
<line x1="1186.1" y1="388.4" x2="1197.9" y2="381.6" stroke="#111" stroke-width="1.4"/>
<path d="M1178.1 378.7 L1179 378.3 L1179.9 378.1 L1181 378 L1182 378 L1183.1 378.3 L1184.3 378.6 L1185.4 379.2 L1186.6 379.8 L1187.7 380.6 L1188.9 381.6 L1190 382.6 L1191 383.8 L1192 385 L1193 386.4 L1193.8 387.8 L1194.6 389.2 L1195.3 390.7 L1195.9 392.2 L1196.3 393.7 L1196.7 395.2 L1196.9 396.6 L1197.1 398 L1197.1 399.4 L1197 400.6 L1196.7 401.8 L1196.4 402.9 L1195.9 403.8 L1195.3 404.7 L1194.6 405.3 L1193.8 405.9" fill="none" stroke="#111" stroke-width="1.1"/>
<line x1="1172.2" y1="382.1" x2="1184" y2="375.3" stroke="#111" stroke-width="1.5"/>
<line x1="1187.9" y1="409.3" x2="1199.7" y2="402.5" stroke="#111" stroke-width="1.5"/>
<ellipse cx="1180.1" cy="395.7" rx="9.1" ry="15.7" transform="rotate(-30 1180.1 395.7)" fill="#c8c8c8" stroke="#111" stroke-width="1.4"/>
<ellipse cx="1180.1" cy="395.7" rx="7.1" ry="12.2" transform="rotate(-30 1180.1 395.7)" fill="#d8d8d8" stroke="#111" stroke-width="1.0"/>
<line x1="1186.2" y1="392.2" x2="1187.8" y2="391.3" stroke="#111" stroke-width="1.3"/>
<line x1="1187.9" y1="396" x2="1190" y2="396.1" stroke="#111" stroke-width="1.3"/>
<line x1="1188.7" y1="399.8" x2="1190.9" y2="400.9" stroke="#111" stroke-width="1.3"/>
<line x1="1188.5" y1="403.1" x2="1190.6" y2="405" stroke="#111" stroke-width="1.3"/>
<line x1="1187.2" y1="405.5" x2="1189" y2="408.1" stroke="#111" stroke-width="1.3"/>
<line x1="1185.1" y1="406.8" x2="1186.3" y2="409.6" stroke="#111" stroke-width="1.3"/>
<line x1="1182.3" y1="406.7" x2="1182.9" y2="409.5" stroke="#111" stroke-width="1.3"/>
<line x1="1179.3" y1="405.2" x2="1179.2" y2="407.7" stroke="#111" stroke-width="1.3"/>
<line x1="1176.4" y1="402.6" x2="1175.5" y2="404.4" stroke="#111" stroke-width="1.3"/>
<line x1="1174" y1="399.2" x2="1172.4" y2="400.1" stroke="#111" stroke-width="1.3"/>
<line x1="1172.3" y1="395.4" x2="1170.2" y2="395.3" stroke="#111" stroke-width="1.3"/>
<line x1="1171.5" y1="391.6" x2="1169.3" y2="390.5" stroke="#111" stroke-width="1.3"/>
<line x1="1171.7" y1="388.3" x2="1169.6" y2="386.4" stroke="#111" stroke-width="1.3"/>
<line x1="1173" y1="385.9" x2="1171.2" y2="383.3" stroke="#111" stroke-width="1.3"/>
<line x1="1175.1" y1="384.6" x2="1173.9" y2="381.8" stroke="#111" stroke-width="1.3"/>
<line x1="1177.9" y1="384.7" x2="1177.3" y2="381.9" stroke="#111" stroke-width="1.3"/>
<line x1="1180.9" y1="386.2" x2="1181" y2="383.7" stroke="#111" stroke-width="1.3"/>
<line x1="1183.8" y1="388.8" x2="1184.7" y2="387" stroke="#111" stroke-width="1.3"/>
<clipPath id="cc15"><ellipse cx="1180.1" cy="395.7" rx="7.1" ry="12.2" transform="rotate(-30 1180.1 395.7)" fill="#000" stroke="none" stroke-width="0"/></clipPath>
<g clip-path="url(#cc15)"><line x1="1186.2" y1="392.2" x2="1198" y2="385.4" stroke="#111" stroke-width="1.2"/><line x1="1188.1" y1="396.5" x2="1199.9" y2="389.7" stroke="#111" stroke-width="1.2"/><line x1="1188.8" y1="400.7" x2="1200.5" y2="393.9" stroke="#111" stroke-width="1.2"/><line x1="1188.1" y1="404.1" x2="1199.9" y2="397.3" stroke="#111" stroke-width="1.2"/><line x1="1186.2" y1="406.3" x2="1198" y2="399.5" stroke="#111" stroke-width="1.2"/><line x1="1183.4" y1="406.9" x2="1195.2" y2="400.1" stroke="#111" stroke-width="1.2"/><line x1="1180.1" y1="405.7" x2="1191.9" y2="398.9" stroke="#111" stroke-width="1.2"/><line x1="1176.8" y1="403" x2="1188.6" y2="396.2" stroke="#111" stroke-width="1.2"/><line x1="1174" y1="399.2" x2="1185.8" y2="392.4" stroke="#111" stroke-width="1.2"/><line x1="1172.1" y1="394.9" x2="1183.9" y2="388.1" stroke="#111" stroke-width="1.2"/><line x1="1171.4" y1="390.7" x2="1183.2" y2="383.9" stroke="#111" stroke-width="1.2"/><line x1="1172.1" y1="387.3" x2="1183.9" y2="380.5" stroke="#111" stroke-width="1.2"/><line x1="1174" y1="385.1" x2="1185.8" y2="378.3" stroke="#111" stroke-width="1.2"/><line x1="1176.8" y1="384.5" x2="1188.6" y2="377.7" stroke="#111" stroke-width="1.2"/><line x1="1180.1" y1="385.7" x2="1191.9" y2="378.9" stroke="#111" stroke-width="1.2"/><line x1="1183.4" y1="388.4" x2="1195.2" y2="381.6" stroke="#111" stroke-width="1.2"/></g>
<ellipse cx="1151.3" cy="412" rx="12.5" ry="21.7" transform="rotate(-30 1151.3 412)" fill="none" stroke="#222" stroke-width="1.0"/>
<path d="M1159.2 407.4 L1160.7 407.2 L1161.4 408.6 L1160.3 409.4 L1160.9 410.8 L1162.5 411.2 L1163 412.6 L1161.6 412.9 L1162 414.3 L1163.7 415.2 L1164 416.5 L1162.4 416.3 L1162.5 417.7 L1164.2 419 L1164.2 420.2 L1162.5 419.5 L1162.3 420.7 L1163.9 422.4 L1163.6 423.4 L1161.9 422.3 L1161.5 423.2 L1162.9 425.2 L1162.4 426 L1160.8 424.4 L1160.1 425.1 L1161.2 427.2 L1160.5 427.7 L1159.1 425.8 L1158.2 426.2 L1159 428.4 L1158 428.6 L1156.9 426.5 L1155.9 426.5 L1156.2 428.6 L1155.2 428.4 L1154.4 426.2 L1153.3 425.9 L1153.3 427.8 L1152.2 427.4 L1151.7 425.2 L1150.6 424.5 L1150.2 426.2 L1149.1 425.4 L1149 423.4 L1148 422.4 L1147.1 423.7 L1146.1 422.6 L1146.5 420.9 L1145.5 419.7 L1144.3 420.5 L1143.4 419.2 L1144.2 417.9 L1143.4 416.6 L1141.9 416.8 L1141.2 415.4 L1142.3 414.6 L1141.7 413.2 L1140.1 412.8 L1139.6 411.4 L1141 411.1 L1140.6 409.7 L1138.9 408.8 L1138.6 407.5 L1140.2 407.7 L1140.1 406.3 L1138.4 405 L1138.4 403.8 L1140.1 404.5 L1140.3 403.3 L1138.7 401.6 L1139 400.6 L1140.7 401.7 L1141.1 400.8 L1139.7 398.8 L1140.2 398 L1141.8 399.6 L1142.5 398.9 L1141.4 396.8 L1142.1 396.3 L1143.5 398.2 L1144.4 397.8 L1143.6 395.6 L1144.6 395.4 L1145.7 397.5 L1146.7 397.5 L1146.4 395.4 L1147.4 395.6 L1148.2 397.8 L1149.3 398.1 L1149.3 396.2 L1150.4 396.6 L1150.9 398.8 L1152 399.5 L1152.4 397.8 L1153.5 398.6 L1153.6 400.6 L1154.6 401.6 L1155.5 400.3 L1156.5 401.4 L1156.1 403.1 L1157.1 404.3 L1158.3 403.5 L1159.2 404.8 L1158.4 406.1Z" fill="none" stroke="#222" stroke-width="1.1"/>
<path d="M1111.5 419.2 L1111.3 417.7 L1111.2 416.3 L1111.3 415 L1111.5 413.8 L1111.8 412.7 L1112.3 411.7 L1112.8 410.9 L1113.5 410.2 L1114.3 409.6 L1115.1 409.2 L1116.1 408.9 L1117.1 408.9 L1118.2 408.9 L1119.3 409.2 L1120.4 409.6 L1121.6 410.2 L1122.8 410.9 L1123.9 411.7 L1125 412.7 L1126.1 413.8 L1127.2 415 L1128.1 416.3 L1129 417.7 L1129.9 419.2" fill="none" stroke="#111" stroke-width="2.2" stroke-linecap="round"/>
<path d="M1138.5 436.8 L1138.7 438.3 L1138.8 439.7 L1138.7 441 L1138.5 442.2 L1138.2 443.3 L1137.7 444.3 L1137.2 445.1 L1136.5 445.8 L1135.7 446.4 L1134.9 446.8 L1133.9 447.1 L1132.9 447.1 L1131.8 447.1 L1130.7 446.8 L1129.6 446.4 L1128.4 445.8 L1127.2 445.1 L1126.1 444.3 L1125 443.3 L1123.9 442.2 L1122.8 441 L1121.9 439.7 L1121 438.3 L1120.1 436.8" fill="none" stroke="#111" stroke-width="2.2" stroke-linecap="round"/>
<ellipse cx="1102.1" cy="440.9" rx="12.3" ry="21.3" transform="rotate(-30 1102.1 440.9)" fill="none" stroke="#222" stroke-width="1.0"/>
<path d="M1110.1 436.3 L1111.6 436.2 L1112.4 437.8 L1111.3 438.7 L1112 440.4 L1113.7 440.9 L1114.2 442.5 L1112.8 442.8 L1113.1 444.5 L1114.8 445.6 L1115 447.2 L1113.4 446.8 L1113.3 448.3 L1115 449.9 L1114.8 451.3 L1113 450.3 L1112.7 451.5 L1114.1 453.5 L1113.5 454.6 L1111.8 453.1 L1111.1 453.9 L1112.2 456.1 L1111.3 456.7 L1109.9 454.8 L1108.9 455.2 L1109.5 457.4 L1108.4 457.6 L1107.2 455.4 L1106 455.4 L1106.2 457.5 L1105 457.1 L1104.2 454.9 L1102.9 454.3 L1102.6 456.1 L1101.3 455.4 L1101 453.2 L1099.7 452.2 L1098.9 453.6 L1097.7 452.4 L1097.9 450.5 L1096.7 449.2 L1095.5 450 L1094.4 448.5 L1095.1 447.1 L1094.1 445.5 L1092.6 445.6 L1091.8 444 L1092.9 443.1 L1092.2 441.4 L1090.5 440.9 L1090 439.3 L1091.4 439 L1091.1 437.3 L1089.4 436.2 L1089.2 434.6 L1090.8 435 L1090.9 433.5 L1089.2 431.9 L1089.4 430.5 L1091.2 431.5 L1091.5 430.3 L1090.1 428.3 L1090.7 427.2 L1092.4 428.7 L1093.1 427.9 L1092 425.7 L1092.9 425.1 L1094.3 427 L1095.3 426.6 L1094.7 424.4 L1095.8 424.2 L1097 426.4 L1098.2 426.4 L1098 424.3 L1099.2 424.7 L1100 426.9 L1101.3 427.5 L1101.6 425.7 L1102.9 426.4 L1103.2 428.6 L1104.5 429.6 L1105.3 428.2 L1106.5 429.4 L1106.3 431.3 L1107.5 432.6 L1108.7 431.8 L1109.8 433.3 L1109.1 434.7Z" fill="none" stroke="#222" stroke-width="1.6"/>
<path d="M1086.8 463.2 L1089.8 463.6 L1090.5 465.7 L1087.7 466 L1088.3 467.8 L1091.4 468.8 L1091.9 470.9 L1088.9 470.6 L1089.2 472.4 L1092.4 473.9 L1092.7 475.9 L1089.6 475 L1089.8 476.8 L1093 478.8 L1093 480.7 L1089.8 479.3 L1089.8 480.9 L1092.9 483.4 L1092.8 485.2 L1089.6 483.3 L1089.3 484.8 L1092.4 487.7 L1092 489.3 L1088.8 486.9 L1088.4 488.2 L1091.3 491.5 L1090.7 492.9 L1087.6 490 L1087 491.2 L1089.6 494.8 L1088.9 496 L1085.9 492.7 L1085.2 493.7 L1087.5 497.5 L1086.6 498.4 L1083.9 494.9 L1082.9 495.6 L1085 499.6 L1083.8 500.3 L1081.4 496.5 L1080.3 497 L1082 501.1 L1080.8 501.4 L1078.6 497.5 L1077.4 497.7 L1078.7 501.8 L1077.3 501.9 L1075.5 497.8 L1074.2 497.8 L1075.2 501.9 L1073.7 501.7 L1072.2 497.5 L1070.9 497.2 L1071.4 501.2 L1069.8 500.7 L1068.8 496.6 L1067.4 496.1 L1067.4 499.8 L1065.8 499.1 L1065.2 495.1 L1063.8 494.3 L1063.4 497.8 L1061.8 496.8 L1061.7 493 L1060.2 492 L1059.4 495.1 L1057.8 493.9 L1058.1 490.4 L1056.7 489.2 L1055.5 491.9 L1054 490.5 L1054.7 487.3 L1053.3 485.9 L1051.7 488.1 L1050.3 486.5 L1051.4 483.7 L1050.2 482.2 L1048.2 483.9 L1046.8 482.1 L1048.4 479.8 L1047.2 478.1 L1044.9 479.4 L1043.7 477.4 L1045.6 475.5 L1044.6 473.8 L1042 474.5 L1040.9 472.5 L1043.2 471.1 L1042.3 469.3 L1039.5 469.4 L1038.6 467.4 L1041.1 466.5 L1040.4 464.7 L1037.4 464.3 L1036.7 462.2 L1039.5 461.9 L1039 460.1 L1035.8 459.1 L1035.4 457 L1038.3 457.3 L1038 455.5 L1034.8 454 L1034.5 452 L1037.6 452.9 L1037.5 451.1 L1034.3 449.1 L1034.2 447.2 L1037.4 448.6 L1037.4 447 L1034.3 444.5 L1034.4 442.7 L1037.7 444.6 L1037.9 443.1 L1034.9 440.2 L1035.2 438.6 L1038.4 441 L1038.8 439.7 L1036 436.4 L1036.6 435 L1039.6 437.9 L1040.2 436.7 L1037.6 433.1 L1038.4 431.9 L1041.3 435.2 L1042.1 434.2 L1039.7 430.4 L1040.7 429.5 L1043.4 433 L1044.3 432.3 L1042.2 428.3 L1043.4 427.6 L1045.8 431.4 L1046.9 430.9 L1045.2 426.8 L1046.5 426.5 L1048.6 430.4 L1049.8 430.2 L1048.5 426.1 L1049.9 426 L1051.7 430.1 L1053 430.1 L1052.1 426 L1053.6 426.2 L1055 430.4 L1056.3 430.7 L1055.8 426.7 L1057.4 427.2 L1058.4 431.3 L1059.8 431.8 L1059.8 428.1 L1061.4 428.8 L1062 432.8 L1063.4 433.6 L1063.8 430.1 L1065.4 431.1 L1065.6 434.9 L1067 435.9 L1067.8 432.8 L1069.4 434 L1069.1 437.5 L1070.5 438.7 L1071.7 436 L1073.2 437.4 L1072.5 440.6 L1073.9 442 L1075.5 439.8 L1076.9 441.4 L1075.8 444.2 L1077.1 445.7 L1079 444 L1080.4 445.8 L1078.9 448.1 L1080 449.8 L1082.3 448.5 L1083.5 450.5 L1081.6 452.4 L1082.6 454.1 L1085.2 453.4 L1086.3 455.4 L1084.1 456.8 L1084.9 458.6 L1087.7 458.5 L1088.6 460.5 L1086.1 461.4Z" fill="#fff" stroke="#222" stroke-width="1.1"/>
<path d="M1032.9 438.9 L1045.1 431.8 L1082.2 496.1 L1070 503.1Z" fill="#fff" stroke="none" stroke-width="0"/>
<line x1="1073" y1="460.5" x2="1090.2" y2="464.7" stroke="#333" stroke-width="0.8"/>
<line x1="1075.5" y1="465.6" x2="1091.6" y2="469.8" stroke="#333" stroke-width="0.8"/>
<line x1="1077.6" y1="470.7" x2="1092.6" y2="474.9" stroke="#333" stroke-width="0.8"/>
<line x1="1079.2" y1="475.9" x2="1093" y2="479.8" stroke="#333" stroke-width="0.8"/>
<line x1="1080.2" y1="481" x2="1092.9" y2="484.3" stroke="#333" stroke-width="0.8"/>
<line x1="1080.8" y1="485.9" x2="1092.2" y2="488.5" stroke="#333" stroke-width="0.8"/>
<line x1="1080.7" y1="490.5" x2="1091" y2="492.2" stroke="#333" stroke-width="0.8"/>
<line x1="1080.2" y1="494.7" x2="1089.3" y2="495.4" stroke="#333" stroke-width="0.8"/>
<line x1="1079" y1="498.6" x2="1087.1" y2="498" stroke="#333" stroke-width="0.8"/>
<line x1="1077.4" y1="501.9" x2="1084.4" y2="500" stroke="#333" stroke-width="0.8"/>
<line x1="1075.3" y1="504.6" x2="1081.4" y2="501.3" stroke="#333" stroke-width="0.8"/>
<line x1="1072.8" y1="506.7" x2="1078" y2="501.9" stroke="#333" stroke-width="0.8"/>
<line x1="1069.8" y1="508.1" x2="1074.4" y2="501.8" stroke="#333" stroke-width="0.8"/>
<line x1="1030" y1="435.3" x2="1049.2" y2="426" stroke="#333" stroke-width="0.8"/>
<line x1="1033" y1="433.9" x2="1052.8" y2="426.1" stroke="#333" stroke-width="0.8"/>
<line x1="1036.3" y1="433.1" x2="1056.6" y2="426.9" stroke="#333" stroke-width="0.8"/>
<line x1="1039.9" y1="433.1" x2="1060.6" y2="428.4" stroke="#333" stroke-width="0.8"/>
<line x1="1043.7" y1="433.8" x2="1064.6" y2="430.6" stroke="#333" stroke-width="0.8"/>
<line x1="1047.6" y1="435.1" x2="1068.6" y2="433.4" stroke="#333" stroke-width="0.8"/>
<line x1="1051.6" y1="437.2" x2="1072.5" y2="436.7" stroke="#333" stroke-width="0.8"/>
<line x1="1055.6" y1="439.8" x2="1076.2" y2="440.6" stroke="#333" stroke-width="0.8"/>
<line x1="1059.5" y1="443.1" x2="1079.7" y2="444.9" stroke="#333" stroke-width="0.8"/>
<line x1="1063.3" y1="446.8" x2="1082.9" y2="449.5" stroke="#333" stroke-width="0.8"/>
<line x1="1066.8" y1="451" x2="1085.8" y2="454.4" stroke="#333" stroke-width="0.8"/>
<line x1="1070.1" y1="455.6" x2="1088.2" y2="459.5" stroke="#333" stroke-width="0.8"/>
<path d="M1069.9 460.3 L1072.5 459.5 L1073.6 461.5 L1071.4 463 L1072.3 464.8 L1075.1 464.5 L1076 466.6 L1073.5 467.5 L1074.3 469.4 L1077.2 469.7 L1078 471.8 L1075.2 472.1 L1075.8 474 L1078.9 474.9 L1079.4 476.9 L1076.5 476.7 L1076.9 478.5 L1080.1 480 L1080.4 482 L1077.3 481.2 L1077.5 483 L1080.7 484.9 L1080.8 486.8 L1077.6 485.5 L1077.6 487.2 L1080.8 489.6 L1080.7 491.4 L1077.5 489.6 L1077.2 491.1 L1080.3 493.9 L1080 495.5 L1076.8 493.2 L1076.4 494.6 L1079.3 497.8 L1078.8 499.3 L1075.7 496.5 L1075.1 497.7 L1077.8 501.2 L1077 502.5 L1074.1 499.3 L1073.3 500.3 L1075.8 504.1 L1074.8 505.1 L1072.1 501.6 L1071.2 502.3 L1073.3 506.3 L1072.2 507 L1069.7 503.3 L1068.6 503.8 L1070.4 507.9 L1069.2 508.3 L1067 504.4 L1065.8 504.6 L1067.2 508.8 L1065.8 508.9 L1063.9 504.8 L1062.7 504.9 L1063.7 509 L1062.2 508.8 L1060.7 504.7 L1059.3 504.5 L1059.9 508.4 L1058.4 508 L1057.3 503.9 L1055.9 503.4 L1056 507.2 L1054.4 506.5 L1053.7 502.5 L1052.3 501.8 L1052 505.3 L1050.4 504.4 L1050.2 500.5 L1048.7 499.6 L1048 502.8 L1046.4 501.6 L1046.6 498 L1045.2 496.8 L1044.1 499.6 L1042.5 498.2 L1043.1 495 L1041.8 493.6 L1040.2 496 L1038.8 494.4 L1039.8 491.5 L1038.6 490 L1036.6 491.8 L1035.3 490.1 L1036.7 487.6 L1035.6 486 L1033.3 487.3 L1032.1 485.4 L1033.9 483.4 L1032.9 481.7 L1030.3 482.5 L1029.2 480.5 L1031.4 479 L1030.5 477.2 L1027.7 477.5 L1026.8 475.4 L1029.3 474.5 L1028.5 472.6 L1025.6 472.3 L1024.8 470.2 L1027.6 469.9 L1027 468 L1023.9 467.1 L1023.4 465.1 L1026.3 465.3 L1025.9 463.5 L1022.7 462 L1022.4 460 L1025.5 460.8 L1025.3 459 L1022.1 457.1 L1022 455.2 L1025.2 456.5 L1025.2 454.8 L1022 452.4 L1022.1 450.6 L1025.3 452.4 L1025.6 450.9 L1022.5 448.1 L1022.8 446.5 L1026 448.8 L1026.4 447.4 L1023.5 444.2 L1024 442.7 L1027.1 445.5 L1027.7 444.3 L1025 440.8 L1025.8 439.5 L1028.7 442.7 L1029.5 441.7 L1027 437.9 L1028 436.9 L1030.7 440.4 L1031.6 439.7 L1029.5 435.7 L1030.6 435 L1033.1 438.7 L1034.2 438.2 L1032.4 434.1 L1033.6 433.7 L1035.8 437.6 L1037 437.4 L1035.6 433.2 L1037 433.1 L1038.9 437.2 L1040.1 437.1 L1039.1 433 L1040.6 433.2 L1042.1 437.3 L1043.5 437.5 L1042.9 433.6 L1044.4 434 L1045.5 438.1 L1046.9 438.6 L1046.8 434.8 L1048.4 435.5 L1049.1 439.5 L1050.5 440.2 L1050.8 436.7 L1052.4 437.6 L1052.6 441.5 L1054.1 442.4 L1054.8 439.2 L1056.4 440.4 L1056.2 444 L1057.6 445.2 L1058.7 442.4 L1060.3 443.8 L1059.7 447 L1061 448.4 L1062.6 446 L1064 447.6 L1063 450.5 L1064.2 452 L1066.2 450.2 L1067.5 451.9 L1066.1 454.4 L1067.2 456 L1069.5 454.7 L1070.7 456.6 L1068.9 458.6Z" fill="#fff" stroke="#222" stroke-width="1.1"/>
<ellipse cx="1051.4" cy="471" rx="19.7" ry="34.1" transform="rotate(-30 1051.4 471)" fill="none" stroke="#222" stroke-width="0.935"/>
<ellipse cx="1051.4" cy="471" rx="12" ry="20.8" transform="rotate(-30 1051.4 471)" fill="none" stroke="#222" stroke-width="0.935"/>
<ellipse cx="1051.4" cy="471" rx="8.6" ry="15" transform="rotate(-30 1051.4 471)" fill="none" stroke="#222" stroke-width="0.935"/>
<clipPath id="gb16"><ellipse cx="1051.4" cy="471" rx="8.6" ry="15" transform="rotate(-30 1051.4 471)" fill="#000" stroke="none" stroke-width="0"/></clipPath>
<g clip-path="url(#gb16)"><ellipse cx="1066.1" cy="462.5" rx="8.6" ry="15" transform="rotate(-30 1066.1 462.5)" fill="none" stroke="#222" stroke-width="0.8"/><line x1="1053" y1="484" x2="1067.7" y2="475.6" stroke="#222" stroke-width="0.6"/><line x1="1048.8" y1="481.4" x2="1063.5" y2="472.9" stroke="#222" stroke-width="0.6"/><line x1="1045" y1="477.1" x2="1059.7" y2="468.6" stroke="#222" stroke-width="0.6"/><line x1="1042.3" y1="471.9" x2="1056.9" y2="463.4" stroke="#222" stroke-width="0.6"/><line x1="1040.9" y1="466.5" x2="1055.6" y2="458" stroke="#222" stroke-width="0.6"/><line x1="1041.2" y1="461.8" x2="1055.9" y2="453.4" stroke="#222" stroke-width="0.6"/></g>
<path d="M1064.2 457.2 L1066.7 461 L1068.9 465 L1070.8 469.1 L1072.2 473.3 L1073.2 477.4 L1073.7 481.4 L1073.8 485.1 L1073.4 488.6 L1067 483.5 L1067.3 481 L1067.2 478.3 L1066.8 475.5 L1066.1 472.6 L1065.1 469.7 L1063.8 466.7 L1062.3 463.9 L1060.5 461.2Z" fill="none" stroke="#222" stroke-width="0.8800000000000001"/>
<path d="M1060.9 499.9 L1057.9 499.5 L1054.8 498.5 L1051.5 497 L1048.3 494.9 L1045.2 492.3 L1042.1 489.2 L1039.3 485.8 L1036.7 482.1 L1041 478.8 L1042.8 481.5 L1044.8 483.9 L1047 486.1 L1049.2 487.9 L1051.5 489.4 L1053.8 490.5 L1056 491.2 L1058.1 491.5Z" fill="none" stroke="#222" stroke-width="0.8800000000000001"/>
<path d="M1029.1 455.9 L1029.6 452.5 L1030.5 449.5 L1031.9 446.9 L1033.7 444.9 L1035.9 443.3 L1038.3 442.4 L1041.1 442 L1044.1 442.3 L1046.2 450.7 L1044.1 450.5 L1042.2 450.7 L1040.4 451.4 L1038.9 452.5 L1037.6 454 L1036.6 455.8 L1035.9 457.9 L1035.6 460.3Z" fill="none" stroke="#222" stroke-width="0.8800000000000001"/>
<ellipse cx="1014.2" cy="491.6" rx="8.8" ry="15.3" transform="rotate(-30 1014.2 491.6)" fill="#fff" stroke="#111" stroke-width="1.5"/>
<path d="M991.1 487.2 L1006.6 478.3 L1021.9 504.9 L1006.4 513.8Z" fill="#fff" stroke="none" stroke-width="0"/>
<path d="M991.1 487.2 L992 486.9 L992.9 486.6 L993.9 486.5 L994.9 486.6 L996 486.8 L997.1 487.2 L998.2 487.7 L999.4 488.4 L1000.5 489.1 L1001.6 490.1 L1002.7 491.1 L1003.7 492.2 L1004.7 493.4 L1005.6 494.7 L1006.4 496.1 L1007.2 497.5 L1007.9 498.9 L1008.4 500.4 L1008.9 501.9 L1009.2 503.3 L1009.5 504.7 L1009.6 506.1 L1009.6 507.4 L1009.5 508.6 L1009.2 509.8 L1008.9 510.8 L1008.4 511.7 L1007.9 512.5 L1007.2 513.2 L1006.4 513.8 L1021.9 504.9 L1022.6 504.3 L1023.3 503.6 L1023.9 502.8 L1024.3 501.9 L1024.7 500.9 L1024.9 499.7 L1025 498.5 L1025 497.2 L1024.9 495.8 L1024.7 494.4 L1024.3 493 L1023.9 491.5 L1023.3 490 L1022.6 488.6 L1021.9 487.2 L1021 485.8 L1020.1 484.5 L1019.1 483.3 L1018.1 482.2 L1017 481.2 L1015.9 480.2 L1014.8 479.5 L1013.6 478.8 L1012.5 478.3 L1011.4 477.9 L1010.3 477.7 L1009.3 477.6 L1008.3 477.7 L1007.4 478 L1006.6 478.3Z" fill="#b8b8b8" stroke="none" stroke-width="0"/>
<line x1="1007.2" y1="497.4" x2="1022.6" y2="488.5" stroke="#111" stroke-width="1.4"/>
<line x1="1008.9" y1="501.8" x2="1024.3" y2="492.9" stroke="#111" stroke-width="1.4"/>
<line x1="1009.6" y1="506" x2="1025" y2="497.1" stroke="#111" stroke-width="1.4"/>
<line x1="1009.3" y1="509.7" x2="1024.7" y2="500.8" stroke="#111" stroke-width="1.4"/>
<line x1="1007.9" y1="512.5" x2="1023.3" y2="503.6" stroke="#111" stroke-width="1.4"/>
<line x1="992" y1="486.9" x2="1007.4" y2="478" stroke="#111" stroke-width="1.4"/>
<line x1="994.9" y1="486.6" x2="1010.3" y2="477.7" stroke="#111" stroke-width="1.4"/>
<line x1="998.2" y1="487.7" x2="1013.6" y2="478.8" stroke="#111" stroke-width="1.4"/>
<line x1="1001.5" y1="490" x2="1017" y2="481.1" stroke="#111" stroke-width="1.4"/>
<line x1="1004.6" y1="493.4" x2="1020.1" y2="484.5" stroke="#111" stroke-width="1.4"/>
<path d="M998.9 482.8 L999.7 482.4 L1000.6 482.2 L1001.6 482.1 L1002.6 482.2 L1003.7 482.4 L1004.8 482.7 L1005.9 483.3 L1007.1 483.9 L1008.2 484.7 L1009.3 485.6 L1010.4 486.6 L1011.4 487.8 L1012.4 489 L1013.3 490.3 L1014.2 491.6 L1014.9 493 L1015.6 494.5 L1016.1 495.9 L1016.6 497.4 L1017 498.8 L1017.2 500.3 L1017.3 501.6 L1017.3 502.9 L1017.2 504.2 L1017 505.3 L1016.6 506.4 L1016.1 507.3 L1015.6 508.1 L1014.9 508.8 L1014.2 509.3" fill="none" stroke="#111" stroke-width="1.1"/>
<line x1="991.1" y1="487.2" x2="1006.6" y2="478.3" stroke="#111" stroke-width="1.5"/>
<line x1="1006.4" y1="513.8" x2="1021.9" y2="504.9" stroke="#111" stroke-width="1.5"/>
<ellipse cx="998.8" cy="500.5" rx="8.8" ry="15.3" transform="rotate(-30 998.8 500.5)" fill="#c8c8c8" stroke="#111" stroke-width="1.4"/>
<ellipse cx="998.8" cy="500.5" rx="6.9" ry="11.9" transform="rotate(-30 998.8 500.5)" fill="#d8d8d8" stroke="#111" stroke-width="1.0"/>
<line x1="1004.8" y1="497.1" x2="1006.3" y2="496.2" stroke="#111" stroke-width="1.3"/>
<line x1="1006.4" y1="500.8" x2="1008.4" y2="500.9" stroke="#111" stroke-width="1.3"/>
<line x1="1007.2" y1="504.5" x2="1009.4" y2="505.5" stroke="#111" stroke-width="1.3"/>
<line x1="1006.9" y1="507.7" x2="1009" y2="509.6" stroke="#111" stroke-width="1.3"/>
<line x1="1005.7" y1="510.1" x2="1007.5" y2="512.5" stroke="#111" stroke-width="1.3"/>
<line x1="1003.6" y1="511.3" x2="1004.9" y2="514" stroke="#111" stroke-width="1.3"/>
<line x1="1001" y1="511.2" x2="1001.5" y2="513.9" stroke="#111" stroke-width="1.3"/>
<line x1="998.1" y1="509.8" x2="997.9" y2="512.2" stroke="#111" stroke-width="1.3"/>
<line x1="995.2" y1="507.3" x2="994.3" y2="509" stroke="#111" stroke-width="1.3"/>
<line x1="992.8" y1="503.9" x2="991.3" y2="504.8" stroke="#111" stroke-width="1.3"/>
<line x1="991.2" y1="500.2" x2="989.2" y2="500.1" stroke="#111" stroke-width="1.3"/>
<line x1="990.4" y1="496.5" x2="988.2" y2="495.5" stroke="#111" stroke-width="1.3"/>
<line x1="990.7" y1="493.3" x2="988.6" y2="491.4" stroke="#111" stroke-width="1.3"/>
<line x1="991.9" y1="490.9" x2="990.1" y2="488.5" stroke="#111" stroke-width="1.3"/>
<line x1="994" y1="489.7" x2="992.7" y2="487" stroke="#111" stroke-width="1.3"/>
<line x1="996.6" y1="489.8" x2="996.1" y2="487.1" stroke="#111" stroke-width="1.3"/>
<line x1="999.5" y1="491.2" x2="999.7" y2="488.8" stroke="#111" stroke-width="1.3"/>
<line x1="1002.4" y1="493.7" x2="1003.3" y2="492" stroke="#111" stroke-width="1.3"/>
<clipPath id="cc17"><ellipse cx="998.8" cy="500.5" rx="6.9" ry="11.9" transform="rotate(-30 998.8 500.5)" fill="#000" stroke="none" stroke-width="0"/></clipPath>
<g clip-path="url(#cc17)"><line x1="1004.8" y1="497.1" x2="1020.2" y2="488.2" stroke="#111" stroke-width="1.2"/><line x1="1006.6" y1="501.3" x2="1022" y2="492.4" stroke="#111" stroke-width="1.2"/><line x1="1007.2" y1="505.4" x2="1022.7" y2="496.5" stroke="#111" stroke-width="1.2"/><line x1="1006.6" y1="508.7" x2="1022" y2="499.8" stroke="#111" stroke-width="1.2"/><line x1="1004.8" y1="510.8" x2="1020.2" y2="501.9" stroke="#111" stroke-width="1.2"/><line x1="1002" y1="511.4" x2="1017.4" y2="502.5" stroke="#111" stroke-width="1.2"/><line x1="998.8" y1="510.2" x2="1014.2" y2="501.3" stroke="#111" stroke-width="1.2"/><line x1="995.6" y1="507.6" x2="1011" y2="498.7" stroke="#111" stroke-width="1.2"/><line x1="992.8" y1="503.9" x2="1008.3" y2="495" stroke="#111" stroke-width="1.2"/><line x1="991" y1="499.7" x2="1006.4" y2="490.8" stroke="#111" stroke-width="1.2"/><line x1="990.4" y1="495.6" x2="1005.8" y2="486.7" stroke="#111" stroke-width="1.2"/><line x1="991" y1="492.3" x2="1006.4" y2="483.4" stroke="#111" stroke-width="1.2"/><line x1="992.8" y1="490.2" x2="1008.2" y2="481.3" stroke="#111" stroke-width="1.2"/><line x1="995.6" y1="489.6" x2="1011" y2="480.7" stroke="#111" stroke-width="1.2"/><line x1="998.8" y1="490.8" x2="1014.2" y2="481.9" stroke="#111" stroke-width="1.2"/><line x1="1002" y1="493.4" x2="1017.4" y2="484.5" stroke="#111" stroke-width="1.2"/></g>
<path d="M986.7 517.4 L989.1 518.3 L990.9 524.9 L988.6 525 L985.9 540.2 L987.6 543.4 L984.2 546 L982.1 543.2 L968.1 540.8 L967.3 543.1 L962.2 539 L962.3 536.2 L951 518.6 L948.6 517.7 L946.9 511.1 L949.1 511 L951.8 495.8 L950.1 492.6 L953.5 490 L955.6 492.8 L969.6 495.2 L970.4 492.9 L975.5 497 L975.4 499.8Z" fill="#fff" stroke="#222" stroke-width="1.0"/>
<path d="M940.8 501.3 L954.6 493.3 L983.1 542.7 L969.2 550.7Z" fill="#fff" stroke="none" stroke-width="0"/>
<line x1="940.8" y1="501.3" x2="954.6" y2="493.3" stroke="#222" stroke-width="1.0"/>
<line x1="969.2" y1="550.7" x2="983.1" y2="542.7" stroke="#222" stroke-width="1.0"/>
<line x1="975.3" y1="526.3" x2="989.1" y2="518.3" stroke="#222" stroke-width="0.9"/>
<line x1="977" y1="532.9" x2="990.9" y2="524.9" stroke="#222" stroke-width="0.9"/>
<line x1="972.8" y1="525.4" x2="986.7" y2="517.4" stroke="#222" stroke-width="0.7"/>
<line x1="974.8" y1="533" x2="988.6" y2="525" stroke="#222" stroke-width="0.7"/>
<line x1="973.7" y1="551.4" x2="987.6" y2="543.4" stroke="#222" stroke-width="0.9"/>
<line x1="970.3" y1="554" x2="984.2" y2="546" stroke="#222" stroke-width="0.9"/>
<line x1="972.1" y1="548.2" x2="985.9" y2="540.2" stroke="#222" stroke-width="0.7"/>
<line x1="968.2" y1="551.2" x2="982.1" y2="543.2" stroke="#222" stroke-width="0.7"/>
<line x1="939.7" y1="498" x2="953.5" y2="490" stroke="#222" stroke-width="0.9"/>
<line x1="941.8" y1="500.8" x2="955.6" y2="492.8" stroke="#222" stroke-width="0.7"/>
<line x1="956.6" y1="500.9" x2="970.4" y2="492.9" stroke="#222" stroke-width="0.9"/>
<line x1="961.7" y1="505" x2="975.5" y2="497" stroke="#222" stroke-width="0.9"/>
<line x1="955.8" y1="503.2" x2="969.6" y2="495.2" stroke="#222" stroke-width="0.7"/>
<line x1="961.5" y1="507.8" x2="975.4" y2="499.8" stroke="#222" stroke-width="0.7"/>
<path d="M972.8 525.4 L975.3 526.3 L977 532.9 L974.8 533 L972.1 548.2 L973.7 551.4 L970.3 554 L968.2 551.2 L954.2 548.8 L953.4 551.1 L948.3 547 L948.5 544.2 L937.2 526.6 L934.7 525.7 L933 519.1 L935.2 519 L937.9 503.8 L936.3 500.6 L939.7 498 L941.8 500.8 L955.8 503.2 L956.6 500.9 L961.7 505 L961.5 507.8Z" fill="#fff" stroke="#222" stroke-width="1.0"/>
<ellipse cx="955" cy="526" rx="15.1" ry="26.2" transform="rotate(-30 955 526)" fill="none" stroke="#222" stroke-width="0.8"/>
<ellipse cx="955" cy="526" rx="12.2" ry="21.1" transform="rotate(-30 955 526)" fill="#fff" stroke="#222" stroke-width="1.0"/>
<path d="M964.1 520.7 L965.7 520.6 L966.7 522.5 L965.5 523.5 L966.3 525.4 L968.1 526 L968.7 527.9 L967.2 528.2 L967.6 530.1 L969.5 531.3 L969.7 533.1 L967.9 532.8 L967.9 534.5 L969.6 536.2 L969.4 537.8 L967.5 536.8 L967.1 538.2 L968.6 540.3 L968 541.5 L966.2 539.9 L965.3 540.9 L966.5 543.3 L965.5 544 L963.9 541.9 L962.7 542.4 L963.4 544.8 L962.2 545 L960.9 542.6 L959.5 542.6 L959.7 544.8 L958.3 544.4 L957.4 542 L955.9 541.4 L955.6 543.3 L954.1 542.4 L953.8 540.1 L952.3 539 L951.4 540.4 L950 539.1 L950.2 537 L948.8 535.5 L947.5 536.3 L946.3 534.7 L947 533.1 L945.9 531.3 L944.3 531.4 L943.3 529.5 L944.5 528.5 L943.7 526.6 L941.9 526 L941.3 524.1 L942.8 523.8 L942.4 521.9 L940.5 520.7 L940.3 518.9 L942.1 519.2 L942.1 517.5 L940.4 515.8 L940.6 514.2 L942.5 515.2 L942.9 513.8 L941.4 511.7 L942 510.5 L943.8 512.1 L944.7 511.1 L943.5 508.7 L944.5 508 L946.1 510.1 L947.3 509.6 L946.6 507.2 L947.8 507 L949.1 509.4 L950.5 509.4 L950.3 507.2 L951.7 507.6 L952.6 510 L954.1 510.6 L954.4 508.7 L955.9 509.6 L956.2 511.9 L957.7 513 L958.6 511.6 L960 512.9 L959.8 515 L961.2 516.5 L962.5 515.7 L963.7 517.3 L963 518.9Z" fill="none" stroke="#222" stroke-width="0.8"/>
<path d="M967 531.5 L969.8 532.8 L969.1 539.8 L966.4 537.2Z" fill="#fff" stroke="#222" stroke-width="0.9"/>
<path d="M950.1 535.9 L948.9 538.2 L943.7 530.7 L945.9 529.8Z" fill="#fff" stroke="#222" stroke-width="0.9"/>
<path d="M947.9 510.6 L946.2 507 L952.2 507.5 L952.7 511Z" fill="#fff" stroke="#222" stroke-width="0.9"/>
<path d="M918 547.8 L919.1 547.8 L919.9 549.2 L919.2 550 L919.9 551.6 L921.1 551.8 L921.7 553.3 L920.8 553.8 L921.4 555.4 L922.6 556 L923 557.4 L922 557.7 L922.3 559.2 L923.6 560 L923.8 561.4 L922.6 561.4 L922.7 562.8 L923.9 563.9 L923.9 565.2 L922.7 564.9 L922.6 566.2 L923.7 567.5 L923.5 568.6 L922.2 568 L921.9 569.1 L922.9 570.6 L922.5 571.6 L921.2 570.6 L920.7 571.6 L921.6 573.1 L921 573.9 L919.8 572.8 L919 573.4 L919.7 575.1 L918.9 575.6 L917.8 574.2 L916.9 574.7 L917.4 576.3 L916.5 576.5 L915.5 575 L914.5 575.2 L914.7 576.8 L913.7 576.7 L912.9 575.2 L911.7 575 L911.8 576.5 L910.7 576.2 L910.1 574.6 L908.9 574.1 L908.6 575.4 L907.5 574.9 L907.1 573.3 L905.9 572.6 L905.4 573.7 L904.3 572.9 L904.1 571.3 L902.9 570.4 L902.3 571.3 L901.2 570.3 L901.3 568.8 L900.1 567.7 L899.3 568.3 L898.3 567.1 L898.6 565.8 L897.5 564.5 L896.5 564.8 L895.6 563.5 L896.1 562.4 L895.2 561 L894.1 561 L893.4 559.6 L894.1 558.8 L893.3 557.2 L892.1 557 L891.5 555.5 L892.4 555 L891.9 553.4 L890.6 552.8 L890.2 551.4 L891.3 551.1 L890.9 549.6 L889.7 548.8 L889.5 547.4 L890.6 547.4 L890.5 546 L889.3 544.9 L889.3 543.6 L890.5 543.9 L890.7 542.6 L889.5 541.3 L889.7 540.2 L891 540.8 L891.3 539.7 L890.3 538.2 L890.7 537.2 L892 538.2 L892.5 537.2 L891.7 535.7 L892.3 534.9 L893.5 536 L894.2 535.4 L893.5 533.7 L894.3 533.2 L895.4 534.6 L896.3 534.1 L895.9 532.5 L896.7 532.3 L897.7 533.8 L898.8 533.6 L898.5 532 L899.5 532.1 L900.4 533.6 L901.5 533.8 L901.5 532.3 L902.6 532.6 L903.2 534.2 L904.4 534.7 L904.6 533.4 L905.7 533.9 L906.1 535.5 L907.4 536.2 L907.8 535.1 L908.9 535.9 L909.1 537.5 L910.3 538.4 L911 537.5 L912 538.5 L912 540 L913.1 541.1 L914 540.5 L915 541.7 L914.7 543 L915.7 544.3 L916.7 544 L917.6 545.3 L917.1 546.4Z" fill="#fff" stroke="#111" stroke-width="1.6"/>
<path d="M877.9 544.7 L895.2 534.7 L918 574.1 L900.7 584.1Z" fill="#fff" stroke="none" stroke-width="0"/>
<line x1="901.8" y1="557.8" x2="919.1" y2="547.8" stroke="#111" stroke-width="1.0"/>
<line x1="902.6" y1="559.2" x2="919.9" y2="549.2" stroke="#111" stroke-width="1.0"/>
<line x1="903.8" y1="561.8" x2="921.1" y2="551.8" stroke="#111" stroke-width="1.0"/>
<line x1="904.4" y1="563.3" x2="921.7" y2="553.3" stroke="#111" stroke-width="1.0"/>
<line x1="905.3" y1="566" x2="922.6" y2="556" stroke="#111" stroke-width="1.0"/>
<line x1="905.7" y1="567.4" x2="923" y2="557.4" stroke="#111" stroke-width="1.0"/>
<line x1="906.2" y1="570" x2="923.6" y2="560" stroke="#111" stroke-width="1.0"/>
<line x1="906.4" y1="571.4" x2="923.8" y2="561.4" stroke="#111" stroke-width="1.0"/>
<line x1="906.6" y1="573.9" x2="923.9" y2="563.9" stroke="#111" stroke-width="1.0"/>
<line x1="906.6" y1="575.2" x2="923.9" y2="565.2" stroke="#111" stroke-width="1.0"/>
<line x1="906.4" y1="577.5" x2="923.7" y2="567.5" stroke="#111" stroke-width="1.0"/>
<line x1="906.2" y1="578.6" x2="923.5" y2="568.6" stroke="#111" stroke-width="1.0"/>
<line x1="905.6" y1="580.6" x2="922.9" y2="570.6" stroke="#111" stroke-width="1.0"/>
<line x1="905.2" y1="581.6" x2="922.5" y2="571.6" stroke="#111" stroke-width="1.0"/>
<line x1="904.2" y1="583.1" x2="921.6" y2="573.1" stroke="#111" stroke-width="1.0"/>
<line x1="903.6" y1="583.9" x2="921" y2="573.9" stroke="#111" stroke-width="1.0"/>
<line x1="902.4" y1="585.1" x2="919.7" y2="575.1" stroke="#111" stroke-width="1.0"/>
<line x1="901.6" y1="585.6" x2="918.9" y2="575.6" stroke="#111" stroke-width="1.0"/>
<line x1="876.2" y1="543.7" x2="893.5" y2="533.7" stroke="#111" stroke-width="1.0"/>
<line x1="877" y1="543.2" x2="894.3" y2="533.2" stroke="#111" stroke-width="1.0"/>
<line x1="878.5" y1="542.5" x2="895.9" y2="532.5" stroke="#111" stroke-width="1.0"/>
<line x1="879.4" y1="542.3" x2="896.7" y2="532.3" stroke="#111" stroke-width="1.0"/>
<line x1="881.2" y1="542" x2="898.5" y2="532" stroke="#111" stroke-width="1.0"/>
<line x1="882.2" y1="542.1" x2="899.5" y2="532.1" stroke="#111" stroke-width="1.0"/>
<line x1="884.2" y1="542.3" x2="901.5" y2="532.3" stroke="#111" stroke-width="1.0"/>
<line x1="885.2" y1="542.6" x2="902.6" y2="532.6" stroke="#111" stroke-width="1.0"/>
<line x1="887.3" y1="543.4" x2="904.6" y2="533.4" stroke="#111" stroke-width="1.0"/>
<line x1="888.4" y1="543.9" x2="905.7" y2="533.9" stroke="#111" stroke-width="1.0"/>
<line x1="890.5" y1="545.1" x2="907.8" y2="535.1" stroke="#111" stroke-width="1.0"/>
<line x1="891.6" y1="545.9" x2="908.9" y2="535.9" stroke="#111" stroke-width="1.0"/>
<line x1="893.6" y1="547.5" x2="911" y2="537.5" stroke="#111" stroke-width="1.0"/>
<line x1="894.7" y1="548.5" x2="912" y2="538.5" stroke="#111" stroke-width="1.0"/>
<line x1="896.6" y1="550.5" x2="914" y2="540.5" stroke="#111" stroke-width="1.0"/>
<line x1="897.6" y1="551.7" x2="915" y2="541.7" stroke="#111" stroke-width="1.0"/>
<line x1="899.4" y1="554" x2="916.7" y2="544" stroke="#111" stroke-width="1.0"/>
<line x1="900.3" y1="555.3" x2="917.6" y2="545.3" stroke="#111" stroke-width="1.0"/>
<path d="M900.7 557.8 L901.8 557.8 L902.6 559.2 L901.9 560 L902.6 561.6 L903.8 561.8 L904.4 563.3 L903.5 563.8 L904 565.4 L905.3 566 L905.7 567.4 L904.7 567.7 L905 569.2 L906.2 570 L906.4 571.4 L905.3 571.4 L905.4 572.8 L906.6 573.9 L906.6 575.2 L905.4 574.9 L905.3 576.2 L906.4 577.5 L906.2 578.6 L904.9 578 L904.6 579.1 L905.6 580.6 L905.2 581.6 L903.9 580.6 L903.4 581.6 L904.2 583.1 L903.6 583.9 L902.4 582.8 L901.7 583.4 L902.4 585.1 L901.6 585.6 L900.5 584.2 L899.6 584.7 L900.1 586.3 L899.2 586.5 L898.2 585 L897.1 585.2 L897.4 586.8 L896.4 586.7 L895.6 585.2 L894.4 585 L894.4 586.5 L893.4 586.2 L892.7 584.6 L891.5 584.1 L891.3 585.4 L890.2 584.9 L889.8 583.3 L888.6 582.6 L888.1 583.7 L887 582.9 L886.8 581.3 L885.6 580.4 L885 581.3 L883.9 580.3 L883.9 578.8 L882.8 577.7 L882 578.3 L881 577.1 L881.2 575.8 L880.2 574.5 L879.2 574.8 L878.3 573.5 L878.8 572.4 L877.9 571 L876.8 571 L876 569.6 L876.7 568.8 L876 567.2 L874.8 567 L874.2 565.5 L875.1 565 L874.6 563.4 L873.3 562.8 L872.9 561.4 L873.9 561.1 L873.6 559.6 L872.4 558.8 L872.2 557.4 L873.3 557.4 L873.2 556 L872 554.9 L872 553.6 L873.2 553.9 L873.3 552.6 L872.2 551.3 L872.4 550.2 L873.7 550.8 L874 549.7 L873 548.2 L873.4 547.2 L874.7 548.2 L875.2 547.2 L874.4 545.7 L875 544.9 L876.2 546 L876.9 545.4 L876.2 543.7 L877 543.2 L878.1 544.6 L879 544.1 L878.5 542.5 L879.4 542.3 L880.4 543.8 L881.5 543.6 L881.2 542 L882.2 542.1 L883 543.6 L884.2 543.8 L884.2 542.3 L885.2 542.6 L885.9 544.2 L887.1 544.7 L887.3 543.4 L888.4 543.9 L888.8 545.5 L890 546.2 L890.5 545.1 L891.6 545.9 L891.8 547.5 L893 548.4 L893.6 547.5 L894.7 548.5 L894.7 550 L895.8 551.1 L896.6 550.5 L897.6 551.7 L897.4 553 L898.4 554.3 L899.4 554 L900.3 555.3 L899.8 556.4Z" fill="#fff" stroke="#111" stroke-width="1.6"/>
<ellipse cx="889.3" cy="564.4" rx="11.3" ry="19.6" transform="rotate(-30 889.3 564.4)" fill="none" stroke="#111" stroke-width="1.0"/>
<path d="M897.6 559.6 L899.1 559.4 L899.9 561 L898.8 561.9 L899.5 563.5 L901.1 563.9 L901.7 565.5 L900.3 565.8 L900.7 567.5 L902.4 568.4 L902.6 569.9 L901 569.7 L901.1 571.2 L902.7 572.6 L902.6 574 L900.9 573.2 L900.7 574.5 L902.2 576.3 L901.8 577.4 L900.1 576.1 L899.5 577.1 L900.7 579.2 L900 579.9 L898.5 578.2 L897.6 578.8 L898.5 581 L897.6 581.4 L896.3 579.4 L895.2 579.6 L895.7 581.7 L894.5 581.7 L893.6 579.5 L892.4 579.3 L892.4 581.3 L891.2 580.8 L890.6 578.7 L889.3 578 L888.9 579.7 L887.7 578.9 L887.5 576.8 L886.3 575.8 L885.4 577 L884.3 575.9 L884.5 574.1 L883.4 572.8 L882.2 573.5 L881.2 572.1 L881.9 570.7 L881 569.2 L879.5 569.4 L878.7 567.8 L879.8 566.9 L879.1 565.3 L877.5 564.9 L876.9 563.3 L878.3 563 L877.9 561.3 L876.2 560.4 L876 558.9 L877.6 559.1 L877.5 557.6 L875.9 556.2 L876 554.8 L877.7 555.6 L877.9 554.3 L876.4 552.5 L876.8 551.4 L878.5 552.7 L879.1 551.7 L877.9 549.6 L878.6 548.9 L880.1 550.6 L881 550 L880.1 547.8 L881 547.4 L882.3 549.4 L883.4 549.2 L882.9 547.1 L884.1 547.1 L885 549.3 L886.2 549.5 L886.2 547.5 L887.4 548 L888 550.1 L889.3 550.8 L889.7 549.1 L890.9 549.9 L891.1 552 L892.3 553 L893.2 551.8 L894.3 552.9 L894.1 554.7 L895.2 556 L896.4 555.3 L897.4 556.7 L896.7 558.1Z" fill="none" stroke="#111" stroke-width="0.8"/>
<line x1="901" y1="579.7" x2="918.4" y2="569.7" stroke="#111" stroke-width="0.6"/>
<line x1="896.7" y1="582.2" x2="914" y2="572.2" stroke="#111" stroke-width="0.6"/>
<line x1="890.9" y1="581.2" x2="908.2" y2="571.2" stroke="#111" stroke-width="0.6"/>
<line x1="884.7" y1="576.9" x2="902" y2="566.9" stroke="#111" stroke-width="0.6"/>
<line x1="879.5" y1="570.1" x2="896.8" y2="560.1" stroke="#111" stroke-width="0.6"/>
<line x1="876.2" y1="562.1" x2="893.5" y2="552.1" stroke="#111" stroke-width="0.6"/>
<line x1="875.5" y1="554.7" x2="892.9" y2="544.7" stroke="#111" stroke-width="0.6"/>
<line x1="877.6" y1="549.1" x2="894.9" y2="539.1" stroke="#111" stroke-width="0.6"/>
<line x1="881.9" y1="546.6" x2="899.2" y2="536.6" stroke="#111" stroke-width="0.6"/>
<path d="M846.5 573.2 L846.3 571.7 L846.2 570.3 L846.3 569 L846.5 567.8 L846.8 566.7 L847.3 565.7 L847.8 564.9 L848.5 564.2 L849.3 563.6 L850.1 563.2 L851.1 562.9 L852.1 562.9 L853.2 562.9 L854.3 563.2 L855.4 563.6 L856.6 564.2 L857.8 564.9 L858.9 565.7 L860 566.7 L861.1 567.8 L862.2 569 L863.1 570.3 L864 571.7 L864.9 573.2" fill="none" stroke="#111" stroke-width="2.2" stroke-linecap="round"/>
<path d="M873.5 590.8 L873.7 592.3 L873.8 593.7 L873.7 595 L873.5 596.2 L873.2 597.3 L872.7 598.3 L872.2 599.1 L871.5 599.8 L870.7 600.4 L869.9 600.8 L868.9 601.1 L867.9 601.1 L866.8 601.1 L865.7 600.8 L864.6 600.4 L863.4 599.8 L862.2 599.1 L861.1 598.3 L860 597.3 L858.9 596.2 L857.8 595 L856.9 593.7 L856 592.3 L855.1 590.8" fill="none" stroke="#111" stroke-width="2.2" stroke-linecap="round"/>
<ellipse cx="837.1" cy="595.2" rx="12.1" ry="21" transform="rotate(-30 837.1 595.2)" fill="none" stroke="#222" stroke-width="1.0"/>
<path d="M845 590.7 L846.4 590.5 L847.3 592.1 L846.2 593 L846.8 594.7 L848.5 595.2 L849 596.8 L847.6 597.1 L848 598.7 L849.7 599.8 L849.8 601.4 L848.2 601 L848.2 602.5 L849.8 604.1 L849.6 605.4 L847.9 604.5 L847.5 605.7 L848.9 607.6 L848.4 608.7 L846.7 607.2 L846 608 L847.1 610.2 L846.2 610.8 L844.8 608.9 L843.8 609.3 L844.4 611.5 L843.3 611.7 L842.2 609.5 L841 609.5 L841.2 611.5 L839.9 611.2 L839.2 609 L837.9 608.5 L837.6 610.2 L836.3 609.5 L836 607.3 L834.7 606.4 L834 607.7 L832.7 606.5 L833 604.7 L831.8 603.4 L830.6 604.1 L829.5 602.7 L830.2 601.3 L829.2 599.7 L827.8 599.9 L826.9 598.3 L828 597.4 L827.4 595.7 L825.7 595.2 L825.2 593.6 L826.6 593.3 L826.2 591.7 L824.5 590.6 L824.4 589 L826 589.4 L826 587.9 L824.4 586.3 L824.6 585 L826.3 585.9 L826.7 584.7 L825.3 582.8 L825.8 581.7 L827.5 583.2 L828.2 582.4 L827.1 580.2 L828 579.6 L829.4 581.5 L830.4 581.1 L829.8 578.9 L830.9 578.7 L832 580.9 L833.2 580.9 L833 578.9 L834.3 579.2 L835 581.4 L836.3 581.9 L836.6 580.2 L837.9 580.9 L838.2 583.1 L839.5 584 L840.2 582.7 L841.5 583.9 L841.2 585.7 L842.4 587 L843.6 586.3 L844.7 587.7 L844 589.1Z" fill="none" stroke="#222" stroke-width="1.6"/>
<path d="M812 608.2 L815.1 607.2 L816.4 609.5 L813.8 611.3 L814.8 613.4 L818.2 613.1 L819.3 615.5 L816.2 616.6 L817.1 618.8 L820.7 619.2 L821.6 621.6 L818.2 622 L818.9 624.2 L822.7 625.2 L823.3 627.7 L819.7 627.4 L820.2 629.5 L824.1 631.2 L824.4 633.6 L820.7 632.7 L820.9 634.7 L824.8 637.1 L824.9 639.3 L821 637.7 L821 639.6 L824.9 642.6 L824.7 644.6 L820.8 642.4 L820.6 644.2 L824.3 647.7 L823.9 649.6 L820.1 646.7 L819.6 648.3 L823.2 652.2 L822.5 653.9 L818.7 650.5 L818.1 651.9 L821.4 656.3 L820.5 657.7 L816.9 653.8 L816 655 L819 659.6 L817.9 660.7 L814.6 656.5 L813.5 657.3 L816.1 662.2 L814.8 663 L811.8 658.5 L810.5 659.1 L812.7 664.1 L811.3 664.6 L808.6 659.7 L807.2 660 L808.9 665.1 L807.3 665.3 L805 660.3 L803.5 660.3 L804.8 665.3 L803.1 665.2 L801.2 660.1 L799.7 659.8 L800.4 664.7 L798.6 664.2 L797.2 659.2 L795.6 658.6 L795.8 663.3 L793.9 662.5 L793.1 657.6 L791.4 656.7 L791.1 661 L789.2 659.9 L788.9 655.2 L787.2 654.1 L786.4 658 L784.5 656.6 L784.7 652.3 L783.1 650.9 L781.7 654.4 L779.9 652.7 L780.7 648.7 L779.1 647.2 L777.3 650.1 L775.5 648.2 L776.8 644.7 L775.3 642.9 L773 645.2 L771.4 643.1 L773.2 640.1 L771.8 638.2 L769.1 639.9 L767.7 637.7 L769.9 635.3 L768.7 633.2 L765.6 634.2 L764.3 631.9 L767 630.1 L765.9 628 L762.5 628.3 L761.5 625.9 L764.5 624.8 L763.6 622.6 L760 622.2 L759.1 619.8 L762.5 619.4 L761.8 617.2 L758 616.2 L757.4 613.7 L761 614 L760.6 611.9 L756.7 610.2 L756.3 607.8 L760.1 608.7 L759.8 606.7 L755.9 604.3 L755.8 602.1 L759.7 603.7 L759.7 601.8 L755.8 598.8 L756 596.8 L759.9 599 L760.1 597.2 L756.4 593.7 L756.8 591.8 L760.7 594.7 L761.1 593.1 L757.6 589.2 L758.2 587.5 L762 590.9 L762.7 589.5 L759.3 585.1 L760.2 583.7 L763.8 587.6 L764.7 586.4 L761.7 581.8 L762.8 580.7 L766.2 584.9 L767.2 584.1 L764.6 579.2 L765.9 578.4 L769 582.9 L770.2 582.3 L768 577.3 L769.5 576.8 L772.2 581.7 L773.5 581.4 L771.8 576.3 L773.4 576.1 L775.7 581.1 L777.2 581.1 L775.9 576.1 L777.7 576.2 L779.5 581.3 L781.1 581.6 L780.3 576.7 L782.2 577.2 L783.5 582.2 L785.1 582.8 L784.9 578.1 L786.8 578.9 L787.6 583.8 L789.3 584.7 L789.6 580.4 L791.5 581.5 L791.8 586.2 L793.5 587.3 L794.4 583.4 L796.2 584.8 L796 589.1 L797.6 590.5 L799 587 L800.8 588.7 L800 592.7 L801.6 594.2 L803.5 591.3 L805.2 593.2 L803.9 596.7 L805.4 598.5 L807.7 596.2 L809.3 598.3 L807.5 601.3 L808.9 603.2 L811.6 601.5 L813.1 603.7 L810.8 606.1Z" fill="#fff" stroke="#222" stroke-width="1.1"/>
<path d="M752.9 592.2 L768.7 583.1 L812.1 658.3 L796.3 667.4Z" fill="#fff" stroke="none" stroke-width="0"/>
<line x1="799.4" y1="616.3" x2="815.1" y2="607.2" stroke="#333" stroke-width="0.7"/>
<line x1="800.6" y1="618.6" x2="816.4" y2="609.5" stroke="#333" stroke-width="0.7"/>
<line x1="802.4" y1="622.2" x2="818.2" y2="613.1" stroke="#333" stroke-width="0.7"/>
<line x1="803.5" y1="624.6" x2="819.3" y2="615.5" stroke="#333" stroke-width="0.7"/>
<line x1="805" y1="628.3" x2="820.7" y2="619.2" stroke="#333" stroke-width="0.7"/>
<line x1="805.8" y1="630.7" x2="821.6" y2="621.6" stroke="#333" stroke-width="0.7"/>
<line x1="806.9" y1="634.3" x2="822.7" y2="625.2" stroke="#333" stroke-width="0.7"/>
<line x1="807.5" y1="636.8" x2="823.3" y2="627.7" stroke="#333" stroke-width="0.7"/>
<line x1="808.3" y1="640.3" x2="824.1" y2="631.2" stroke="#333" stroke-width="0.7"/>
<line x1="808.7" y1="642.7" x2="824.4" y2="633.6" stroke="#333" stroke-width="0.7"/>
<line x1="809" y1="646.2" x2="824.8" y2="637.1" stroke="#333" stroke-width="0.7"/>
<line x1="809.1" y1="648.4" x2="824.9" y2="639.3" stroke="#333" stroke-width="0.7"/>
<line x1="809.1" y1="651.7" x2="824.9" y2="642.6" stroke="#333" stroke-width="0.7"/>
<line x1="809" y1="653.7" x2="824.7" y2="644.6" stroke="#333" stroke-width="0.7"/>
<line x1="808.6" y1="656.8" x2="824.3" y2="647.7" stroke="#333" stroke-width="0.7"/>
<line x1="808.2" y1="658.7" x2="823.9" y2="649.6" stroke="#333" stroke-width="0.7"/>
<line x1="807.4" y1="661.3" x2="823.2" y2="652.2" stroke="#333" stroke-width="0.7"/>
<line x1="806.8" y1="663" x2="822.5" y2="653.9" stroke="#333" stroke-width="0.7"/>
<line x1="805.6" y1="665.4" x2="821.4" y2="656.3" stroke="#333" stroke-width="0.7"/>
<line x1="804.7" y1="666.8" x2="820.5" y2="657.7" stroke="#333" stroke-width="0.7"/>
<line x1="803.2" y1="668.7" x2="819" y2="659.6" stroke="#333" stroke-width="0.7"/>
<line x1="802.1" y1="669.8" x2="817.9" y2="660.7" stroke="#333" stroke-width="0.7"/>
<line x1="800.3" y1="671.3" x2="816.1" y2="662.2" stroke="#333" stroke-width="0.7"/>
<line x1="799.1" y1="672.1" x2="814.8" y2="663" stroke="#333" stroke-width="0.7"/>
<line x1="797" y1="673.2" x2="812.7" y2="664.1" stroke="#333" stroke-width="0.7"/>
<line x1="748.9" y1="588.3" x2="764.6" y2="579.2" stroke="#333" stroke-width="0.7"/>
<line x1="750.1" y1="587.5" x2="765.9" y2="578.4" stroke="#333" stroke-width="0.7"/>
<line x1="752.2" y1="586.4" x2="768" y2="577.3" stroke="#333" stroke-width="0.7"/>
<line x1="753.7" y1="585.9" x2="769.5" y2="576.8" stroke="#333" stroke-width="0.7"/>
<line x1="756" y1="585.4" x2="771.8" y2="576.3" stroke="#333" stroke-width="0.7"/>
<line x1="757.6" y1="585.2" x2="773.4" y2="576.1" stroke="#333" stroke-width="0.7"/>
<line x1="760.2" y1="585.2" x2="775.9" y2="576.1" stroke="#333" stroke-width="0.7"/>
<line x1="761.9" y1="585.3" x2="777.7" y2="576.2" stroke="#333" stroke-width="0.7"/>
<line x1="764.6" y1="585.8" x2="780.3" y2="576.7" stroke="#333" stroke-width="0.7"/>
<line x1="766.4" y1="586.3" x2="782.2" y2="577.2" stroke="#333" stroke-width="0.7"/>
<line x1="769.2" y1="587.2" x2="784.9" y2="578.1" stroke="#333" stroke-width="0.7"/>
<line x1="771.1" y1="588" x2="786.8" y2="578.9" stroke="#333" stroke-width="0.7"/>
<line x1="773.9" y1="589.5" x2="789.6" y2="580.4" stroke="#333" stroke-width="0.7"/>
<line x1="775.8" y1="590.6" x2="791.5" y2="581.5" stroke="#333" stroke-width="0.7"/>
<line x1="778.6" y1="592.5" x2="794.4" y2="583.4" stroke="#333" stroke-width="0.7"/>
<line x1="780.5" y1="593.9" x2="796.2" y2="584.8" stroke="#333" stroke-width="0.7"/>
<line x1="783.2" y1="596.1" x2="799" y2="587" stroke="#333" stroke-width="0.7"/>
<line x1="785" y1="597.8" x2="800.8" y2="588.7" stroke="#333" stroke-width="0.7"/>
<line x1="787.7" y1="600.4" x2="803.5" y2="591.3" stroke="#333" stroke-width="0.7"/>
<line x1="789.4" y1="602.3" x2="805.2" y2="593.2" stroke="#333" stroke-width="0.7"/>
<line x1="791.9" y1="605.3" x2="807.7" y2="596.2" stroke="#333" stroke-width="0.7"/>
<line x1="793.5" y1="607.4" x2="809.3" y2="598.3" stroke="#333" stroke-width="0.7"/>
<line x1="795.9" y1="610.6" x2="811.6" y2="601.5" stroke="#333" stroke-width="0.7"/>
<line x1="797.3" y1="612.8" x2="813.1" y2="603.7" stroke="#333" stroke-width="0.7"/>
<path d="M796.3 617.3 L799.4 616.3 L800.6 618.6 L798 620.4 L799 622.5 L802.4 622.2 L803.5 624.6 L800.5 625.7 L801.3 627.9 L805 628.3 L805.8 630.7 L802.5 631.1 L803.1 633.3 L806.9 634.3 L807.5 636.8 L804 636.5 L804.4 638.6 L808.3 640.3 L808.7 642.7 L804.9 641.8 L805.1 643.8 L809 646.2 L809.1 648.4 L805.3 646.8 L805.3 648.7 L809.1 651.7 L809 653.7 L805.1 651.5 L804.8 653.3 L808.6 656.8 L808.2 658.7 L804.3 655.8 L803.8 657.4 L807.4 661.3 L806.8 663 L803 659.6 L802.3 661 L805.6 665.4 L804.7 666.8 L801.1 662.9 L800.3 664.1 L803.2 668.7 L802.1 669.8 L798.8 665.6 L797.7 666.4 L800.3 671.3 L799.1 672.1 L796 667.6 L794.8 668.2 L797 673.2 L795.5 673.7 L792.8 668.8 L791.4 669.1 L793.2 674.2 L791.6 674.4 L789.3 669.4 L787.8 669.4 L789 674.4 L787.3 674.3 L785.5 669.2 L783.9 668.9 L784.6 673.8 L782.8 673.3 L781.5 668.3 L779.8 667.7 L780 672.4 L778.1 671.6 L777.3 666.7 L775.7 665.8 L775.3 670.1 L773.4 669 L773.1 664.3 L771.5 663.2 L770.6 667.1 L768.7 665.7 L769 661.4 L767.3 660 L766 663.5 L764.2 661.8 L764.9 657.8 L763.4 656.3 L761.5 659.2 L759.8 657.3 L761.1 653.8 L759.6 652 L757.3 654.3 L755.7 652.2 L757.4 649.2 L756.1 647.3 L753.3 649 L751.9 646.8 L754.1 644.4 L752.9 642.3 L749.8 643.3 L748.6 641 L751.2 639.2 L750.2 637.1 L746.8 637.4 L745.7 635 L748.7 633.9 L747.9 631.7 L744.2 631.3 L743.4 628.9 L746.7 628.5 L746.1 626.3 L742.3 625.3 L741.7 622.8 L745.2 623.1 L744.8 621 L740.9 619.3 L740.5 616.9 L744.3 617.8 L744.1 615.8 L740.2 613.4 L740.1 611.2 L743.9 612.8 L743.9 610.9 L740.1 607.9 L740.2 605.9 L744.1 608.1 L744.4 606.3 L740.6 602.8 L741 600.9 L744.9 603.8 L745.4 602.2 L741.8 598.3 L742.4 596.6 L746.2 600 L746.9 598.6 L743.6 594.2 L744.5 592.8 L748.1 596.7 L748.9 595.5 L746 590.9 L747.1 589.8 L750.4 594 L751.5 593.2 L748.9 588.3 L750.1 587.5 L753.2 592 L754.4 591.4 L752.2 586.4 L753.7 585.9 L756.4 590.8 L757.8 590.5 L756 585.4 L757.6 585.2 L759.9 590.2 L761.4 590.2 L760.2 585.2 L761.9 585.3 L763.7 590.4 L765.3 590.7 L764.6 585.8 L766.4 586.3 L767.7 591.3 L769.4 591.9 L769.2 587.2 L771.1 588 L771.9 592.9 L773.5 593.8 L773.9 589.5 L775.8 590.6 L776.1 595.3 L777.7 596.4 L778.6 592.5 L780.5 593.9 L780.2 598.2 L781.9 599.6 L783.2 596.1 L785 597.8 L784.3 601.8 L785.8 603.3 L787.7 600.4 L789.4 602.3 L788.1 605.8 L789.6 607.6 L791.9 605.3 L793.5 607.4 L791.8 610.4 L793.1 612.3 L795.9 610.6 L797.3 612.8 L795.1 615.2Z" fill="#fff" stroke="#222" stroke-width="1.1"/>
<ellipse cx="774.6" cy="629.8" rx="23.7" ry="41.1" transform="rotate(-30 774.6 629.8)" fill="none" stroke="#222" stroke-width="0.935"/>
<ellipse cx="774.6" cy="629.8" rx="14.1" ry="24.4" transform="rotate(-30 774.6 629.8)" fill="none" stroke="#222" stroke-width="0.935"/>
<ellipse cx="774.6" cy="629.8" rx="10.7" ry="18.6" transform="rotate(-30 774.6 629.8)" fill="none" stroke="#222" stroke-width="0.935"/>
<clipPath id="gb18"><ellipse cx="774.6" cy="629.8" rx="10.7" ry="18.6" transform="rotate(-30 774.6 629.8)" fill="#000" stroke="none" stroke-width="0"/></clipPath>
<g clip-path="url(#gb18)"><ellipse cx="793.5" cy="618.9" rx="10.7" ry="18.6" transform="rotate(-30 793.5 618.9)" fill="none" stroke="#222" stroke-width="0.8"/><line x1="776.6" y1="646" x2="795.6" y2="635" stroke="#222" stroke-width="0.6"/><line x1="771.4" y1="642.7" x2="790.3" y2="631.8" stroke="#222" stroke-width="0.6"/><line x1="766.7" y1="637.4" x2="785.6" y2="626.5" stroke="#222" stroke-width="0.6"/><line x1="763.2" y1="630.9" x2="782.2" y2="620" stroke="#222" stroke-width="0.6"/><line x1="761.6" y1="624.2" x2="780.5" y2="613.3" stroke="#222" stroke-width="0.6"/><line x1="761.9" y1="618.4" x2="780.9" y2="607.5" stroke="#222" stroke-width="0.6"/></g>
<ellipse cx="720.6" cy="660.8" rx="9.3" ry="16.2" transform="rotate(-30 720.6 660.8)" fill="#fff" stroke="#111" stroke-width="1.5"/>
<path d="M701.4 653.2 L712.5 646.8 L728.7 674.8 L717.6 681.2Z" fill="#fff" stroke="none" stroke-width="0"/>
<path d="M701.4 653.2 L702.3 652.8 L703.3 652.5 L704.3 652.4 L705.4 652.5 L706.5 652.7 L707.7 653.1 L708.9 653.6 L710.1 654.3 L711.3 655.2 L712.5 656.1 L713.6 657.2 L714.7 658.4 L715.7 659.7 L716.7 661.1 L717.6 662.5 L718.4 664 L719.1 665.5 L719.7 667.1 L720.2 668.6 L720.6 670.2 L720.8 671.7 L720.9 673.1 L720.9 674.5 L720.8 675.8 L720.6 677 L720.2 678.1 L719.7 679.1 L719.1 680 L718.4 680.7 L717.6 681.2 L728.7 674.8 L729.5 674.3 L730.2 673.6 L730.8 672.7 L731.3 671.7 L731.6 670.6 L731.9 669.4 L732 668.1 L732 666.7 L731.9 665.3 L731.6 663.8 L731.3 662.2 L730.8 660.7 L730.2 659.1 L729.5 657.6 L728.7 656.1 L727.8 654.7 L726.8 653.3 L725.8 652 L724.7 650.8 L723.5 649.7 L722.4 648.8 L721.2 647.9 L720 647.2 L718.8 646.7 L717.6 646.3 L716.5 646.1 L715.4 646 L714.3 646.1 L713.4 646.4 L712.5 646.8Z" fill="#b8b8b8" stroke="none" stroke-width="0"/>
<line x1="718.4" y1="664" x2="729.4" y2="657.6" stroke="#111" stroke-width="1.4"/>
<line x1="720.2" y1="668.6" x2="731.3" y2="662.2" stroke="#111" stroke-width="1.4"/>
<line x1="720.9" y1="673.1" x2="732" y2="666.7" stroke="#111" stroke-width="1.4"/>
<line x1="720.6" y1="677" x2="731.7" y2="670.6" stroke="#111" stroke-width="1.4"/>
<line x1="719.1" y1="679.9" x2="730.2" y2="673.5" stroke="#111" stroke-width="1.4"/>
<line x1="702.2" y1="652.8" x2="713.3" y2="646.4" stroke="#111" stroke-width="1.4"/>
<line x1="705.3" y1="652.5" x2="716.4" y2="646.1" stroke="#111" stroke-width="1.4"/>
<line x1="708.8" y1="653.6" x2="719.9" y2="647.2" stroke="#111" stroke-width="1.4"/>
<line x1="712.4" y1="656.1" x2="723.5" y2="649.7" stroke="#111" stroke-width="1.4"/>
<line x1="715.7" y1="659.7" x2="726.8" y2="653.3" stroke="#111" stroke-width="1.4"/>
<path d="M706.9 650 L707.8 649.6 L708.8 649.3 L709.8 649.2 L710.9 649.3 L712.1 649.5 L713.3 649.9 L714.4 650.4 L715.6 651.1 L716.8 652 L718 652.9 L719.1 654 L720.2 655.2 L721.3 656.5 L722.2 657.9 L723.1 659.3 L723.9 660.8 L724.6 662.3 L725.2 663.9 L725.7 665.4 L726.1 667 L726.4 668.5 L726.5 669.9 L726.5 671.3 L726.4 672.6 L726.1 673.8 L725.7 674.9 L725.3 675.9 L724.7 676.7 L723.9 677.5 L723.1 678" fill="none" stroke="#111" stroke-width="1.1"/>
<line x1="701.4" y1="653.2" x2="712.5" y2="646.8" stroke="#111" stroke-width="1.5"/>
<line x1="717.6" y1="681.2" x2="728.7" y2="674.8" stroke="#111" stroke-width="1.5"/>
<ellipse cx="709.5" cy="667.2" rx="9.3" ry="16.2" transform="rotate(-30 709.5 667.2)" fill="#c8c8c8" stroke="#111" stroke-width="1.4"/>
<ellipse cx="709.5" cy="667.2" rx="7.3" ry="12.6" transform="rotate(-30 709.5 667.2)" fill="#d8d8d8" stroke="#111" stroke-width="1.0"/>
<line x1="715.8" y1="663.6" x2="717.4" y2="662.6" stroke="#111" stroke-width="1.3"/>
<line x1="717.6" y1="667.5" x2="719.7" y2="667.6" stroke="#111" stroke-width="1.3"/>
<line x1="718.4" y1="671.4" x2="720.7" y2="672.5" stroke="#111" stroke-width="1.3"/>
<line x1="718.1" y1="674.9" x2="720.3" y2="676.8" stroke="#111" stroke-width="1.3"/>
<line x1="716.8" y1="677.3" x2="718.7" y2="679.9" stroke="#111" stroke-width="1.3"/>
<line x1="714.6" y1="678.6" x2="715.9" y2="681.5" stroke="#111" stroke-width="1.3"/>
<line x1="711.8" y1="678.5" x2="712.4" y2="681.4" stroke="#111" stroke-width="1.3"/>
<line x1="708.7" y1="677" x2="708.5" y2="679.5" stroke="#111" stroke-width="1.3"/>
<line x1="705.7" y1="674.4" x2="704.8" y2="676.2" stroke="#111" stroke-width="1.3"/>
<line x1="703.2" y1="670.8" x2="701.6" y2="671.8" stroke="#111" stroke-width="1.3"/>
<line x1="701.4" y1="666.9" x2="699.3" y2="666.8" stroke="#111" stroke-width="1.3"/>
<line x1="700.6" y1="663" x2="698.3" y2="661.9" stroke="#111" stroke-width="1.3"/>
<line x1="700.9" y1="659.5" x2="698.7" y2="657.6" stroke="#111" stroke-width="1.3"/>
<line x1="702.2" y1="657.1" x2="700.3" y2="654.5" stroke="#111" stroke-width="1.3"/>
<line x1="704.4" y1="655.8" x2="703.1" y2="652.9" stroke="#111" stroke-width="1.3"/>
<line x1="707.2" y1="655.9" x2="706.6" y2="653" stroke="#111" stroke-width="1.3"/>
<line x1="710.3" y1="657.4" x2="710.5" y2="654.9" stroke="#111" stroke-width="1.3"/>
<line x1="713.3" y1="660" x2="714.2" y2="658.2" stroke="#111" stroke-width="1.3"/>
<clipPath id="cc19"><ellipse cx="709.5" cy="667.2" rx="7.3" ry="12.6" transform="rotate(-30 709.5 667.2)" fill="#000" stroke="none" stroke-width="0"/></clipPath>
<g clip-path="url(#cc19)"><line x1="715.8" y1="663.6" x2="726.9" y2="657.2" stroke="#111" stroke-width="1.2"/><line x1="717.8" y1="668" x2="728.8" y2="661.6" stroke="#111" stroke-width="1.2"/><line x1="718.4" y1="672.4" x2="729.5" y2="666" stroke="#111" stroke-width="1.2"/><line x1="717.8" y1="675.9" x2="728.8" y2="669.5" stroke="#111" stroke-width="1.2"/><line x1="715.8" y1="678.1" x2="726.9" y2="671.7" stroke="#111" stroke-width="1.2"/><line x1="712.9" y1="678.7" x2="724" y2="672.3" stroke="#111" stroke-width="1.2"/><line x1="709.5" y1="677.5" x2="720.6" y2="671.1" stroke="#111" stroke-width="1.2"/><line x1="706.1" y1="674.8" x2="717.2" y2="668.4" stroke="#111" stroke-width="1.2"/><line x1="703.2" y1="670.8" x2="714.3" y2="664.4" stroke="#111" stroke-width="1.2"/><line x1="701.2" y1="666.4" x2="712.3" y2="660" stroke="#111" stroke-width="1.2"/><line x1="700.6" y1="662" x2="711.7" y2="655.6" stroke="#111" stroke-width="1.2"/><line x1="701.2" y1="658.5" x2="712.3" y2="652.1" stroke="#111" stroke-width="1.2"/><line x1="703.2" y1="656.3" x2="714.3" y2="649.9" stroke="#111" stroke-width="1.2"/><line x1="706.1" y1="655.7" x2="717.2" y2="649.3" stroke="#111" stroke-width="1.2"/><line x1="709.5" y1="656.9" x2="720.6" y2="650.5" stroke="#111" stroke-width="1.2"/><line x1="712.9" y1="659.6" x2="724" y2="653.2" stroke="#111" stroke-width="1.2"/></g>
<ellipse cx="675.7" cy="683" rx="11.5" ry="20" transform="rotate(-30 675.7 683)" fill="#fff" stroke="#222" stroke-width="1.0"/>
<path d="M657 670.7 L665.7 665.7 L685.7 700.3 L677 705.3Z" fill="#fff" stroke="none" stroke-width="0"/>
<line x1="657" y1="670.7" x2="665.7" y2="665.7" stroke="#222" stroke-width="1.0"/>
<line x1="677" y1="705.3" x2="685.7" y2="700.3" stroke="#222" stroke-width="1.0"/>
<ellipse cx="667" cy="688" rx="11.5" ry="20" transform="rotate(-30 667 688)" fill="#fff" stroke="#222" stroke-width="1.0"/>
<ellipse cx="667" cy="688" rx="10.4" ry="18" transform="rotate(-30 667 688)" fill="none" stroke="#222" stroke-width="0.8"/>
<ellipse cx="668.7" cy="687" rx="6.3" ry="11" transform="rotate(-30 668.7 687)" fill="#fff" stroke="#222" stroke-width="1.0"/>
<ellipse cx="668.7" cy="687" rx="5.2" ry="9" transform="rotate(-30 668.7 687)" fill="none" stroke="#222" stroke-width="0.8"/>
<ellipse cx="673.7" cy="684.1" rx="0.7" ry="1.2" transform="rotate(-30 673.7 684.1)" fill="none" stroke="#222" stroke-width="0.7"/>
<ellipse cx="675.8" cy="691.1" rx="0.7" ry="1.2" transform="rotate(-30 675.8 691.1)" fill="none" stroke="#222" stroke-width="0.7"/>
<ellipse cx="673.7" cy="695.7" rx="0.7" ry="1.2" transform="rotate(-30 673.7 695.7)" fill="none" stroke="#222" stroke-width="0.7"/>
<ellipse cx="668.7" cy="695.2" rx="0.7" ry="1.2" transform="rotate(-30 668.7 695.2)" fill="none" stroke="#222" stroke-width="0.7"/>
<ellipse cx="663.7" cy="689.9" rx="0.7" ry="1.2" transform="rotate(-30 663.7 689.9)" fill="none" stroke="#222" stroke-width="0.7"/>
<ellipse cx="661.7" cy="682.9" rx="0.7" ry="1.2" transform="rotate(-30 661.7 682.9)" fill="none" stroke="#222" stroke-width="0.7"/>
<ellipse cx="663.7" cy="678.3" rx="0.7" ry="1.2" transform="rotate(-30 663.7 678.3)" fill="none" stroke="#222" stroke-width="0.7"/>
<ellipse cx="668.7" cy="678.8" rx="0.7" ry="1.2" transform="rotate(-30 668.7 678.8)" fill="none" stroke="#222" stroke-width="0.7"/>
<ellipse cx="668.7" cy="687" rx="3.7" ry="6.4" transform="rotate(-30 668.7 687)" fill="#fff" stroke="#222" stroke-width="0.9"/>
<path d="M636.3 719.4 L634.4 717.5 L632.5 715.4 L630.8 713.1 L629.2 710.7 L627.9 708.1 L626.8 705.4 L625.9 702.8 L625.2 700.2 L624.9 697.6 L624.8 695.2 L625 692.9 L625.5 690.9 L626.2 689.1 L627.2 687.6 L628.5 686.4 L629.9 685.5 L631.6 685 L633.3 684.9 L635.3 685.1 L637.3 685.7 L639.3 686.6 L641.4 687.8 L643.4 689.4 L645.4 691.2 L647.3 693.3 L649 695.6 L650.6 698 L652 700.6 L653.1 703.2 L654 705.9 L654.7 708.5 L655.1 711.1 L655.2 713.5 L655 715.8 L654.6 717.9 L653.9 719.7 L652.9 721.2 L651.7 722.5 L650.3 723.4 L648.7 723.9 L647.9 722.2 L649.3 721.7 L650.6 720.9 L651.7 719.7 L652.6 718.3 L653.3 716.7 L653.7 714.8 L653.8 712.7 L653.7 710.5 L653.4 708.2 L652.8 705.8 L651.9 703.3 L650.9 700.9 L649.6 698.6 L648.2 696.4 L646.6 694.3 L644.9 692.4 L643.1 690.7 L641.2 689.3 L639.4 688.2 L637.5 687.3 L635.7 686.8 L633.9 686.6 L632.3 686.8 L630.8 687.2 L629.5 688 L628.4 689.1 L627.5 690.5 L626.8 692.1 L626.4 694 L626.2 696 L626.2 698.2 L626.6 700.5 L627.1 702.9 L627.9 705.4 L629 707.8 L630.2 710.1 L631.6 712.4 L633.2 714.5 L634.9 716.4 L636.7 718.1Z" fill="#fff" stroke="#222" stroke-width="1.0"/>
<ellipse cx="647.6" cy="721.6" rx="1.2" ry="2.1" transform="rotate(-30 647.6 721.6)" fill="#fff" stroke="#222" stroke-width="0.9"/>
<ellipse cx="636.8" cy="717.6" rx="1.2" ry="2.1" transform="rotate(-30 636.8 717.6)" fill="#fff" stroke="#222" stroke-width="0.9"/>
<path d="M626.6 727 L623.5 739.9 L611 736.9 L601.5 721 L604.6 708.1 L617.1 711.1Z" fill="#fff" stroke="#222" stroke-width="1.0"/>
<line x1="620.5" y1="730.5" x2="626.6" y2="727" stroke="#222" stroke-width="1.0"/>
<line x1="617.5" y1="743.4" x2="623.5" y2="739.9" stroke="#222" stroke-width="1.0"/>
<line x1="604.9" y1="740.4" x2="611" y2="736.9" stroke="#222" stroke-width="1.0"/>
<line x1="595.5" y1="724.5" x2="601.5" y2="721" stroke="#222" stroke-width="1.0"/>
<line x1="598.5" y1="711.6" x2="604.6" y2="708.1" stroke="#222" stroke-width="1.0"/>
<line x1="611.1" y1="714.6" x2="617.1" y2="711.1" stroke="#222" stroke-width="1.0"/>
<path d="M620.5 730.5 L617.5 743.4 L604.9 740.4 L595.5 724.5 L598.5 711.6 L611.1 714.6Z" fill="#fff" stroke="#222" stroke-width="1.0"/>
<ellipse cx="608" cy="727.5" rx="5.3" ry="9.2" transform="rotate(-30 608 727.5)" fill="none" stroke="#222" stroke-width="1.0"/>
<ellipse cx="608" cy="727.5" rx="4.5" ry="7.9" transform="rotate(-30 608 727.5)" fill="none" stroke="#222" stroke-width="0.7"/>
<ellipse cx="577.1" cy="746.5" rx="8.9" ry="15.5" transform="rotate(-30 577.1 746.5)" fill="#fff" stroke="#222" stroke-width="1.0"/>
<path d="M566.8 734.6 L569.3 733.1 L584.8 759.9 L582.2 761.4Z" fill="#fff" stroke="none" stroke-width="0"/>
<line x1="566.8" y1="734.6" x2="569.3" y2="733.1" stroke="#222" stroke-width="1.0"/>
<line x1="582.2" y1="761.4" x2="584.8" y2="759.9" stroke="#222" stroke-width="1.0"/>
<ellipse cx="574.5" cy="748" rx="8.9" ry="15.5" transform="rotate(-30 574.5 748)" fill="#fff" stroke="#222" stroke-width="1.0"/>
<ellipse cx="574.5" cy="748" rx="7.6" ry="13.2" transform="rotate(-30 574.5 748)" fill="none" stroke="#222" stroke-width="0.8"/>
<ellipse cx="574.5" cy="748" rx="4.5" ry="7.8" transform="rotate(-30 574.5 748)" fill="none" stroke="#222" stroke-width="1.0"/>
<path d="M578.6 747.9 L578.4 753.1 L574.3 753.3 L570.4 748.1 L570.6 742.9 L574.7 742.7Z" fill="none" stroke="#222" stroke-width="0.8"/>
<line x1="395" y1="121" x2="412" y2="132" stroke="#222" stroke-width="1.0"/>
<line x1="793" y1="37" x2="805" y2="45" stroke="#222" stroke-width="1.0"/>
<line x1="754.5" y1="62.5" x2="762.5" y2="68" stroke="#222" stroke-width="1.0"/>
<line x1="711" y1="92.5" x2="716" y2="97" stroke="#222" stroke-width="1.0"/>
<line x1="668" y1="189.7" x2="687" y2="202" stroke="#222" stroke-width="1.0"/>
<line x1="637" y1="207" x2="656" y2="218" stroke="#222" stroke-width="1.0"/>
<line x1="606" y1="225.6" x2="629.4" y2="238" stroke="#222" stroke-width="1.0"/>
<line x1="562" y1="250.6" x2="582.5" y2="263" stroke="#222" stroke-width="1.0"/>
<line x1="524.7" y1="282" x2="542" y2="291" stroke="#222" stroke-width="1.0"/>
<line x1="471" y1="319.5" x2="484" y2="327.5" stroke="#222" stroke-width="1.0"/>
<line x1="375" y1="361" x2="394" y2="372.5" stroke="#222" stroke-width="1.0"/>
<line x1="344" y1="377.5" x2="362.5" y2="387.5" stroke="#222" stroke-width="1.0"/>
<line x1="310" y1="396" x2="329" y2="407" stroke="#222" stroke-width="1.0"/>
<line x1="285" y1="419" x2="294" y2="424" stroke="#222" stroke-width="1.0"/>
<line x1="316" y1="435" x2="324" y2="437.6" stroke="#222" stroke-width="1.0"/>
<line x1="228" y1="462.5" x2="248.5" y2="476.6" stroke="#222" stroke-width="1.0"/>
<line x1="182" y1="494" x2="200" y2="505" stroke="#222" stroke-width="1.0"/>
<line x1="225" y1="507" x2="235" y2="507" stroke="#222" stroke-width="1.0"/>
<line x1="109.7" y1="510" x2="131" y2="523" stroke="#222" stroke-width="1.0"/>
<line x1="452" y1="528" x2="473" y2="540.7" stroke="#222" stroke-width="1.0"/>
<line x1="301" y1="620.5" x2="313.6" y2="630" stroke="#222" stroke-width="1.0"/>
<line x1="271" y1="635.5" x2="286" y2="649" stroke="#222" stroke-width="1.0"/>
<line x1="215.4" y1="664" x2="229" y2="673.6" stroke="#222" stroke-width="1.0"/>
<line x1="155.4" y1="686" x2="189.5" y2="718.6" stroke="#222" stroke-width="1.0"/>
<line x1="98" y1="720" x2="118.6" y2="735" stroke="#222" stroke-width="1.0"/>
<line x1="1192" y1="143" x2="1192" y2="166.5" stroke="#222" stroke-width="1.0"/>
<line x1="1225" y1="199.5" x2="1236.7" y2="209" stroke="#222" stroke-width="1.0"/>
<line x1="1200" y1="211" x2="1213" y2="220.7" stroke="#222" stroke-width="1.0"/>
<line x1="1022" y1="286.8" x2="1041" y2="297.7" stroke="#222" stroke-width="1.0"/>
<line x1="905" y1="368.6" x2="924" y2="378" stroke="#222" stroke-width="1.0"/>
<line x1="845" y1="388.6" x2="865.4" y2="402" stroke="#222" stroke-width="1.0"/>
<line x1="815" y1="422.7" x2="831.3" y2="433.6" stroke="#222" stroke-width="1.0"/>
<line x1="748" y1="447" x2="766" y2="458" stroke="#222" stroke-width="1.0"/>
<line x1="714" y1="465" x2="733" y2="476" stroke="#222" stroke-width="1.0"/>
<line x1="692" y1="482.7" x2="710" y2="493" stroke="#222" stroke-width="1.0"/>
<line x1="665" y1="518" x2="682.7" y2="527.7" stroke="#222" stroke-width="1.0"/>
<line x1="1203" y1="401.8" x2="1223.5" y2="414" stroke="#222" stroke-width="1.0"/>
<line x1="1173" y1="425" x2="1185.4" y2="434.5" stroke="#222" stroke-width="1.0"/>
<line x1="1139" y1="441" x2="1155.4" y2="450.8" stroke="#222" stroke-width="1.0"/>
<line x1="1117.7" y1="458.6" x2="1135.4" y2="472.3" stroke="#222" stroke-width="1.0"/>
<line x1="1093" y1="496.8" x2="1109.5" y2="506.4" stroke="#222" stroke-width="1.0"/>
<line x1="1019.5" y1="511.8" x2="1040" y2="524" stroke="#222" stroke-width="1.0"/>
<line x1="988" y1="548.6" x2="1007" y2="561" stroke="#222" stroke-width="1.0"/>
<line x1="918.6" y1="578.6" x2="940.4" y2="592.3" stroke="#222" stroke-width="1.0"/>
<line x1="878" y1="594.3" x2="896.7" y2="606" stroke="#222" stroke-width="1.0"/>
<line x1="852" y1="611.4" x2="873.6" y2="623.3" stroke="#222" stroke-width="1.0"/>
<line x1="823.6" y1="659.6" x2="843" y2="671.5" stroke="#222" stroke-width="1.0"/>
<line x1="731.4" y1="677.5" x2="755" y2="691" stroke="#222" stroke-width="1.0"/>
<line x1="686.8" y1="705.7" x2="704.6" y2="717.6" stroke="#222" stroke-width="1.0"/>
<line x1="655.6" y1="722" x2="672" y2="734" stroke="#222" stroke-width="1.0"/>
<line x1="631.8" y1="748.8" x2="654" y2="760.7" stroke="#222" stroke-width="1.0"/>
<line x1="590" y1="762" x2="608" y2="774" stroke="#222" stroke-width="1.0"/>
<path d="M106 694 L62.7 690 L72 714.5" fill="none" stroke="#222" stroke-width="1.0"/>
<path d="M121 713 L62.7 751 L57 740" fill="none" stroke="#222" stroke-width="1.0"/>
<line x1="80.5" y1="733" x2="84" y2="744" stroke="#222" stroke-width="1.0"/>
<line x1="55" y1="741" x2="58" y2="765" stroke="#222" stroke-width="1.0"/>
<path d="M304 355 L266 334.5 L627.8 124 L663.8 145" fill="none" stroke="#222" stroke-width="1.0"/>
<line x1="475" y1="204" x2="481" y2="208" stroke="#222" stroke-width="1.0"/>
<path d="M1128 206.6 L1159 185.4 L1170.7 190 L1180 185" fill="none" stroke="#444" stroke-width="0.9"/>
<path d="M1127 214.8 L1141 206.6 L1173 220.7 L1187 210" fill="none" stroke="#444" stroke-width="0.9" stroke-dasharray="20 4"/>
<text x="418.9" y="147.5" style="letter-spacing:0.3px">19</text>
<text x="694.7" y="90.5">6</text>
<text x="724.2" y="58.8" style="letter-spacing:0.3px">13</text>
<text x="771.2" y="32.5" style="letter-spacing:0.3px">18</text>
<text x="691.2" y="221.0" style="letter-spacing:0.3px">17</text>
<text x="658.2" y="230.0">8</text>
<text x="632.6" y="252.0">4</text>
<text x="584.8" y="282.5" style="letter-spacing:0.3px">16</text>
<text x="542.6" y="310.0" style="letter-spacing:0.3px">14</text>
<text x="485.2" y="341.0">23</text>
<text x="398.2" y="385.0">4</text>
<text x="369.2" y="401.0">8</text>
<text x="333.7" y="425.0">9</text>
<text x="295.2" y="437.5">27</text>
<text x="257.2" y="485.0">25</text>
<text x="202.2" y="514.6">32</text>
<text x="135.2" y="533.5">2</text>
<text x="476.2" y="552.4">30</text>
<text x="310.2" y="642.0">7</text>
<text x="288.2" y="664.0" style="letter-spacing:0.3px">21</text>
<text x="231.2" y="687.0">20</text>
<text x="196.9" y="733.6">37</text>
<text x="45.6" y="683.5">40</text>
<text x="48.2" y="778.0" style="letter-spacing:0.3px">12</text>
<text x="1186.2" y="134.7">5</text>
<text x="1236.2" y="222.0">38</text>
<text x="1207.2" y="237.0">26</text>
<text x="1048.7" y="311.4" style="letter-spacing:0.3px">31</text>
<text x="926.0" y="385.0">36</text>
<text x="870.2" y="411.8">2</text>
<text x="834.6" y="444.5">29</text>
<text x="766.2" y="471.8">28</text>
<text x="733.7" y="489.5" style="letter-spacing:0.3px">11</text>
<text x="709.2" y="508.6" style="letter-spacing:0.3px">10</text>
<text x="684.7" y="544.0">35</text>
<text x="1233.7" y="423.6">2</text>
<text x="1187.2" y="446.7" style="letter-spacing:0.3px">15</text>
<text x="1155.2" y="461.7" style="letter-spacing:0.3px">11</text>
<text x="1136.0" y="487.3" style="letter-spacing:0.3px">10</text>
<text x="1114.2" y="517.3">34</text>
<text x="1044.6" y="536.4">3</text>
<text x="1010.2" y="569.0">25</text>
<text x="942.2" y="603.0">24</text>
<text x="897.2" y="621.0" style="letter-spacing:0.3px">11</text>
<text x="873.5" y="636.0" style="letter-spacing:0.3px">10</text>
<text x="843.6" y="680.4">33</text>
<text x="758.9" y="704.0">2</text>
<text x="705.2" y="734.0">7</text>
<text x="672.6" y="750.0" style="letter-spacing:0.3px">21</text>
<text x="654.8" y="772.6" style="letter-spacing:0.3px">1</text>
<text x="610.2" y="787.5">20</text>
<rect x="445.0" y="128.0" width="26.0" height="25.5" fill="#fff" stroke="#111" stroke-width="2"/>
<text x="458.0" y="147.2" text-anchor="middle" class="b">41</text>
<rect x="446.5" y="180.5" width="28.0" height="25.0" fill="#fff" stroke="#111" stroke-width="1"/>
<text x="460.5" y="199.5" text-anchor="middle">22</text>
<rect x="324.4" y="436.0" width="25.0" height="25.6" fill="#fff" stroke="#111" stroke-width="2"/>
<text x="336.9" y="455.3" text-anchor="middle" class="b">41</text>
<rect x="235.0" y="495.8" width="25.5" height="25.2" fill="#fff" stroke="#111" stroke-width="2"/>
<text x="247.8" y="514.9" text-anchor="middle" class="b">41</text>
<rect x="506.0" y="534.0" width="25.0" height="25.0" fill="#fff" stroke="#111" stroke-width="2"/>
<text x="518.5" y="553.0" text-anchor="middle" class="b">41</text>
<rect x="115.5" y="735.5" width="25.8" height="25.0" fill="#fff" stroke="#111" stroke-width="1"/>
<text x="128.4" y="754.5" text-anchor="middle">39</text>
<rect x="1074.5" y="293.0" width="25.0" height="24.7" fill="#fff" stroke="#111" stroke-width="2"/>
<text x="1087.0" y="311.9" text-anchor="middle" class="b">41</text>
</g>
</svg></body></html>
